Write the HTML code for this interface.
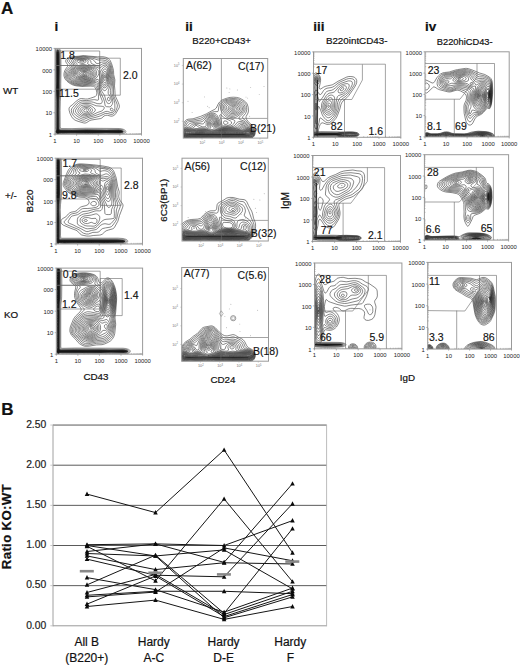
<!DOCTYPE html>
<html><head><meta charset="utf-8"><style>
html,body{margin:0;padding:0;background:#fff;}
svg{display:block;}
text{font-family:"Liberation Sans", sans-serif;}
</style></head><body>
<svg width="520" height="666" viewBox="0 0 520 666">
<defs><clipPath id="ciWT"><rect x="55" y="48.4" width="86.5" height="85.79999999999998"/></clipPath><clipPath id="ciHet"><rect x="56" y="158.2" width="86.5" height="85.80000000000001"/></clipPath><clipPath id="ciKO"><rect x="56.3" y="268.1" width="86.3" height="86.09999999999997"/></clipPath><clipPath id="ciiWT"><rect x="183.3" y="58.5" width="84.39999999999998" height="79.6"/></clipPath><clipPath id="ciiHet"><rect x="182" y="158.2" width="86.30000000000001" height="82.80000000000001"/></clipPath><clipPath id="ciiKO"><rect x="181.7" y="267.5" width="86.80000000000001" height="93.69999999999999"/></clipPath><clipPath id="ciiiWT"><rect x="313.5" y="51.9" width="87.30000000000001" height="85.4"/></clipPath><clipPath id="ciiiHet"><rect x="312.6" y="155.5" width="87.89999999999998" height="85.9"/></clipPath><clipPath id="ciiiKO"><rect x="314.5" y="263" width="87.39999999999998" height="85.80000000000001"/></clipPath><clipPath id="civWT"><rect x="425" y="51.8" width="84.19999999999999" height="85.10000000000001"/></clipPath><clipPath id="civHet"><rect x="424.4" y="154.7" width="84.20000000000005" height="85.4"/></clipPath><clipPath id="civKO"><rect x="427.7" y="262.4" width="83.80000000000001" height="86.70000000000005"/></clipPath></defs>
<rect width="520" height="666" fill="#fff"/>
<g clip-path="url(#ciWT)"><path d="M58.0,134.4 57.5,134.3 57.2,134.1 55.8,132.4 55.4,131.7 55.5,131.2 56.3,129.7 56.5,126.7 56.6,101.2 56.1,94.7 55.9,90.2 56.2,81.9 56.1,54.6 56.2,52.6 56.6,50.9 57.2,49.9 57.8,49.6 58.5,50.0 59.0,50.9 59.4,52.6 59.5,54.6 59.7,70.9 59.4,83.7 59.6,93.4 59.1,100.4 58.9,111.2 59.1,127.7 59.2,128.9 59.5,129.6 60.8,129.9 72.0,130.1 86.2,129.7 106.2,129.9 118.8,129.8 120.8,130.0 122.0,130.3 123.1,130.9 123.4,131.7 123.0,132.4 122.2,132.8 121.2,133.1 119.2,133.3 105.2,133.1 93.8,133.5 71.2,133.2 60.0,133.4 59.1,133.7 58.0,134.4Z" fill="#151515" stroke="none"/><path fill="none" stroke="#242424" stroke-width="0.55" d="M85.2,74.4 84.5,74.6 83.8,74.4 83.2,73.9 83.3,73.4 84.2,72.9 85.5,73.1 85.8,73.4 85.9,73.9 85.2,74.4 M85.5,75.2 84.0,75.2 82.8,74.7 82.0,73.9 82.1,73.2 82.8,72.6 84.0,72.2 85.2,72.2 86.2,72.5 87.0,73.2 87.1,73.9 86.6,74.7 85.5,75.2 M85.5,75.9 83.5,75.8 81.5,74.9 80.6,73.9 80.6,73.2 80.9,72.7 82.0,71.8 84.0,71.4 86.0,71.5 87.4,72.2 88.2,73.2 88.1,74.4 87.2,75.4 85.5,75.9 M87.0,76.4 85.8,76.6 84.2,76.6 82.8,76.3 81.1,75.7 80.2,75.2 79.4,74.4 79.1,73.7 79.2,72.7 79.8,72.0 80.5,71.5 82.8,70.7 85.2,70.6 87.5,71.2 88.9,72.4 89.3,73.2 89.4,74.2 88.7,75.4 88.0,76.0 87.0,76.4 M87.2,77.2 85.8,77.4 84.0,77.2 81.8,76.7 79.6,75.9 78.5,75.2 77.9,74.4 77.7,73.4 77.9,72.4 78.5,71.6 79.4,70.9 82.0,70.0 85.5,69.9 87.0,70.2 88.2,70.7 89.3,71.4 90.1,72.4 90.5,73.4 90.5,74.4 90.1,75.4 89.4,76.2 88.5,76.7 87.2,77.2 M87.5,77.9 85.5,78.1 83.5,77.9 80.0,77.0 78.0,76.2 77.1,75.4 76.6,74.4 76.5,73.2 77.0,71.9 77.8,70.9 78.8,70.2 80.2,69.6 82.0,69.2 84.0,69.1 86.0,69.2 87.8,69.6 89.2,70.3 90.4,71.2 91.1,72.2 91.6,73.4 91.6,74.7 91.0,75.9 90.2,76.7 89.0,77.5 87.5,77.9 M105.0,77.7 104.8,77.2 105.0,76.7 105.2,77.2 105.0,77.7 M87.5,78.7 85.5,78.8 83.2,78.5 79.0,77.5 76.9,76.7 75.8,75.7 75.4,74.4 75.5,72.9 76.2,71.4 77.2,70.2 78.5,69.4 80.2,68.7 82.2,68.4 84.5,68.3 86.8,68.6 88.8,69.2 90.5,70.1 91.7,71.2 92.5,72.4 92.8,73.9 92.5,75.4 91.8,76.7 90.8,77.5 89.2,78.2 87.5,78.7 M105.2,80.5 104.8,80.6 104.2,80.2 103.9,78.4 104.2,76.2 104.5,75.5 105.0,75.2 105.6,75.9 106.0,77.7 105.9,79.4 105.2,80.5 M87.2,79.4 85.0,79.5 82.2,79.1 77.8,78.1 75.7,77.2 74.6,75.9 74.3,74.4 74.7,72.4 75.7,70.7 77.0,69.3 78.5,68.5 80.5,67.9 83.0,67.6 85.2,67.6 87.8,68.0 90.0,68.8 92.0,69.9 93.2,71.2 93.9,72.7 93.9,74.4 93.4,76.2 92.5,77.3 91.2,78.2 89.5,79.0 87.2,79.4 M105.0,82.7 104.2,82.7 103.5,82.0 103.1,80.9 103.0,79.4 103.1,77.2 103.4,75.4 104.0,74.1 104.8,73.5 105.5,73.8 106.1,74.9 106.6,76.7 106.8,78.7 106.7,79.9 106.4,81.2 105.8,82.2 105.0,82.7 M86.8,80.2 83.5,80.1 77.8,79.1 75.8,78.4 74.3,77.4 73.4,75.9 73.3,73.9 74.1,71.7 75.5,69.7 77.0,68.4 78.8,67.5 81.2,66.9 84.0,66.7 86.8,67.0 89.8,67.8 92.3,68.9 94.0,70.1 94.9,71.4 95.3,73.2 95.0,75.2 94.2,76.9 93.0,78.2 91.2,79.1 89.2,79.8 86.8,80.2 M105.0,84.4 104.2,84.5 103.8,84.3 102.8,83.4 102.3,81.9 102.0,79.7 102.3,76.4 103.0,73.7 104.0,71.8 104.5,71.4 105.0,71.3 105.8,71.8 106.5,73.5 107.3,76.9 107.6,79.4 107.4,81.2 106.8,82.7 106.0,83.8 105.0,84.4 M87.0,110.2 86.7,110.2 86.8,109.9 87.0,109.9 87.0,110.2 M82.8,61.9 80.5,61.8 79.8,61.5 79.6,61.1 80.2,60.6 81.8,60.4 83.2,60.5 84.2,60.9 84.3,61.1 84.0,61.5 82.8,61.9 M86.2,80.9 83.0,80.8 76.8,79.8 74.5,78.9 73.0,77.7 72.5,76.9 72.2,75.9 72.1,74.7 72.4,73.4 73.7,70.7 75.8,68.4 77.8,67.0 79.8,66.3 82.5,65.9 84.8,65.9 88.0,66.5 92.2,67.8 94.5,68.9 95.9,70.2 96.6,71.7 96.6,73.7 96.0,75.9 94.9,77.7 93.4,78.9 91.5,79.9 89.0,80.6 86.2,80.9 M104.5,86.2 103.8,86.0 103.0,85.5 101.8,83.9 101.3,81.9 101.1,78.9 101.6,74.9 102.3,71.9 103.6,69.7 104.2,69.0 105.0,68.8 106.0,69.2 106.8,70.7 108.2,77.7 108.4,79.9 108.1,81.9 107.1,84.2 105.8,85.7 104.5,86.2 M86.8,111.9 85.2,112.0 84.2,111.7 83.8,111.2 83.7,110.7 84.1,109.7 85.0,109.0 86.0,108.7 87.2,108.7 88.3,109.2 88.8,109.9 88.7,110.7 88.0,111.4 86.8,111.9 M83.8,63.2 82.0,63.4 79.2,62.8 77.5,62.0 77.1,61.6 77.0,61.1 77.4,60.6 78.2,60.3 81.5,59.8 84.2,59.9 85.9,60.6 86.2,61.1 85.9,61.9 85.0,62.6 83.8,63.2 M85.8,81.7 83.2,81.6 79.8,81.3 77.0,80.9 75.2,80.4 73.6,79.7 72.3,78.7 71.5,77.7 71.0,76.4 71.0,74.7 71.5,72.9 72.5,70.9 74.0,69.0 75.5,67.5 77.2,66.3 79.2,65.3 81.8,64.5 83.0,64.3 84.5,64.5 94.2,67.5 96.0,68.4 97.4,69.4 98.4,70.7 98.9,71.9 98.9,73.4 98.1,75.4 97.0,77.2 95.2,78.8 93.2,80.0 91.2,80.8 88.8,81.3 85.8,81.7 M105.0,87.9 104.0,87.9 103.0,87.4 101.8,85.9 100.9,84.2 100.2,80.9 99.8,74.9 100.2,72.4 101.9,69.2 103.5,67.3 104.2,66.8 105.0,66.7 105.8,66.8 106.5,67.3 107.0,67.9 107.5,69.0 109.2,79.9 108.9,82.4 107.9,84.9 106.5,86.9 105.0,87.9 M85.8,113.4 83.8,113.3 83.0,112.9 82.2,112.2 81.8,111.4 81.7,110.7 81.9,109.9 82.3,109.2 83.8,108.0 85.8,107.5 87.8,107.6 89.5,108.4 90.5,109.7 90.5,110.4 90.2,111.2 89.5,111.9 88.5,112.5 85.8,113.4 M104.8,90.7 104.0,90.5 103.2,90.0 101.5,87.5 100.1,84.7 98.8,80.2 98.0,79.3 96.8,79.4 93.0,81.0 90.2,81.8 87.0,82.3 83.8,82.5 78.5,82.0 75.8,81.6 73.2,80.6 71.4,79.2 70.4,77.9 69.9,76.4 69.8,74.9 70.3,73.2 72.0,70.2 76.5,65.4 77.1,64.4 76.8,63.6 75.0,61.6 75.0,60.9 75.4,60.4 77.2,59.7 81.0,59.2 83.8,59.2 86.0,59.6 87.3,60.1 88.1,60.9 88.2,61.6 87.6,63.4 88.1,64.2 89.7,64.9 94.0,66.2 98.8,68.1 99.5,68.1 100.2,67.8 102.8,65.8 104.0,65.2 105.8,65.1 107.0,65.9 108.0,67.3 108.6,69.2 109.0,74.2 110.0,78.7 110.1,80.9 109.4,83.9 108.0,87.2 106.2,89.8 105.5,90.4 104.8,90.7 M109.2,100.8 108.8,100.9 108.2,100.7 107.5,99.7 107.5,98.2 107.8,97.6 108.2,97.3 109.2,97.6 109.9,98.7 109.9,99.9 109.2,100.8 M85.2,114.7 84.0,114.7 82.8,114.4 81.6,113.7 80.6,112.7 80.1,111.7 79.9,110.7 80.2,109.4 80.8,108.4 81.8,107.4 82.8,106.9 85.8,106.3 87.2,106.2 88.8,106.5 90.0,107.0 91.0,107.7 91.9,108.7 92.4,109.7 92.5,110.7 92.0,111.7 91.0,112.5 89.5,113.3 87.0,114.3 85.2,114.7 M109.5,103.5 108.5,103.6 107.8,103.3 107.0,102.7 106.5,101.9 105.8,100.2 104.5,95.4 102.1,91.7 98.2,82.5 97.8,81.6 97.2,81.2 96.5,81.0 95.8,81.1 91.2,82.4 87.2,83.0 83.5,83.3 80.2,83.1 76.8,82.7 74.2,82.0 71.8,80.7 70.0,79.2 69.2,77.9 68.7,76.4 68.7,74.9 69.1,73.2 70.3,70.9 74.2,66.4 75.1,64.9 74.9,63.9 73.3,61.4 73.3,60.6 73.8,60.0 75.0,59.4 77.0,58.9 82.2,58.5 85.0,58.6 87.5,59.2 89.8,60.1 90.9,61.1 91.0,62.9 91.6,63.6 96.8,65.8 98.2,66.1 99.2,65.9 102.5,64.0 104.2,63.5 106.2,63.9 107.1,64.4 107.9,65.2 108.8,66.7 109.4,68.7 109.8,74.4 110.8,78.7 111.0,80.2 110.9,81.9 110.5,84.2 108.4,90.4 108.1,91.9 108.3,93.7 110.5,96.9 111.3,99.4 111.3,100.9 111.0,102.0 110.4,102.9 109.5,103.5 M85.0,115.9 83.2,115.9 81.5,115.3 79.3,113.7 78.0,111.9 77.8,110.7 78.2,109.2 79.3,107.4 80.8,106.0 82.0,105.4 83.8,105.0 86.8,104.9 89.0,105.1 90.5,105.5 92.0,106.3 93.7,107.7 95.0,108.9 95.3,109.7 95.2,110.7 94.3,111.9 93.1,112.9 90.2,114.3 85.0,115.9 M109.8,106.9 106.6,106.7 105.8,106.3 105.2,105.8 104.4,101.4 103.6,98.9 101.2,93.6 98.5,85.9 97.5,83.8 96.7,82.9 96.0,82.6 95.0,82.5 89.2,83.5 83.8,84.1 77.8,83.7 75.2,83.3 72.8,82.3 70.8,81.1 69.0,79.4 68.1,78.2 67.6,76.7 67.5,74.9 67.9,73.2 69.0,70.9 72.6,66.9 73.6,65.2 73.4,63.9 71.5,61.1 71.5,60.4 72.0,59.6 73.5,58.9 75.8,58.4 82.5,57.8 85.0,57.9 90.8,59.0 92.8,59.6 94.2,60.6 95.8,62.9 97.0,63.6 98.2,63.6 101.5,62.2 104.0,61.9 105.2,62.1 106.5,62.5 107.5,63.2 108.5,64.2 109.5,65.9 110.2,68.2 110.5,70.2 110.7,74.4 111.9,79.7 111.9,82.2 110.4,90.4 110.3,92.2 110.6,93.9 112.4,98.9 112.8,101.7 112.7,103.2 112.0,104.8 110.8,106.4 109.8,106.9 M84.5,117.4 82.5,117.3 80.2,116.2 76.8,113.7 75.6,111.9 75.5,110.4 76.2,108.9 78.8,105.5 80.5,104.1 81.8,103.7 83.0,103.5 89.8,103.6 91.8,104.0 96.0,105.8 102.2,106.3 103.6,106.7 104.2,107.2 104.2,108.2 103.7,109.2 102.8,110.2 101.3,111.2 97.2,112.6 92.8,114.8 84.5,117.4 M112.2,111.0 111.2,110.9 110.4,109.9 110.4,108.7 111.0,108.0 112.2,108.3 113.0,109.2 113.0,110.2 112.8,110.7 112.2,111.0 M84.2,119.2 83.2,119.2 82.0,119.0 79.2,117.6 75.4,114.9 74.4,113.9 73.6,112.7 73.3,110.9 73.7,109.4 74.5,108.2 77.7,104.2 78.8,103.3 80.0,102.5 81.2,102.1 82.5,101.9 86.0,102.1 91.8,101.9 93.5,102.3 97.2,103.6 100.0,103.8 101.2,103.4 102.0,102.7 102.3,101.7 102.1,100.4 100.3,95.9 98.9,90.2 98.0,87.5 97.0,85.4 95.8,84.2 95.0,83.9 93.8,83.8 82.8,84.9 77.0,84.4 74.2,83.8 72.0,82.8 69.8,81.4 68.0,79.7 67.0,78.2 66.5,76.7 66.3,74.9 66.7,72.9 67.1,71.7 67.9,70.4 71.3,66.9 71.9,65.9 72.2,65.2 71.8,63.9 69.6,61.4 69.4,60.6 69.5,60.1 70.1,59.4 70.8,58.9 73.2,58.1 75.5,57.7 83.8,57.0 93.0,58.3 98.0,60.0 103.0,60.0 105.8,60.6 107.8,61.7 109.2,63.4 110.3,65.7 111.2,68.9 111.6,74.4 112.7,78.7 112.9,80.4 112.3,86.7 112.0,93.2 112.4,95.2 114.2,100.4 114.8,103.2 114.9,108.4 114.5,110.4 113.5,111.9 112.2,112.6 110.8,112.6 107.5,111.4 105.8,111.4 100.2,113.8 93.8,116.0 89.0,117.3 84.2,119.2 M84.5,121.2 82.5,121.0 79.8,120.0 76.2,118.2 74.2,116.7 72.8,114.9 71.8,112.9 71.3,110.7 71.6,108.9 72.4,107.7 76.7,102.9 78.8,101.3 80.5,100.5 82.2,100.3 86.8,100.6 93.2,99.7 94.8,99.7 97.2,100.2 98.2,100.1 98.6,99.2 98.4,94.4 97.6,89.9 97.0,88.1 96.2,86.7 95.4,85.7 94.4,85.2 92.2,85.0 82.2,85.7 76.8,85.2 74.2,84.6 72.0,83.7 69.8,82.4 67.7,80.7 66.3,78.9 65.5,77.2 65.1,75.2 65.3,73.2 65.7,71.7 66.5,70.2 67.5,68.9 69.9,66.4 70.4,65.2 70.0,64.2 67.8,61.9 67.5,61.1 67.6,60.1 68.0,59.4 68.9,58.6 71.2,57.7 74.0,57.2 83.2,56.3 93.0,57.2 98.0,58.1 103.0,58.2 105.5,58.8 107.8,59.9 109.5,61.8 110.8,64.4 112.0,68.4 112.4,70.4 112.6,74.4 113.6,78.4 113.9,80.2 113.5,85.9 113.5,94.2 114.2,97.0 117.1,104.2 117.4,105.9 117.0,107.9 115.9,110.7 115.1,112.2 114.0,113.4 112.8,114.2 111.0,114.4 107.2,113.4 105.2,113.5 99.8,116.1 95.0,117.5 89.5,118.8 85.8,120.8 84.5,121.2 M85.8,122.9 84.8,123.1 83.5,122.9 78.0,121.3 75.1,120.2 73.3,118.9 71.6,116.7 70.0,113.4 69.1,110.2 69.0,108.9 69.2,107.9 70.0,106.6 72.8,104.4 75.5,101.8 78.2,99.7 79.8,98.8 81.5,98.5 85.5,99.0 87.5,99.0 90.5,98.2 95.2,96.6 96.2,95.6 96.8,94.1 96.8,92.2 96.2,89.7 95.1,87.4 94.3,86.7 93.5,86.3 90.8,86.1 81.8,86.5 76.0,85.8 73.2,85.1 71.2,84.2 69.0,82.8 67.0,81.2 65.6,79.7 64.7,78.2 64.2,76.7 63.9,75.2 64.1,72.9 64.7,70.9 65.6,69.2 67.6,66.4 67.9,65.7 67.7,64.7 65.9,62.1 65.7,61.4 65.8,60.4 66.3,59.4 67.2,58.5 68.5,57.7 69.8,57.2 72.5,56.7 78.8,56.2 83.0,55.6 84.8,55.6 88.8,56.1 97.5,56.8 102.8,56.7 105.8,57.3 108.2,58.4 109.2,59.3 110.0,60.2 111.6,63.6 113.1,68.7 113.5,70.7 113.7,74.7 114.9,79.9 114.5,85.9 114.9,90.4 115.1,94.7 115.7,96.9 117.6,100.9 119.0,104.4 119.4,106.2 119.2,107.7 115.9,113.4 114.8,114.8 113.2,115.8 112.2,116.1 111.0,116.2 107.5,115.3 105.8,115.3 104.2,115.9 101.8,118.0 100.8,118.5 91.0,120.1 89.2,120.9 86.8,122.5 85.8,122.9"/><path fill="none" stroke="#444" stroke-width="0.5" d="M58.0,133.8 57.2,133.4 56.2,132.2 56.0,131.7 56.7,129.9 56.8,128.9 57.0,112.7 56.9,100.4 56.5,94.7 56.4,90.7 56.6,82.2 56.5,54.9 56.8,51.6 57.2,50.7 57.8,50.3 58.2,50.6 58.7,51.4 59.1,54.9 59.2,70.9 59.0,83.7 59.2,93.9 58.7,100.2 58.6,111.2 58.7,128.2 59.1,129.9 59.5,130.2 60.5,130.3 71.8,130.5 86.5,130.1 106.0,130.4 118.8,130.2 121.5,130.5 122.5,131.1 122.8,131.7 122.5,132.2 121.8,132.5 119.0,133.0 105.2,132.7 93.8,133.1 71.2,132.8 59.8,133.0 59.0,133.2 58.0,133.8 M58.0,134.7 57.2,134.4 55.5,132.4 55.2,131.7 56.2,129.4 56.4,126.7 56.5,101.4 55.8,90.2 56.1,81.9 55.9,54.6 56.1,52.4 56.4,50.9 57.0,49.8 57.8,49.3 58.5,49.7 59.1,50.9 59.5,52.4 59.6,54.9 59.8,70.9 59.5,83.9 59.7,93.4 59.2,100.2 59.1,110.9 59.2,127.7 59.5,129.3 60.0,129.6 60.8,129.7 71.8,129.9 86.2,129.5 106.2,129.8 119.0,129.7 120.8,129.8 122.5,130.3 123.4,130.9 123.7,131.7 123.2,132.4 122.2,132.9 121.0,133.3 119.0,133.5 105.0,133.2 94.0,133.6 71.0,133.3 60.0,133.6 59.2,133.8 58.0,134.7 M58.2,135.7 57.8,135.8 57.2,135.5 56.0,133.9 54.4,132.4 54.2,131.7 54.4,130.9 55.6,129.2 55.8,126.9 55.9,101.4 55.2,89.9 55.4,81.4 55.3,54.1 55.6,51.6 56.1,49.9 56.8,48.8 57.8,48.2 58.8,48.7 59.6,50.1 60.1,52.4 60.2,54.6 60.4,70.7 60.2,83.7 60.3,92.7 59.8,100.3 59.6,110.7 59.7,126.9 60.0,128.7 60.5,129.0 61.3,129.2 71.8,129.3 86.2,128.9 106.5,129.1 118.8,129.1 121.0,129.3 123.0,129.8 124.3,130.7 124.7,131.7 124.4,132.4 123.2,133.2 121.5,133.8 119.5,134.0 104.5,133.8 94.5,134.2 71.8,134.0 61.0,134.2 59.8,134.4 58.2,135.7 M58.0,137.0 57.5,136.9 57.0,136.5 55.5,134.4 53.5,132.7 53.1,131.7 53.4,130.7 55.0,128.9 55.3,126.9 55.4,101.7 54.5,89.9 54.8,80.9 54.7,54.1 55.0,51.4 55.6,49.1 56.5,47.7 57.0,47.2 57.8,47.0 58.5,47.3 59.0,47.7 59.9,49.1 60.6,51.6 60.9,54.6 61.1,70.9 60.8,83.9 60.9,92.7 60.3,101.2 60.1,110.4 60.2,126.4 60.4,127.7 60.6,128.2 61.0,128.4 62.0,128.5 72.0,128.6 86.0,128.2 119.2,128.5 121.8,128.8 124.0,129.5 125.3,130.4 125.7,130.9 125.9,131.7 125.5,132.7 124.2,133.5 122.2,134.2 120.0,134.6 104.0,134.4 93.5,134.9 71.5,134.6 61.2,134.9 60.0,135.2 58.8,136.6 58.0,137.0"/></g>
<path d="M55.00,51.00 L99.70,51.00 L99.70,65.50 L55.00,65.50" stroke="#666" stroke-width="0.6" fill="none"/>
<path d="M55.00,65.50 L99.70,65.50 L99.70,89.20 L55.00,89.20" stroke="#666" stroke-width="0.6" fill="none"/>
<path d="M99.70,58.20 L120.30,58.20 L120.30,95.20 L99.70,95.20 L99.70,58.20" stroke="#666" stroke-width="0.6" fill="none"/>
<rect x="55" y="48.4" width="86.5" height="85.79999999999998" fill="none" stroke="#9a9a9a" stroke-width="1.0"/>
<text x="52.00" y="51.10" font-size="5.9" text-anchor="end" fill="#222">10000</text>
<line x1="53.40" y1="48.40" x2="55.00" y2="48.40" stroke="#777" stroke-width="0.5"/>
<text x="52.00" y="72.55" font-size="5.9" text-anchor="end" fill="#222">000</text>
<line x1="53.40" y1="69.85" x2="55.00" y2="69.85" stroke="#777" stroke-width="0.5"/>
<text x="52.00" y="94.00" font-size="5.9" text-anchor="end" fill="#222">100</text>
<line x1="53.40" y1="91.30" x2="55.00" y2="91.30" stroke="#777" stroke-width="0.5"/>
<text x="52.00" y="115.45" font-size="5.9" text-anchor="end" fill="#222">10</text>
<line x1="53.40" y1="112.75" x2="55.00" y2="112.75" stroke="#777" stroke-width="0.5"/>
<text x="52.00" y="136.90" font-size="5.9" text-anchor="end" fill="#222">1</text>
<line x1="53.40" y1="134.20" x2="55.00" y2="134.20" stroke="#777" stroke-width="0.5"/>
<path d="M55.00,127.74h1.2M61.51,134.20v-1.2M55.00,123.97h1.2M65.32,134.20v-1.2M55.00,121.29h1.2M68.02,134.20v-1.2M55.00,119.21h1.2M70.12,134.20v-1.2M55.00,117.51h1.2M71.83,134.20v-1.2M55.00,116.07h1.2M73.28,134.20v-1.2M55.00,114.83h1.2M74.53,134.20v-1.2M55.00,113.73h1.2M75.64,134.20v-1.2M55.00,106.29h1.2M83.13,134.20v-1.2M55.00,102.52h1.2M86.94,134.20v-1.2M55.00,99.84h1.2M89.64,134.20v-1.2M55.00,97.76h1.2M91.74,134.20v-1.2M55.00,96.06h1.2M93.45,134.20v-1.2M55.00,94.62h1.2M94.90,134.20v-1.2M55.00,93.38h1.2M96.15,134.20v-1.2M55.00,92.28h1.2M97.26,134.20v-1.2M55.00,84.84h1.2M104.76,134.20v-1.2M55.00,81.07h1.2M108.57,134.20v-1.2M55.00,78.39h1.2M111.27,134.20v-1.2M55.00,76.31h1.2M113.37,134.20v-1.2M55.00,74.61h1.2M115.08,134.20v-1.2M55.00,73.17h1.2M116.53,134.20v-1.2M55.00,71.93h1.2M117.78,134.20v-1.2M55.00,70.83h1.2M118.89,134.20v-1.2M55.00,63.39h1.2M126.38,134.20v-1.2M55.00,59.62h1.2M130.19,134.20v-1.2M55.00,56.94h1.2M132.89,134.20v-1.2M55.00,54.86h1.2M134.99,134.20v-1.2M55.00,53.16h1.2M136.70,134.20v-1.2M55.00,51.72h1.2M138.15,134.20v-1.2M55.00,50.48h1.2M139.40,134.20v-1.2M55.00,49.38h1.2M140.51,134.20v-1.2" stroke="#888" stroke-width="0.45" fill="none"/>
<text x="55.00" y="142.80" font-size="5.9" text-anchor="middle" fill="#222">1</text>
<line x1="55.00" y1="134.20" x2="55.00" y2="135.80" stroke="#777" stroke-width="0.5"/>
<text x="76.62" y="142.80" font-size="5.9" text-anchor="middle" fill="#222">10</text>
<line x1="76.62" y1="134.20" x2="76.62" y2="135.80" stroke="#777" stroke-width="0.5"/>
<text x="98.25" y="142.80" font-size="5.9" text-anchor="middle" fill="#222">100</text>
<line x1="98.25" y1="134.20" x2="98.25" y2="135.80" stroke="#777" stroke-width="0.5"/>
<text x="119.88" y="142.80" font-size="5.9" text-anchor="middle" fill="#222">1000</text>
<line x1="119.88" y1="134.20" x2="119.88" y2="135.80" stroke="#777" stroke-width="0.5"/>
<text x="141.50" y="142.80" font-size="5.9" text-anchor="middle" fill="#222">10000</text>
<line x1="141.50" y1="134.20" x2="141.50" y2="135.80" stroke="#777" stroke-width="0.5"/>
<text x="60.30" y="58.78" font-size="10.5" text-anchor="start" fill="#111" stroke="#111" stroke-width="0.15">1.8</text>
<text x="59.10" y="97.48" font-size="10.5" text-anchor="start" fill="#111" stroke="#111" stroke-width="0.15">11.5</text>
<text x="123.00" y="78.98" font-size="10.5" text-anchor="start" fill="#111" stroke="#111" stroke-width="0.15">2.0</text>
<g clip-path="url(#ciHet)"><path d="M58.2,244.1 57.8,244.0 57.3,243.4 56.9,242.4 56.6,241.2 56.7,238.4 56.6,223.9 56.9,206.9 56.8,203.4 56.1,198.7 55.9,194.2 56.2,172.2 56.1,161.4 56.3,159.7 56.6,158.7 57.2,157.8 58.0,157.5 58.8,157.8 59.4,158.7 59.7,159.9 59.9,161.7 60.0,193.7 59.8,198.9 59.2,204.0 59.1,210.2 59.4,220.9 59.4,237.7 59.5,238.9 59.8,239.4 60.5,239.6 65.2,239.5 74.8,239.6 91.5,239.5 116.8,239.5 123.2,240.0 124.6,240.4 125.0,240.8 125.2,241.2 125.1,241.7 124.2,242.3 123.0,242.7 121.0,242.8 104.2,243.2 97.0,242.9 91.2,243.1 73.0,243.0 64.8,243.2 60.0,243.0 59.2,243.1 58.2,244.1Z" fill="#151515" stroke="none"/><path fill="none" stroke="#242424" stroke-width="0.55" d="M86.8,183.7 85.2,183.7 84.8,183.4 84.6,182.9 85.0,182.5 85.5,182.3 87.0,182.4 87.5,182.7 87.6,183.2 86.8,183.7 M86.5,184.5 84.8,184.5 83.5,184.1 82.8,183.4 82.8,182.7 83.8,181.8 85.2,181.4 87.0,181.5 88.5,182.2 88.9,182.9 88.6,183.7 87.8,184.2 86.5,184.5 M85.5,185.2 83.2,185.1 81.8,184.5 81.2,183.4 81.6,182.2 82.2,181.6 83.2,181.0 84.5,180.7 85.8,180.6 88.5,181.2 89.5,181.7 90.3,182.4 90.4,183.4 90.1,183.9 89.5,184.4 87.8,185.0 85.5,185.2 M84.5,186.0 83.0,185.9 81.8,185.6 80.8,185.1 80.1,184.2 79.9,183.2 80.3,182.2 81.2,181.2 82.2,180.5 84.8,179.8 87.8,180.1 90.5,181.1 91.4,181.7 91.9,182.4 92.1,183.2 92.0,183.9 91.5,184.7 90.8,185.2 89.0,185.6 84.5,186.0 M84.0,186.7 82.2,186.6 80.8,186.2 79.7,185.4 78.9,184.2 78.8,182.9 79.3,181.9 80.2,180.8 81.8,179.9 83.2,179.3 84.8,179.1 88.2,179.4 90.2,179.9 91.8,180.6 92.8,181.3 93.4,182.2 93.7,183.2 93.5,184.4 92.8,185.4 91.8,186.1 90.0,186.5 84.0,186.7 M91.0,187.5 86.5,187.3 82.8,187.5 80.8,187.1 79.2,186.3 78.1,184.9 77.7,183.7 77.8,182.4 78.6,181.2 80.0,180.0 81.5,179.1 83.2,178.5 85.0,178.3 87.0,178.4 89.5,178.8 91.8,179.5 93.3,180.2 94.4,181.2 95.0,182.2 95.1,183.4 94.7,184.9 93.8,186.2 92.5,187.1 91.0,187.5 M92.5,188.2 90.8,188.4 86.5,188.1 82.5,188.3 80.2,187.8 78.5,186.8 77.2,185.4 76.5,183.9 76.5,182.4 77.3,181.2 79.0,179.7 81.0,178.5 83.0,177.8 85.0,177.6 87.2,177.7 90.0,178.1 92.8,178.9 94.5,179.7 95.5,180.4 96.3,181.7 96.5,182.9 96.2,184.7 95.3,186.2 94.0,187.5 92.5,188.2 M107.5,190.0 106.9,189.4 106.6,187.9 106.9,186.7 107.5,186.2 108.0,186.7 108.3,188.2 108.1,189.4 107.5,190.0 M92.2,189.2 90.5,189.3 86.2,189.0 82.2,189.1 80.8,188.9 79.5,188.5 77.4,187.2 75.8,185.4 75.0,183.7 75.1,182.2 76.3,180.7 78.8,178.9 81.2,177.6 83.2,177.0 85.5,176.8 88.5,177.0 91.5,177.6 94.5,178.5 96.2,179.5 97.4,180.7 97.9,181.9 97.9,183.4 97.2,185.4 95.8,187.4 94.0,188.7 92.2,189.2 M107.5,192.0 106.8,191.5 106.2,190.6 105.8,189.2 105.6,187.4 106.0,184.9 106.5,184.1 107.2,183.7 108.0,183.9 108.5,184.6 108.9,185.7 109.1,187.2 109.0,188.9 108.7,190.4 108.2,191.4 107.5,192.0 M91.2,190.2 86.5,189.9 81.8,189.9 80.0,189.6 78.5,189.0 76.0,187.4 74.2,185.4 73.4,183.4 73.6,181.9 74.8,180.4 78.0,178.4 80.5,177.1 83.2,176.2 86.0,176.0 89.2,176.3 93.0,177.1 96.0,178.1 97.8,179.2 99.2,180.7 99.7,182.2 99.4,183.9 98.0,186.4 95.8,188.7 93.8,189.8 91.2,190.2 M107.8,195.3 107.2,195.2 106.8,194.8 106.0,193.3 104.9,189.4 104.5,186.4 104.6,184.4 105.0,183.0 105.9,181.9 107.0,181.5 108.0,181.8 109.0,182.8 109.6,184.2 109.9,186.2 109.8,188.9 109.2,192.2 108.5,194.5 107.8,195.3 M85.8,170.5 84.0,170.5 83.2,170.2 83.1,169.9 84.0,169.6 85.5,169.6 86.4,169.9 86.4,170.2 85.8,170.5 M108.5,198.5 107.8,198.7 107.0,198.4 106.2,197.7 105.7,196.9 105.1,195.2 103.2,187.8 102.6,186.2 102.0,185.5 101.5,185.4 101.0,185.6 96.5,189.4 95.0,190.3 93.5,190.8 91.0,191.1 86.5,190.8 81.2,190.8 79.2,190.4 77.5,189.7 75.7,188.7 74.2,187.5 73.0,185.9 72.1,184.2 71.8,182.9 72.1,181.7 72.7,180.7 73.8,179.8 79.0,176.8 82.2,175.6 85.2,175.2 90.0,175.6 95.5,176.9 98.0,178.0 101.5,180.5 102.5,181.0 103.5,180.9 106.2,179.8 107.2,179.8 108.0,180.0 109.0,180.7 109.9,181.9 110.5,183.7 110.7,185.7 110.5,189.4 109.8,195.7 109.2,197.7 108.5,198.5 M87.0,171.5 84.8,171.7 81.5,171.2 79.8,170.6 79.4,170.2 79.3,169.7 80.0,169.1 81.5,168.8 84.8,168.8 87.0,169.1 88.2,169.5 88.8,170.2 88.2,170.9 87.0,171.5 M108.8,201.5 107.8,201.4 106.8,200.8 105.8,199.8 105.0,198.7 104.0,196.4 102.8,190.9 102.0,189.4 101.2,188.7 100.5,188.6 99.8,188.8 95.2,191.2 92.5,191.9 82.0,191.8 79.2,191.3 75.0,189.7 73.8,188.9 72.8,187.9 71.4,185.7 70.5,183.7 70.4,182.2 70.9,180.9 71.8,179.9 73.0,178.9 78.8,175.9 82.2,174.6 85.2,174.0 88.8,174.3 94.2,175.6 97.2,176.6 102.0,178.7 103.5,178.7 106.8,178.2 108.5,178.6 109.7,179.7 110.6,181.2 111.3,183.2 111.5,185.4 111.1,194.7 110.8,198.0 110.0,200.4 109.5,201.1 108.8,201.5 M86.2,221.5 85.2,221.5 84.5,221.2 84.0,220.7 84.1,220.2 85.2,219.6 86.0,219.6 86.8,219.8 87.2,220.2 87.3,220.7 86.9,221.2 86.2,221.5 M109.5,207.2 108.8,207.4 108.0,207.2 107.1,206.2 105.8,202.9 103.1,197.9 101.5,192.2 101.1,191.4 100.5,191.0 99.8,190.8 98.8,190.9 94.8,192.4 92.2,192.8 81.2,192.6 78.5,192.1 74.8,190.8 73.0,189.9 72.0,189.0 71.0,187.4 69.3,184.2 69.1,182.9 69.2,181.7 70.1,179.9 71.6,178.4 77.5,175.2 80.0,173.4 80.0,172.9 78.0,171.6 77.3,170.7 77.1,169.7 77.8,168.7 79.2,167.9 81.0,167.7 87.0,168.3 89.5,168.7 90.7,169.2 91.5,169.9 91.6,170.7 90.5,172.4 90.8,172.9 91.7,173.4 101.5,177.0 103.0,177.1 106.2,176.5 107.5,176.6 109.0,177.3 110.2,178.4 111.2,179.9 111.9,181.9 112.3,183.9 112.3,185.9 111.8,203.2 111.5,204.7 111.0,205.8 110.2,206.7 109.5,207.2 M95.2,223.5 93.8,223.4 92.0,222.5 91.2,222.3 87.5,223.6 85.5,223.5 84.0,222.9 82.7,221.9 82.1,220.9 82.1,219.9 82.5,219.1 83.2,218.4 84.2,217.9 85.5,217.6 88.2,217.6 91.8,218.6 95.2,218.3 96.0,218.7 96.5,219.2 96.9,219.9 97.1,220.9 96.7,222.4 96.0,223.2 95.2,223.5 M110.2,214.5 108.8,214.6 106.5,214.5 105.5,214.2 104.9,213.4 104.4,205.4 104.1,203.4 103.6,201.9 101.7,198.2 100.5,194.2 100.0,193.4 99.5,192.9 98.8,192.6 98.0,192.6 94.0,193.6 91.5,193.9 80.2,193.4 77.8,192.8 73.2,191.3 71.8,190.4 70.8,189.4 68.1,184.4 67.8,183.2 68.0,181.7 68.9,179.7 70.3,177.9 71.8,176.8 75.0,174.9 76.1,173.9 76.3,172.9 75.6,171.2 75.5,169.9 76.0,168.7 77.0,167.8 78.8,167.0 80.8,166.8 88.8,167.7 91.7,168.2 93.1,168.7 94.3,169.4 95.0,170.4 95.2,171.9 95.5,172.7 96.4,173.4 97.8,174.2 99.8,175.0 101.5,175.3 103.0,175.0 105.2,174.0 106.8,173.9 107.8,174.3 108.8,174.9 110.8,177.1 112.3,179.9 113.1,183.4 113.1,197.2 113.8,203.2 113.5,204.9 111.5,209.7 111.3,213.4 111.0,214.0 110.2,214.5 M94.5,226.0 93.2,226.2 90.2,226.0 87.0,226.0 85.2,225.6 83.5,224.8 81.3,223.4 80.4,222.2 80.0,220.4 80.4,218.7 81.8,217.1 84.0,216.0 91.2,215.1 95.5,213.9 96.5,213.9 97.3,214.2 98.7,215.2 99.6,216.4 99.8,217.7 99.6,219.4 98.8,221.7 97.6,223.7 96.0,225.2 94.5,226.0 M89.0,228.7 87.2,228.8 85.8,228.5 79.5,225.7 78.2,224.9 77.5,223.9 77.3,222.9 77.4,219.4 77.8,217.9 78.5,216.9 79.8,215.9 81.8,214.7 83.2,214.1 88.5,213.2 95.0,211.0 96.8,210.8 99.5,210.9 100.8,210.6 101.7,209.7 102.3,208.4 102.7,206.2 102.6,203.9 102.0,201.9 100.3,198.7 99.2,195.9 98.7,195.2 98.0,194.6 96.8,194.4 93.0,195.0 91.0,195.1 85.2,194.5 79.5,194.2 72.5,192.1 71.0,191.2 69.7,189.7 67.3,185.4 66.7,184.2 66.6,182.7 67.1,180.9 68.2,178.7 69.4,176.9 70.5,175.9 72.8,174.2 73.5,173.4 73.7,172.7 73.8,170.2 74.7,168.4 76.5,166.9 78.8,166.2 81.2,166.1 92.2,167.3 94.2,167.8 95.9,168.4 100.0,171.3 100.8,171.3 102.8,170.8 104.2,170.7 106.0,170.9 107.5,171.4 109.5,172.8 111.2,175.3 112.9,178.7 113.9,182.4 114.1,184.7 114.2,197.2 114.5,199.1 115.5,202.4 115.7,203.9 115.5,205.4 114.3,208.2 114.1,209.4 114.4,213.7 114.2,217.9 113.8,218.4 111.0,218.9 106.0,219.3 104.0,219.8 101.5,221.5 97.2,226.2 95.8,227.4 94.0,228.1 89.0,228.7 M88.2,231.5 86.8,231.6 85.0,231.0 80.8,228.6 76.8,226.8 73.0,224.8 69.5,223.4 68.4,222.7 68.1,221.9 68.5,220.7 70.2,217.9 71.2,216.7 72.2,216.0 77.5,214.7 79.0,213.9 81.8,212.0 83.0,211.5 87.5,211.1 93.2,209.6 98.8,208.5 99.5,208.1 100.2,207.4 100.9,205.7 100.9,203.9 100.3,201.9 98.0,198.1 96.8,196.8 95.5,196.4 90.5,196.4 85.0,195.4 79.8,195.1 72.8,193.1 70.8,192.1 69.4,190.9 66.0,185.7 65.6,184.7 65.4,183.4 66.1,180.9 68.0,176.8 70.9,172.9 72.5,169.4 73.7,167.9 75.2,166.6 76.8,165.9 78.8,165.4 81.5,165.3 92.8,166.4 99.5,168.1 105.0,168.9 108.3,169.9 110.5,171.4 111.9,173.4 113.9,178.2 114.9,182.4 115.5,192.2 115.5,197.4 115.9,199.2 117.4,202.9 117.8,204.9 117.6,206.4 116.4,209.9 115.9,216.4 115.6,217.9 115.2,218.9 111.2,223.4 110.2,224.1 108.8,224.4 105.0,223.7 102.8,224.1 100.5,225.3 97.6,228.4 96.5,229.3 95.0,229.8 91.5,230.4 88.2,231.5 M88.5,234.0 86.2,234.0 83.5,233.2 82.2,232.4 79.6,230.2 77.9,229.2 66.0,224.4 64.8,223.4 64.2,222.2 64.3,221.4 64.8,220.7 67.2,218.5 69.8,215.2 71.2,214.2 72.5,213.7 75.5,213.2 77.0,212.7 78.5,211.7 81.0,209.4 82.5,208.7 84.0,208.5 87.8,208.5 92.0,208.1 96.2,207.3 98.1,206.2 98.7,205.4 98.9,204.7 98.9,203.2 98.3,201.7 97.0,200.0 95.8,199.0 94.5,198.6 90.5,198.1 85.4,196.4 78.8,195.9 71.8,193.6 70.0,192.7 68.6,191.4 64.8,185.9 64.2,183.9 64.6,181.9 67.1,175.7 70.1,170.2 71.8,168.2 74.0,166.4 76.0,165.3 78.2,164.7 81.5,164.6 92.2,165.5 103.2,167.2 108.5,168.5 110.0,169.2 111.3,170.2 112.4,171.4 113.2,172.9 115.3,178.9 115.9,181.9 116.5,187.9 117.2,191.7 116.9,195.9 117.0,197.6 117.6,199.4 119.8,203.7 120.3,205.2 120.2,206.9 118.3,211.7 116.6,219.4 115.6,221.4 112.2,226.0 111.2,226.7 110.0,227.2 105.5,227.9 102.5,228.6 101.5,229.2 99.5,231.4 98.2,232.1 96.8,232.3 92.8,232.4 88.5,234.0 M90.2,236.0 88.5,236.1 86.5,236.0 83.2,235.4 81.5,234.9 80.1,233.9 77.6,231.2 76.0,230.2 71.0,228.4 63.2,225.1 61.6,223.7 60.9,222.2 61.0,220.7 61.8,219.3 62.8,218.5 65.8,216.9 68.4,213.9 69.5,213.0 71.2,212.2 74.8,211.5 76.0,211.0 77.2,210.2 79.2,208.1 80.5,207.2 81.8,206.6 85.2,205.8 86.9,205.2 88.4,204.2 89.1,202.9 89.0,201.4 88.4,199.9 87.5,198.9 86.0,198.0 84.2,197.4 80.2,197.2 78.2,196.8 72.0,194.6 69.5,193.3 68.1,192.2 66.7,190.7 64.2,187.4 63.3,185.7 63.1,183.9 63.4,182.2 66.6,173.7 68.4,169.9 70.0,168.1 73.2,165.8 75.2,164.8 77.8,164.1 80.0,163.9 82.2,163.9 93.5,164.8 102.5,165.9 108.8,167.1 110.5,167.9 112.0,168.9 113.2,170.2 114.0,171.7 115.4,175.4 116.3,178.4 117.7,186.7 119.2,191.7 119.2,192.9 118.7,196.2 119.0,198.2 120.0,200.4 122.5,203.7 123.0,204.9 123.0,205.9 122.7,207.2 119.5,215.5 117.9,221.2 114.5,227.3 113.8,228.2 112.5,228.9 108.5,230.0 106.2,230.8 104.8,231.8 102.5,234.0 101.0,234.8 99.5,235.1 93.2,235.5 90.2,236.0 M94.5,205.7 95.8,205.1 96.4,204.2 96.4,203.2 95.9,202.2 95.0,201.6 93.8,201.4 92.5,201.7 91.4,202.4 90.9,203.2 90.7,203.7 90.9,204.4 91.3,204.9 91.9,205.4 92.8,205.7 94.5,205.7"/><path fill="none" stroke="#444" stroke-width="0.5" d="M58.2,243.4 57.8,243.3 57.5,243.0 57.0,241.2 56.9,223.9 57.3,207.2 57.1,203.4 56.6,199.2 56.3,194.2 56.5,185.7 56.5,161.4 56.9,159.2 57.5,158.3 58.0,158.1 58.5,158.3 59.1,159.2 59.4,161.7 59.6,194.2 59.4,199.4 58.9,203.7 58.7,210.2 59.1,221.4 59.0,237.9 59.2,239.7 60.0,240.0 64.8,239.9 74.5,240.0 91.5,239.9 116.2,240.0 122.8,240.3 124.0,240.7 124.5,241.2 124.3,241.7 123.8,242.0 121.0,242.4 104.2,242.7 97.5,242.5 91.2,242.7 73.2,242.6 64.8,242.8 59.5,242.5 59.0,242.7 58.2,243.4 M58.2,244.3 57.8,244.3 57.2,243.7 56.6,242.2 56.5,241.2 56.5,224.2 56.8,206.8 56.6,203.2 55.9,197.7 55.8,194.2 56.0,171.9 55.9,161.4 56.1,159.7 56.6,158.4 57.2,157.5 58.0,157.2 58.8,157.5 59.4,158.4 59.9,159.9 60.0,161.7 60.2,193.9 59.9,199.4 59.4,204.4 59.2,209.9 59.6,221.4 59.5,237.4 59.8,239.1 60.0,239.3 60.8,239.4 116.8,239.4 123.2,239.8 124.8,240.3 125.2,240.7 125.5,241.2 125.2,241.9 124.2,242.5 123.0,242.8 121.0,243.0 104.2,243.3 97.0,243.1 91.2,243.2 73.0,243.1 64.8,243.4 60.0,243.1 59.2,243.4 58.2,244.3 M58.0,245.5 57.5,245.3 56.9,244.4 56.1,242.4 55.8,241.2 56.1,238.4 55.9,224.4 56.2,206.9 56.0,203.2 55.3,198.2 55.1,193.9 55.3,160.9 55.6,159.2 56.2,157.7 57.0,156.6 58.0,156.2 59.0,156.5 59.9,157.7 60.5,159.4 60.7,161.7 60.9,193.4 60.6,198.9 59.9,204.7 59.7,209.7 60.1,221.2 60.0,236.7 60.3,238.4 60.8,238.7 61.5,238.8 118.0,238.8 122.2,239.0 124.2,239.4 126.0,240.2 126.6,241.2 126.4,241.9 125.2,242.8 123.5,243.3 121.5,243.6 104.5,243.9 97.0,243.7 91.0,243.9 73.0,243.8 65.5,244.0 60.5,243.8 59.8,244.0 58.5,245.3 58.0,245.5 M58.5,246.5 57.8,246.6 57.0,245.9 55.3,242.4 55.0,241.4 55.5,237.9 55.4,224.7 55.7,206.9 55.5,204.0 54.6,197.9 54.4,194.2 54.6,160.9 55.1,158.4 55.8,156.7 56.8,155.6 58.0,155.0 59.2,155.5 60.4,156.9 61.1,158.9 61.4,161.4 61.6,192.7 61.3,198.2 60.5,204.8 60.3,209.4 60.6,221.4 60.5,235.4 60.8,237.7 61.2,238.1 62.2,238.2 118.2,238.1 123.0,238.5 125.2,239.0 127.1,239.9 127.7,240.7 127.8,241.2 127.4,242.2 126.2,243.1 124.2,243.8 122.0,244.1 104.2,244.6 96.8,244.3 90.8,244.5 73.0,244.4 65.8,244.6 61.0,244.5 60.0,244.8 58.5,246.5"/></g>
<path d="M56.00,159.40 L100.20,159.40 L100.20,175.80 L56.00,175.80" stroke="#666" stroke-width="0.6" fill="none"/>
<path d="M56.00,175.80 L100.20,175.80 L100.20,199.00 L56.00,199.00" stroke="#666" stroke-width="0.6" fill="none"/>
<path d="M100.20,168.00 L121.20,168.00 L121.20,205.40 L100.20,205.40 L100.20,168.00" stroke="#666" stroke-width="0.6" fill="none"/>
<rect x="56" y="158.2" width="86.5" height="85.80000000000001" fill="none" stroke="#9a9a9a" stroke-width="1.0"/>
<text x="53.00" y="160.90" font-size="5.9" text-anchor="end" fill="#222">10000</text>
<line x1="54.40" y1="158.20" x2="56.00" y2="158.20" stroke="#777" stroke-width="0.5"/>
<text x="53.00" y="182.35" font-size="5.9" text-anchor="end" fill="#222">000</text>
<line x1="54.40" y1="179.65" x2="56.00" y2="179.65" stroke="#777" stroke-width="0.5"/>
<text x="53.00" y="203.80" font-size="5.9" text-anchor="end" fill="#222">100</text>
<line x1="54.40" y1="201.10" x2="56.00" y2="201.10" stroke="#777" stroke-width="0.5"/>
<text x="53.00" y="225.25" font-size="5.9" text-anchor="end" fill="#222">10</text>
<line x1="54.40" y1="222.55" x2="56.00" y2="222.55" stroke="#777" stroke-width="0.5"/>
<text x="53.00" y="246.70" font-size="5.9" text-anchor="end" fill="#222">1</text>
<line x1="54.40" y1="244.00" x2="56.00" y2="244.00" stroke="#777" stroke-width="0.5"/>
<path d="M56.00,237.54h1.2M62.51,244.00v-1.2M56.00,233.77h1.2M66.32,244.00v-1.2M56.00,231.09h1.2M69.02,244.00v-1.2M56.00,229.01h1.2M71.12,244.00v-1.2M56.00,227.31h1.2M72.83,244.00v-1.2M56.00,225.87h1.2M74.28,244.00v-1.2M56.00,224.63h1.2M75.53,244.00v-1.2M56.00,223.53h1.2M76.64,244.00v-1.2M56.00,216.09h1.2M84.13,244.00v-1.2M56.00,212.32h1.2M87.94,244.00v-1.2M56.00,209.64h1.2M90.64,244.00v-1.2M56.00,207.56h1.2M92.74,244.00v-1.2M56.00,205.86h1.2M94.45,244.00v-1.2M56.00,204.42h1.2M95.90,244.00v-1.2M56.00,203.18h1.2M97.15,244.00v-1.2M56.00,202.08h1.2M98.26,244.00v-1.2M56.00,194.64h1.2M105.76,244.00v-1.2M56.00,190.87h1.2M109.57,244.00v-1.2M56.00,188.19h1.2M112.27,244.00v-1.2M56.00,186.11h1.2M114.37,244.00v-1.2M56.00,184.41h1.2M116.08,244.00v-1.2M56.00,182.97h1.2M117.53,244.00v-1.2M56.00,181.73h1.2M118.78,244.00v-1.2M56.00,180.63h1.2M119.89,244.00v-1.2M56.00,173.19h1.2M127.38,244.00v-1.2M56.00,169.42h1.2M131.19,244.00v-1.2M56.00,166.74h1.2M133.89,244.00v-1.2M56.00,164.66h1.2M135.99,244.00v-1.2M56.00,162.96h1.2M137.70,244.00v-1.2M56.00,161.52h1.2M139.15,244.00v-1.2M56.00,160.28h1.2M140.40,244.00v-1.2M56.00,159.18h1.2M141.51,244.00v-1.2" stroke="#888" stroke-width="0.45" fill="none"/>
<text x="56.00" y="252.60" font-size="5.9" text-anchor="middle" fill="#222">1</text>
<line x1="56.00" y1="244.00" x2="56.00" y2="245.60" stroke="#777" stroke-width="0.5"/>
<text x="77.62" y="252.60" font-size="5.9" text-anchor="middle" fill="#222">10</text>
<line x1="77.62" y1="244.00" x2="77.62" y2="245.60" stroke="#777" stroke-width="0.5"/>
<text x="99.25" y="252.60" font-size="5.9" text-anchor="middle" fill="#222">100</text>
<line x1="99.25" y1="244.00" x2="99.25" y2="245.60" stroke="#777" stroke-width="0.5"/>
<text x="120.88" y="252.60" font-size="5.9" text-anchor="middle" fill="#222">1000</text>
<line x1="120.88" y1="244.00" x2="120.88" y2="245.60" stroke="#777" stroke-width="0.5"/>
<text x="142.50" y="252.60" font-size="5.9" text-anchor="middle" fill="#222">10000</text>
<line x1="142.50" y1="244.00" x2="142.50" y2="245.60" stroke="#777" stroke-width="0.5"/>
<text x="62.40" y="167.48" font-size="10.5" text-anchor="start" fill="#111" stroke="#111" stroke-width="0.15">1.7</text>
<text x="61.90" y="198.58" font-size="10.5" text-anchor="start" fill="#111" stroke="#111" stroke-width="0.15">9.8</text>
<text x="124.00" y="188.68" font-size="10.5" text-anchor="start" fill="#111" stroke="#111" stroke-width="0.15">2.8</text>
<g clip-path="url(#ciKO)"><path d="M58.8,353.9 58.3,354.1 57.8,353.8 56.1,351.9 55.9,351.4 56.1,350.9 56.9,349.6 57.1,348.1 56.9,337.6 57.1,331.9 56.8,314.1 56.9,304.6 56.1,296.6 56.3,289.1 56.2,271.9 56.4,270.1 56.8,268.6 57.5,267.6 58.3,267.3 59.0,267.6 59.7,268.6 60.1,270.1 60.3,272.1 60.2,298.1 59.7,303.9 59.6,308.1 59.7,316.9 59.6,324.4 59.6,347.6 59.6,348.6 59.9,349.4 60.3,349.6 61.3,349.7 74.3,349.5 94.3,349.6 101.0,349.5 109.0,349.7 123.0,349.6 125.0,349.8 126.8,350.2 127.8,350.8 128.0,351.4 127.8,351.9 126.8,352.4 125.5,352.8 123.5,353.0 111.3,352.8 100.8,353.1 89.8,352.9 82.5,353.1 60.8,352.9 59.7,353.1 58.8,353.9Z" fill="#151515" stroke="none"/><path fill="none" stroke="#242424" stroke-width="0.55" d="M108.5,301.5 108.2,301.1 108.0,300.1 108.1,299.1 108.3,298.6 108.5,298.5 108.9,299.1 109.0,300.1 108.8,301.1 108.5,301.5 M91.0,328.7 90.5,328.7 90.2,328.4 90.2,327.9 90.5,327.5 91.0,327.4 91.6,327.9 91.5,328.4 91.0,328.7 M108.5,302.6 108.1,302.4 107.8,301.8 107.5,299.4 107.8,297.4 108.0,297.0 108.5,296.7 109.0,297.1 109.3,297.6 109.5,299.4 109.2,301.6 108.9,302.4 108.5,302.6 M91.3,330.1 89.8,330.2 89.1,329.9 88.6,329.4 88.4,328.6 88.5,327.9 89.3,326.8 90.0,326.5 91.0,326.5 91.8,326.7 92.5,327.4 92.7,328.1 92.6,328.9 92.1,329.6 91.3,330.1 M108.8,304.0 108.3,304.0 107.6,303.1 107.2,301.4 107.0,299.4 107.0,297.9 107.4,296.4 107.8,295.5 108.5,295.1 109.0,295.3 109.6,296.1 110.1,298.6 109.7,301.9 109.3,303.2 108.8,304.0 M90.8,331.6 89.5,331.6 88.3,331.1 87.4,330.1 87.0,329.1 87.1,327.9 87.5,326.9 88.3,326.1 89.5,325.6 91.0,325.5 92.3,325.9 93.3,326.7 93.9,327.9 93.8,329.1 93.3,330.1 92.2,331.1 90.8,331.6 M108.8,305.9 108.3,306.0 108.0,305.9 107.4,304.6 106.7,301.9 106.4,299.1 106.6,296.9 107.0,295.1 107.8,293.8 108.5,293.5 109.3,293.9 110.0,295.1 110.4,296.6 110.6,298.4 110.5,300.6 110.0,303.1 109.5,304.9 108.8,305.9 M89.8,296.6 89.0,296.7 88.6,296.4 88.5,295.9 88.8,295.5 89.5,295.2 90.2,295.6 90.3,296.1 89.8,296.6 M90.8,332.9 89.0,332.9 87.5,332.1 86.4,330.9 85.8,329.4 85.8,327.9 86.5,326.4 87.5,325.3 89.0,324.7 91.0,324.6 93.0,325.1 94.3,326.1 95.1,327.6 95.0,329.4 94.2,330.9 92.5,332.2 90.8,332.9 M108.5,308.1 108.0,308.1 107.5,307.6 106.9,306.1 106.2,301.9 105.9,298.4 106.1,295.9 106.7,293.9 107.5,292.4 108.0,292.0 108.5,291.9 109.5,292.6 110.4,294.1 110.9,296.1 111.2,298.4 110.9,301.1 110.0,305.7 109.4,307.4 108.5,308.1 M90.0,297.7 89.3,297.8 88.5,297.7 87.7,296.9 87.6,295.6 88.0,295.0 88.8,294.5 89.5,294.3 90.3,294.4 91.0,294.9 91.3,295.4 91.4,295.9 91.2,296.6 90.8,297.2 90.0,297.7 M90.3,334.1 89.0,334.0 88.0,333.7 87.0,333.1 85.9,332.1 85.2,331.1 84.7,329.9 84.6,328.6 84.8,327.4 85.2,326.4 85.9,325.4 87.5,324.1 90.0,323.7 93.3,324.0 95.0,324.9 96.0,326.1 96.4,327.9 96.2,329.6 95.4,331.1 93.8,332.6 92.0,333.7 90.3,334.1 M84.0,279.7 83.3,279.7 82.8,279.4 83.3,279.0 84.0,279.0 84.4,279.4 84.0,279.7 M108.3,309.9 107.8,309.8 107.2,309.4 106.4,307.6 105.7,302.1 105.4,298.1 105.6,295.4 106.4,292.6 107.3,290.9 108.3,290.3 109.0,290.5 109.5,290.9 110.5,292.6 111.4,295.4 111.7,298.1 111.4,301.1 110.5,307.1 109.5,309.0 109.0,309.5 108.3,309.9 M89.5,298.9 88.3,298.8 87.3,298.1 86.7,297.1 86.6,296.1 87.0,295.1 87.9,294.1 89.0,293.5 90.3,293.5 91.3,293.8 91.9,294.4 92.3,295.1 92.4,296.1 92.1,297.1 91.5,297.9 90.5,298.5 89.5,298.9 M90.5,335.1 89.0,335.1 87.5,334.6 86.0,333.7 84.9,332.6 83.9,331.1 83.5,329.9 83.4,328.4 83.7,326.9 84.3,325.6 85.3,324.4 86.3,323.6 87.3,323.1 88.8,322.8 91.0,322.7 93.3,322.8 94.8,323.1 96.3,324.1 97.3,325.6 97.7,327.9 97.5,329.9 96.7,331.4 95.0,332.9 92.5,334.5 90.5,335.1 M84.5,280.2 83.5,280.3 82.3,280.2 81.5,279.9 81.3,279.4 81.5,278.9 82.3,278.5 83.3,278.3 84.3,278.4 85.2,278.9 85.5,279.4 85.2,279.9 84.5,280.2 M108.3,311.4 107.5,311.3 106.8,310.8 105.9,308.9 105.4,306.1 104.9,298.1 105.2,294.6 106.0,291.4 107.0,289.5 107.5,289.1 108.3,288.9 109.0,289.0 109.5,289.4 110.2,290.1 110.8,291.3 111.9,294.9 112.2,298.1 112.0,300.9 111.0,307.9 110.5,309.1 109.8,310.3 109.0,311.0 108.3,311.4 M89.3,299.9 87.8,299.7 86.5,298.9 85.8,297.4 85.8,295.9 86.5,294.4 87.8,293.2 89.5,292.6 91.0,292.6 92.0,293.0 92.9,293.9 93.4,295.1 93.3,296.4 92.8,297.6 91.8,298.8 90.5,299.6 89.3,299.9 M90.3,336.1 88.5,336.0 86.5,335.2 84.9,334.1 83.5,332.6 82.6,331.4 82.1,329.9 82.1,328.4 82.5,326.6 83.3,325.1 84.3,323.7 85.3,322.8 86.5,322.2 88.5,321.8 93.0,321.6 94.5,321.6 95.8,322.0 96.8,322.5 97.5,323.3 98.6,325.4 99.1,328.1 98.7,330.4 97.6,332.1 95.5,333.8 92.5,335.5 90.3,336.1 M84.0,280.9 82.3,280.9 80.9,280.6 80.0,279.9 79.9,279.1 80.2,278.6 81.0,278.1 82.8,277.7 84.8,277.8 86.3,278.6 86.6,279.1 86.4,279.9 85.5,280.4 84.0,280.9 M108.3,312.9 107.3,312.8 106.5,312.3 105.8,311.2 105.3,309.9 104.8,306.6 104.4,297.9 104.6,294.1 105.6,290.4 106.2,289.1 106.8,288.4 107.5,287.9 108.3,287.7 109.0,287.9 109.8,288.4 110.5,289.2 111.1,290.4 112.4,294.6 112.7,298.1 111.9,306.4 111.4,308.6 110.9,310.1 110.0,311.4 109.0,312.5 108.3,312.9 M89.0,300.9 88.0,300.8 87.0,300.5 85.6,299.4 84.8,297.6 84.9,295.6 85.9,293.9 87.8,292.3 89.8,291.6 91.8,291.7 93.0,292.4 94.0,293.6 94.4,295.1 94.2,296.6 93.5,298.1 92.3,299.5 90.8,300.4 89.0,300.9 M91.3,336.9 89.3,337.0 87.3,336.5 85.3,335.6 83.3,334.1 81.7,332.4 80.9,330.9 80.7,329.1 80.9,327.4 81.6,325.6 82.9,323.6 84.0,322.2 85.3,321.4 87.8,320.8 93.8,320.4 95.8,320.6 97.0,321.1 98.1,321.9 99.1,323.1 99.9,324.4 100.4,325.9 100.6,327.1 100.4,329.9 99.5,331.9 98.0,333.4 93.8,335.9 91.3,336.9 M106.3,328.4 105.5,328.5 105.1,328.1 104.4,326.6 104.7,325.1 105.3,324.5 105.8,324.3 106.3,324.4 106.8,324.7 107.3,325.9 107.1,327.4 106.3,328.4 M84.5,281.4 82.0,281.6 80.0,281.2 79.3,280.8 78.7,280.1 78.5,279.4 78.7,278.9 79.3,278.1 80.2,277.6 82.8,277.0 85.5,277.3 86.8,277.8 87.5,278.4 87.9,279.1 87.5,280.1 86.3,280.9 84.5,281.4 M108.5,314.4 107.5,314.6 106.5,314.1 105.5,312.8 104.9,311.1 104.2,306.9 103.8,297.9 104.1,293.4 105.1,289.6 105.7,288.4 106.5,287.4 107.3,286.9 108.3,286.7 109.3,286.9 110.0,287.4 110.8,288.2 111.4,289.4 112.7,293.6 113.2,297.9 112.4,306.6 112.0,309.1 110.5,312.4 109.5,313.6 108.5,314.4 M88.8,301.9 87.5,301.7 86.5,301.4 85.5,300.7 84.7,299.9 84.1,298.9 83.8,297.6 83.8,296.6 84.0,295.4 84.7,294.1 85.5,293.1 87.8,291.3 89.0,290.8 90.3,290.6 91.5,290.6 92.8,290.9 94.2,291.9 95.1,293.4 95.4,295.1 95.1,297.1 94.1,298.9 92.5,300.4 90.5,301.5 88.8,301.9 M91.0,337.9 89.5,338.0 88.0,337.7 84.5,336.3 81.7,334.1 80.5,332.9 79.7,331.6 79.4,330.6 79.3,329.4 79.5,327.9 79.9,326.4 81.4,323.6 83.5,320.9 84.8,320.1 86.3,319.7 94.8,319.2 96.3,319.5 97.8,320.2 101.8,323.1 102.8,323.1 104.8,322.2 105.8,322.1 106.8,322.3 107.5,322.9 108.4,324.4 108.5,326.1 108.0,328.1 106.8,329.8 105.5,330.4 103.0,330.4 102.3,330.9 100.6,333.1 99.0,334.3 93.8,337.0 91.0,337.9 M83.8,282.1 81.0,282.2 78.8,281.5 77.9,280.9 77.4,280.1 77.2,279.4 77.5,278.6 78.3,277.7 79.5,277.1 81.0,276.6 83.0,276.4 85.0,276.5 86.8,276.9 88.3,277.6 89.1,278.4 89.4,278.9 89.3,279.6 88.5,280.6 86.5,281.5 83.8,282.1 M107.8,316.9 107.0,317.0 106.0,316.0 104.9,313.9 104.2,311.6 103.5,305.9 103.2,296.4 103.7,292.1 104.7,288.6 105.4,287.4 106.3,286.4 107.3,285.8 108.3,285.7 109.3,285.9 110.3,286.5 111.2,287.6 111.9,288.9 112.7,291.1 113.3,294.1 113.7,298.4 112.9,307.4 112.4,309.9 111.4,312.4 110.1,314.6 109.0,316.0 107.8,316.9 M88.8,302.9 87.5,302.7 86.0,302.2 84.8,301.4 84.0,300.6 83.2,299.4 82.8,298.1 82.6,296.6 82.9,295.4 83.5,294.1 84.5,292.9 86.0,291.4 87.5,290.4 88.8,289.9 90.3,289.6 91.8,289.6 93.3,289.9 94.3,290.4 95.0,291.1 96.1,292.9 96.5,294.9 96.2,297.1 94.9,299.4 93.1,301.1 90.8,302.5 88.8,302.9 M90.8,338.9 89.3,338.9 87.8,338.6 83.8,337.0 80.8,334.8 79.3,333.4 78.5,332.1 78.1,330.9 78.0,329.6 78.6,326.4 79.7,323.9 82.0,320.6 83.5,319.3 85.3,318.5 93.3,318.0 95.0,318.1 96.5,318.4 100.8,320.4 101.8,320.7 103.0,320.6 106.0,319.5 106.8,319.5 107.3,319.8 108.3,321.0 109.2,322.6 109.7,323.9 109.8,325.1 109.6,326.6 108.9,328.6 108.0,330.3 107.0,331.7 105.5,332.9 101.0,335.2 93.3,338.2 90.8,338.9 M83.0,282.9 80.0,282.8 78.8,282.4 77.5,281.7 76.6,280.9 76.1,279.9 76.0,278.9 76.4,278.1 77.5,277.1 79.0,276.5 81.3,276.0 83.8,275.8 86.0,276.0 88.3,276.6 89.8,277.4 90.8,278.4 91.0,279.1 90.9,279.9 90.3,280.6 89.5,281.2 86.8,282.2 83.0,282.9 M90.5,339.9 89.0,339.9 87.5,339.6 83.3,338.0 81.0,336.5 78.0,333.6 77.0,332.1 76.6,330.6 76.8,328.4 77.5,325.6 78.7,323.1 81.1,319.9 82.8,318.2 84.8,317.3 87.0,316.9 94.3,316.9 96.3,317.2 100.0,318.5 101.3,318.8 102.5,318.6 103.6,317.9 104.0,317.0 104.2,315.9 103.4,311.1 102.8,304.6 102.5,296.4 102.7,293.4 103.6,289.4 105.0,286.6 106.0,285.5 107.0,284.9 108.0,284.7 109.0,284.8 110.0,285.3 111.0,286.2 112.5,288.6 113.7,293.1 114.2,297.4 114.1,300.1 113.1,309.4 112.4,311.9 110.0,317.4 109.7,318.6 109.8,320.1 110.7,322.9 110.9,324.4 110.9,325.9 110.3,327.9 109.1,330.9 108.0,332.9 106.8,334.4 105.0,335.7 102.5,336.8 97.8,337.8 92.5,339.5 90.5,339.9 M89.3,303.9 87.8,303.8 86.0,303.3 84.5,302.5 83.2,301.4 82.2,299.9 81.6,298.4 81.4,296.6 81.6,295.1 82.2,293.9 83.5,292.4 85.5,290.6 87.3,289.5 88.8,288.9 90.3,288.7 92.3,288.6 93.8,288.9 95.5,289.9 96.4,290.9 97.1,292.1 97.7,294.4 97.7,295.6 97.5,296.9 96.2,299.4 94.4,301.4 91.8,303.1 90.5,303.6 89.3,303.9 M83.3,283.6 81.3,283.7 79.8,283.6 78.3,283.1 76.8,282.2 75.5,281.1 74.9,280.1 74.8,278.9 75.2,277.9 76.3,276.8 78.3,275.9 80.8,275.4 83.8,275.2 86.5,275.4 89.3,276.1 91.3,277.1 92.3,278.1 92.6,279.1 92.5,280.1 92.0,280.9 91.0,281.6 88.0,282.8 83.3,283.6 M91.0,340.9 89.3,341.0 87.5,340.8 85.5,340.2 83.0,339.2 81.0,337.9 76.6,333.9 75.5,332.4 75.2,330.9 75.4,328.9 76.2,325.6 77.5,322.6 79.9,319.4 82.0,317.3 84.5,316.0 87.3,315.5 93.3,315.5 95.3,315.8 100.3,317.0 101.3,316.9 102.1,316.4 102.7,315.1 102.7,313.4 101.8,299.9 101.2,295.6 101.4,294.1 103.1,288.6 104.6,285.9 105.5,284.8 106.8,283.9 107.8,283.6 109.0,283.8 110.0,284.3 111.0,285.1 112.0,286.4 112.8,287.9 114.0,291.9 114.7,296.9 114.6,300.1 113.7,309.4 111.1,318.4 111.1,320.1 112.0,324.4 111.8,326.1 111.2,328.4 109.9,332.1 109.0,334.1 107.5,335.8 105.3,337.5 103.0,338.5 97.3,339.3 91.0,340.9 M90.3,304.9 88.5,305.0 86.5,304.6 84.3,303.6 82.5,302.3 81.4,300.9 80.4,298.9 79.9,296.6 80.0,294.9 80.4,293.6 81.5,292.4 84.7,289.9 86.8,288.5 88.3,288.0 90.0,287.6 92.3,287.5 94.0,287.7 95.0,288.1 96.0,288.7 97.6,290.6 99.2,293.6 99.5,294.9 99.4,295.9 98.2,298.6 96.4,301.1 93.0,303.7 91.5,304.5 90.3,304.9 M83.0,284.6 81.0,284.7 79.3,284.4 77.3,283.5 75.3,282.2 74.2,281.1 73.6,279.9 73.6,278.6 74.2,277.4 75.5,276.2 77.8,275.3 81.0,274.7 84.3,274.6 87.5,274.9 90.5,275.7 92.4,276.6 93.7,277.9 94.1,279.1 94.0,280.4 93.3,281.6 92.3,282.6 90.8,283.3 88.5,283.9 83.0,284.6 M90.3,342.1 87.8,342.2 85.8,341.9 83.0,340.8 81.0,339.4 75.5,334.6 74.5,333.4 74.0,332.4 73.7,331.1 74.0,328.6 75.7,323.6 77.5,320.4 80.3,317.2 83.5,315.0 85.8,314.1 87.8,313.8 93.8,314.2 99.0,315.3 100.0,315.2 100.8,314.8 101.5,313.3 101.8,309.9 101.5,306.7 100.7,302.1 100.3,301.0 100.0,300.7 99.5,300.6 94.0,304.5 91.3,305.9 90.0,306.2 88.5,306.3 85.8,305.5 82.3,303.6 81.0,302.4 80.1,301.1 79.1,299.1 78.5,296.9 78.3,295.1 78.6,293.4 79.5,291.6 81.0,290.3 86.5,287.2 88.0,286.6 89.8,286.3 93.3,286.2 95.3,286.7 97.0,287.9 99.5,290.6 100.0,290.8 100.5,290.8 101.3,290.2 103.4,286.1 105.0,284.0 106.0,283.1 107.0,282.6 107.8,282.4 108.8,282.5 110.0,283.1 111.3,284.3 112.3,285.6 113.2,287.4 114.4,291.6 115.2,297.1 115.1,300.1 114.2,309.6 112.2,318.4 112.3,320.1 112.9,323.6 112.9,325.4 112.5,327.6 111.1,332.4 110.2,334.6 109.2,336.1 106.8,338.2 104.8,339.5 102.8,340.1 96.5,340.7 90.3,342.1 M88.8,343.6 87.0,343.7 85.5,343.6 84.3,343.2 82.8,342.4 80.5,340.8 77.5,337.6 74.1,334.9 72.9,333.1 72.4,331.4 72.4,329.6 73.0,327.4 74.7,322.9 76.3,319.8 78.3,317.3 81.0,315.0 85.0,312.5 86.3,312.0 87.5,311.7 90.3,311.9 97.5,313.4 99.3,313.3 100.2,312.6 100.8,311.4 101.0,309.6 100.9,307.9 100.5,306.2 100.0,305.0 99.3,304.2 98.5,304.0 96.5,304.6 92.5,307.0 91.0,307.7 89.3,308.0 87.5,307.8 85.3,306.8 82.0,304.9 80.5,303.6 79.1,301.9 78.2,300.1 77.4,297.9 77.0,295.9 77.0,293.9 77.2,292.4 77.7,290.9 78.5,289.6 80.2,287.6 80.4,286.9 79.6,286.1 75.3,283.2 73.6,281.9 72.6,280.6 72.3,279.1 72.9,277.4 74.5,275.9 76.8,274.8 79.8,274.2 83.5,274.0 86.8,274.2 91.0,275.1 93.5,276.2 94.7,277.4 95.4,278.9 95.4,280.6 94.8,283.4 94.9,284.1 98.8,287.5 99.8,288.1 100.5,288.1 101.0,287.8 103.9,283.9 106.0,281.8 107.8,281.1 108.5,281.1 109.5,281.5 111.5,283.3 113.4,286.4 114.6,290.1 115.4,294.4 115.7,299.4 114.9,308.9 113.2,318.4 113.3,320.1 113.8,323.4 113.8,325.1 112.4,332.4 111.4,335.4 110.4,336.9 108.8,338.3 106.3,340.2 104.3,341.2 102.3,341.6 96.5,342.0 88.8,343.6 M87.3,345.1 85.5,345.1 83.8,344.6 82.0,343.7 80.2,342.4 76.7,338.6 72.8,335.0 71.6,333.1 71.1,331.1 71.1,329.1 71.7,326.9 73.7,322.1 75.2,319.1 77.3,316.4 83.1,311.4 83.9,310.4 84.2,309.6 84.2,308.9 83.7,308.1 80.3,305.1 78.5,303.0 77.1,300.6 76.2,298.1 75.7,295.6 75.7,293.1 76.2,290.9 77.4,287.6 77.3,286.4 76.2,285.1 72.3,282.1 71.4,280.9 71.1,279.9 71.2,278.9 71.7,277.6 72.3,276.6 73.3,275.7 75.8,274.4 79.3,273.6 83.3,273.4 86.5,273.5 91.3,274.4 94.0,275.5 95.5,276.6 96.4,278.1 96.7,279.4 97.0,282.4 97.4,283.6 98.5,284.9 99.8,285.6 100.5,285.6 101.3,285.1 104.8,281.4 106.5,279.9 107.8,279.5 109.3,279.8 110.5,280.8 111.5,281.9 113.6,285.4 114.9,289.1 115.9,294.4 116.1,297.6 116.1,300.6 115.2,310.6 114.1,317.9 114.2,319.6 114.8,323.4 114.7,325.1 113.4,333.6 112.5,336.4 111.2,338.1 109.3,339.8 106.5,341.7 104.3,342.7 102.0,343.1 96.3,343.3 90.8,344.6 87.3,345.1 M98.4,311.6 99.0,311.3 99.6,310.6 99.9,309.6 99.9,308.4 99.5,307.1 99.0,306.4 98.3,306.1 97.5,306.1 96.1,306.6 94.7,307.6 93.9,308.6 93.7,309.6 94.1,310.4 95.5,311.2 97.0,311.6 98.4,311.6 M89.5,346.1 86.3,346.3 84.3,346.1 82.0,345.2 79.5,343.7 78.1,342.4 75.7,339.4 71.8,335.6 70.6,333.6 69.9,331.4 69.9,329.4 70.3,326.9 73.5,319.1 75.5,316.2 80.0,311.9 80.9,310.6 81.2,309.6 81.1,308.9 80.7,307.9 77.8,303.9 76.3,301.4 75.4,299.4 74.7,297.4 74.5,295.6 74.5,293.6 74.9,291.1 75.7,287.9 75.6,286.6 74.7,285.4 71.0,282.4 70.3,281.4 70.0,280.4 70.0,279.4 70.4,278.1 71.1,276.9 72.2,275.6 74.5,274.1 77.8,273.1 82.0,272.8 85.8,272.8 91.0,273.7 94.0,274.6 95.8,275.6 97.0,276.9 97.8,278.4 98.9,281.9 99.5,282.7 100.3,283.0 101.0,282.9 102.0,282.4 106.5,278.1 107.8,277.8 109.0,278.1 110.0,278.8 111.3,280.0 113.2,282.9 115.0,287.4 116.1,292.1 116.6,296.4 116.6,300.1 115.8,311.1 115.0,317.9 115.6,322.9 115.7,324.6 114.7,333.9 113.7,336.9 112.1,339.4 110.3,341.1 108.3,342.3 104.8,343.9 102.0,344.7 96.3,344.9 89.5,346.1"/><path fill="none" stroke="#444" stroke-width="0.5" d="M58.5,353.4 58.3,353.4 57.8,353.1 56.5,351.4 57.3,349.7 57.4,348.4 57.3,304.6 56.6,296.9 56.8,289.4 56.7,271.9 57.1,269.1 57.6,268.4 58.3,268.0 59.0,268.4 59.4,269.1 59.7,270.4 59.9,272.1 59.8,298.6 59.3,303.6 59.3,307.9 59.4,316.9 59.2,324.4 59.2,348.1 59.3,349.4 59.5,349.8 60.0,350.1 61.0,350.1 74.0,349.9 88.8,350.1 101.0,349.9 109.5,350.2 122.8,350.1 126.3,350.5 127.1,350.9 127.3,351.4 127.0,351.9 126.3,352.2 123.5,352.5 111.5,352.4 100.8,352.7 89.8,352.5 82.5,352.6 60.5,352.5 59.5,352.6 58.5,353.4 M58.3,354.4 57.8,354.1 55.9,351.9 55.7,351.4 55.8,350.9 56.8,349.4 56.9,348.1 56.8,304.9 56.0,296.4 56.2,289.1 56.1,271.9 56.2,270.1 56.8,268.4 57.5,267.3 58.3,267.1 59.0,267.4 59.9,268.6 60.2,269.9 60.4,272.1 60.4,297.9 59.8,304.4 59.7,308.1 59.7,347.6 59.8,348.8 60.0,349.2 60.5,349.5 61.5,349.5 74.3,349.3 94.3,349.5 101.0,349.3 109.0,349.6 122.8,349.5 125.3,349.7 126.8,350.0 127.8,350.6 128.2,351.4 127.8,352.1 127.0,352.5 125.5,352.9 123.8,353.1 111.5,353.0 100.8,353.3 90.0,353.0 82.5,353.2 60.8,353.1 59.8,353.3 58.3,354.4 M58.5,355.4 58.0,355.4 57.5,355.0 56.5,353.5 55.0,352.1 54.7,351.4 54.9,350.6 56.2,349.1 56.4,347.6 56.2,305.1 55.3,296.1 55.5,289.1 55.4,271.6 55.7,269.4 56.3,267.6 57.3,266.4 58.3,266.0 59.3,266.4 60.2,267.6 60.8,269.4 61.0,271.9 61.1,282.1 61.0,297.4 60.3,304.9 60.2,308.4 60.2,346.6 60.3,348.0 60.5,348.6 61.0,348.8 62.0,348.9 74.5,348.7 123.0,348.9 125.8,349.2 127.5,349.6 128.8,350.4 129.2,350.9 129.3,351.4 129.0,352.1 127.8,352.9 126.0,353.5 123.8,353.7 111.5,353.6 100.8,353.9 90.0,353.6 82.8,353.8 61.3,353.7 60.0,354.0 58.5,355.4 M58.3,356.6 57.5,356.3 56.0,354.1 54.0,352.5 53.6,351.4 53.9,350.4 55.5,348.8 55.8,347.1 55.6,305.4 54.5,295.9 54.8,289.1 54.7,282.9 54.8,271.6 55.1,268.9 55.8,266.9 57.0,265.3 58.3,264.9 59.5,265.4 60.7,266.9 61.4,269.1 61.7,271.9 61.9,281.9 61.7,296.4 61.5,300.1 60.9,305.1 60.8,308.4 60.8,345.6 60.8,347.1 61.1,347.9 61.5,348.2 62.8,348.3 74.8,348.0 123.0,348.2 125.8,348.5 128.3,349.2 129.8,350.1 130.2,350.6 130.4,351.4 130.0,352.4 128.8,353.3 126.8,354.0 124.5,354.3 111.5,354.3 100.8,354.6 90.3,354.3 82.8,354.5 61.5,354.4 60.3,354.8 59.0,356.3 58.3,356.6"/></g>
<path d="M56.30,271.20 L100.20,271.20 L100.20,285.30 L56.30,285.30" stroke="#666" stroke-width="0.6" fill="none"/>
<path d="M56.30,285.30 L100.20,285.30 L100.20,309.00 L56.30,309.00" stroke="#666" stroke-width="0.6" fill="none"/>
<path d="M100.20,278.50 L122.20,278.50 L122.20,315.60 L100.20,315.60 L100.20,278.50" stroke="#666" stroke-width="0.6" fill="none"/>
<rect x="56.3" y="268.1" width="86.3" height="86.09999999999997" fill="none" stroke="#9a9a9a" stroke-width="1.0"/>
<text x="53.30" y="270.80" font-size="5.9" text-anchor="end" fill="#222">10000</text>
<line x1="54.70" y1="268.10" x2="56.30" y2="268.10" stroke="#777" stroke-width="0.5"/>
<text x="53.30" y="292.32" font-size="5.9" text-anchor="end" fill="#222">000</text>
<line x1="54.70" y1="289.62" x2="56.30" y2="289.62" stroke="#777" stroke-width="0.5"/>
<text x="53.30" y="313.85" font-size="5.9" text-anchor="end" fill="#222">100</text>
<line x1="54.70" y1="311.15" x2="56.30" y2="311.15" stroke="#777" stroke-width="0.5"/>
<text x="53.30" y="335.38" font-size="5.9" text-anchor="end" fill="#222">10</text>
<line x1="54.70" y1="332.68" x2="56.30" y2="332.68" stroke="#777" stroke-width="0.5"/>
<text x="53.30" y="356.90" font-size="5.9" text-anchor="end" fill="#222">1</text>
<line x1="54.70" y1="354.20" x2="56.30" y2="354.20" stroke="#777" stroke-width="0.5"/>
<path d="M56.30,347.72h1.2M62.79,354.20v-1.2M56.30,343.93h1.2M66.59,354.20v-1.2M56.30,341.24h1.2M69.29,354.20v-1.2M56.30,339.15h1.2M71.38,354.20v-1.2M56.30,337.45h1.2M73.09,354.20v-1.2M56.30,336.01h1.2M74.53,354.20v-1.2M56.30,334.76h1.2M75.78,354.20v-1.2M56.30,333.66h1.2M76.89,354.20v-1.2M56.30,326.20h1.2M84.37,354.20v-1.2M56.30,322.40h1.2M88.17,354.20v-1.2M56.30,319.72h1.2M90.86,354.20v-1.2M56.30,317.63h1.2M92.96,354.20v-1.2M56.30,315.93h1.2M94.66,354.20v-1.2M56.30,314.48h1.2M96.11,354.20v-1.2M56.30,313.24h1.2M97.36,354.20v-1.2M56.30,312.13h1.2M98.46,354.20v-1.2M56.30,304.67h1.2M105.94,354.20v-1.2M56.30,300.88h1.2M109.74,354.20v-1.2M56.30,298.19h1.2M112.44,354.20v-1.2M56.30,296.10h1.2M114.53,354.20v-1.2M56.30,294.40h1.2M116.24,354.20v-1.2M56.30,292.96h1.2M117.68,354.20v-1.2M56.30,291.71h1.2M118.93,354.20v-1.2M56.30,290.61h1.2M120.04,354.20v-1.2M56.30,283.15h1.2M127.52,354.20v-1.2M56.30,279.35h1.2M131.32,354.20v-1.2M56.30,276.67h1.2M134.01,354.20v-1.2M56.30,274.58h1.2M136.11,354.20v-1.2M56.30,272.88h1.2M137.81,354.20v-1.2M56.30,271.43h1.2M139.26,354.20v-1.2M56.30,270.19h1.2M140.51,354.20v-1.2M56.30,269.08h1.2M141.61,354.20v-1.2" stroke="#888" stroke-width="0.45" fill="none"/>
<text x="56.30" y="362.80" font-size="5.9" text-anchor="middle" fill="#222">1</text>
<line x1="56.30" y1="354.20" x2="56.30" y2="355.80" stroke="#777" stroke-width="0.5"/>
<text x="77.88" y="362.80" font-size="5.9" text-anchor="middle" fill="#222">10</text>
<line x1="77.88" y1="354.20" x2="77.88" y2="355.80" stroke="#777" stroke-width="0.5"/>
<text x="99.45" y="362.80" font-size="5.9" text-anchor="middle" fill="#222">100</text>
<line x1="99.45" y1="354.20" x2="99.45" y2="355.80" stroke="#777" stroke-width="0.5"/>
<text x="121.02" y="362.80" font-size="5.9" text-anchor="middle" fill="#222">1000</text>
<line x1="121.02" y1="354.20" x2="121.02" y2="355.80" stroke="#777" stroke-width="0.5"/>
<text x="142.60" y="362.80" font-size="5.9" text-anchor="middle" fill="#222">10000</text>
<line x1="142.60" y1="354.20" x2="142.60" y2="355.80" stroke="#777" stroke-width="0.5"/>
<text x="62.80" y="278.08" font-size="10.5" text-anchor="start" fill="#111" stroke="#111" stroke-width="0.15">0.6</text>
<text x="62.00" y="307.88" font-size="10.5" text-anchor="start" fill="#111" stroke="#111" stroke-width="0.15">1.2</text>
<text x="124.00" y="299.08" font-size="10.5" text-anchor="start" fill="#111" stroke="#111" stroke-width="0.15">1.4</text>
<g clip-path="url(#ciiWT)"><path d="M243.8,135.0 223.8,135.1 208.1,135.0 198.3,135.1 189.6,134.9 188.1,134.7 187.5,134.5 188.1,134.3 189.6,134.1 199.1,133.8 208.3,134.0 241.8,133.9 245.1,134.1 245.6,134.2 245.9,134.5 245.3,134.8 243.8,135.0Z" fill="#151515" stroke="none"/><path fill="none" stroke="#242424" stroke-width="0.55" d="M198.6,133.5 197.8,133.3 197.1,133.4 196.3,133.0 197.1,132.5 197.8,132.6 198.6,132.5 200.8,132.6 201.6,132.5 202.6,132.8 203.1,132.6 203.5,132.8 203.6,133.0 203.1,133.4 202.6,133.1 201.6,133.4 200.8,133.3 198.6,133.5 M195.8,133.3 195.3,133.1 195.4,132.8 195.8,132.7 196.3,133.0 195.8,133.3 M223.1,133.3 222.6,133.3 222.3,133.0 222.6,132.7 223.1,132.8 223.4,133.0 223.1,133.3 M224.6,133.3 224.1,133.3 223.6,133.0 224.1,132.7 224.6,132.7 225.0,133.0 224.6,133.3 M226.1,133.3 225.6,133.3 225.2,133.0 225.6,132.7 226.1,132.7 226.3,133.0 226.1,133.3 M227.3,133.3 226.9,133.0 227.3,132.7 227.6,133.0 227.3,133.3 M241.1,133.3 240.6,133.2 240.5,133.0 240.7,132.8 241.1,132.7 241.5,133.0 241.1,133.3 M242.8,133.3 242.3,133.3 241.9,133.0 242.6,132.6 243.0,133.0 242.8,133.3 M244.1,133.3 243.4,133.0 243.8,132.7 244.3,132.8 244.5,133.0 244.1,133.3 M245.6,133.3 245.0,133.0 245.2,132.8 245.6,132.7 245.9,133.0 245.6,133.3 M247.1,133.3 246.6,133.0 246.8,132.8 247.1,132.8 247.3,133.0 247.1,133.3 M204.8,133.1 204.6,133.2 204.3,133.0 204.6,132.8 204.9,133.0 204.8,133.1 M210.8,133.1 210.6,133.0 210.8,133.1 M212.3,133.1 212.0,133.0 212.3,132.9 212.3,133.1 M213.8,133.1 213.6,133.0 213.8,133.1 M219.8,133.2 219.6,133.0 219.8,132.9 220.0,133.0 219.8,133.2 M221.3,133.3 221.0,133.0 221.3,132.8 221.7,133.0 221.3,133.3 M228.8,133.1 228.6,133.0 228.8,132.8 229.0,133.0 228.8,133.1 M230.3,133.1 230.3,132.9 230.3,133.1 M234.8,133.0 234.9,133.0 234.8,133.0 M236.6,133.0 236.2,133.0 236.6,133.0 M238.1,133.2 237.7,133.0 238.1,132.9 238.2,133.0 238.1,133.2 M239.6,133.3 239.3,133.2 239.1,133.0 239.3,132.8 239.8,133.0 239.6,133.3 M248.6,133.1 248.3,133.0 248.6,132.9 248.6,133.1 M201.3,134.0 197.1,134.0 192.6,133.5 191.8,133.2 191.1,133.4 190.5,133.0 191.1,132.6 191.8,132.7 192.6,132.5 195.6,132.1 198.6,131.9 207.1,132.3 212.1,132.2 217.6,132.4 224.3,132.1 235.6,132.4 244.1,132.0 248.6,132.3 250.1,132.7 250.2,133.0 250.1,133.3 248.6,133.7 245.6,133.9 239.3,133.9 231.1,133.6 222.8,134.0 217.6,133.7 212.3,133.7 208.3,133.6 201.3,134.0 M188.3,133.1 188.1,133.2 187.7,133.0 188.1,132.7 188.4,133.0 188.3,133.1 M189.6,133.3 189.1,133.0 189.6,132.7 190.0,133.0 189.6,133.3 M186.6,133.1 186.4,133.0 186.6,132.9 186.7,133.0 186.6,133.1 M224.1,134.5 208.3,134.1 198.1,134.5 186.6,133.7 185.1,133.3 184.8,133.0 185.1,132.6 186.6,132.2 198.8,131.4 207.1,131.7 212.1,131.6 217.6,131.8 225.8,131.6 235.8,131.8 244.1,131.5 249.1,131.8 250.3,132.4 250.6,133.0 250.4,133.5 249.8,133.9 247.3,134.4 238.1,134.5 231.1,134.2 224.1,134.5 M212.8,124.2 212.4,124.0 212.6,123.7 212.9,123.8 212.8,124.2 M200.1,135.0 197.1,135.0 186.6,134.1 184.8,133.6 184.5,133.2 184.4,132.8 185.1,132.1 186.6,131.7 197.1,130.9 206.8,131.1 211.8,131.0 218.3,131.3 226.8,131.1 236.3,131.3 243.1,130.9 249.1,131.4 250.5,132.0 250.9,133.0 250.7,133.8 249.8,134.4 248.6,134.7 246.8,134.9 238.1,135.0 230.8,134.7 223.6,135.0 208.1,134.6 200.1,135.0 M233.1,108.8 232.6,108.5 232.8,108.3 233.1,108.2 233.4,108.5 233.1,108.8 M212.8,125.3 212.0,125.0 211.5,123.8 211.8,122.6 212.6,122.2 213.3,122.6 213.7,123.8 213.4,124.8 212.8,125.3 M247.8,135.3 238.1,135.5 230.6,135.2 223.6,135.4 208.1,135.1 197.8,135.4 186.3,134.5 184.6,133.9 184.0,133.0 184.1,132.5 184.6,131.9 186.3,131.2 196.3,130.4 206.8,130.6 211.8,130.3 218.1,130.8 227.8,130.6 235.8,130.8 243.3,130.3 248.8,130.8 250.1,131.2 250.8,131.8 251.1,132.2 251.3,133.0 250.8,134.2 249.6,134.9 247.8,135.3 M234.1,109.8 232.8,109.9 231.8,109.5 231.2,108.8 231.2,108.2 231.5,107.8 232.1,107.3 232.8,107.1 233.6,107.2 234.3,107.5 234.8,108.0 234.9,108.8 234.7,109.2 234.1,109.8 M213.1,126.4 212.3,126.5 211.6,126.1 210.9,125.2 210.6,124.2 210.5,123.0 210.8,122.0 211.3,121.3 212.1,120.9 212.8,120.9 213.6,121.4 214.1,122.1 214.4,123.0 214.4,124.0 214.2,125.0 213.8,125.8 213.1,126.4 M246.8,135.8 238.1,136.0 231.1,135.6 223.6,135.9 208.1,135.5 197.6,135.9 186.1,134.9 184.3,134.2 183.8,133.5 183.7,132.8 183.9,132.0 184.6,131.4 185.6,130.9 187.1,130.6 196.8,129.9 207.1,130.0 211.8,129.5 216.5,130.2 220.1,130.4 228.3,130.1 236.6,130.3 242.8,129.6 248.8,130.4 249.8,130.7 250.8,131.3 251.4,132.0 251.6,132.8 251.5,133.8 251.1,134.4 249.6,135.3 246.8,135.8 M234.1,111.0 233.1,111.1 232.1,111.0 230.5,110.0 230.0,109.2 229.7,108.5 229.8,107.8 230.3,107.0 231.6,106.2 233.1,106.1 234.6,106.4 235.9,107.2 236.4,108.2 236.3,109.5 235.3,110.5 234.1,111.0 M244.1,136.3 237.8,136.4 231.1,136.1 223.3,136.3 213.6,136.2 208.1,135.9 200.6,136.3 197.1,136.3 188.3,135.6 185.6,135.2 184.6,134.8 183.8,134.2 183.4,133.5 183.3,132.8 183.6,131.8 184.3,131.0 185.6,130.4 186.8,130.1 196.3,129.3 206.6,129.5 208.4,129.2 209.9,128.8 210.6,128.2 210.8,127.8 209.7,124.5 209.5,123.2 209.7,122.0 210.1,121.0 210.8,120.2 211.6,119.8 212.3,119.7 213.1,119.8 213.8,120.3 214.4,121.0 214.9,122.0 215.2,123.2 215.1,124.8 214.7,126.0 213.8,127.8 213.7,128.2 214.5,129.0 215.6,129.4 217.3,129.8 220.1,130.0 228.6,129.7 236.8,129.8 240.1,129.2 241.0,128.8 242.1,127.8 243.1,128.5 244.4,129.0 249.8,130.2 251.1,130.9 251.7,131.8 252.0,132.8 251.9,133.8 251.3,134.7 250.6,135.3 248.3,136.1 244.1,136.3 M233.8,112.3 232.6,112.3 231.3,112.0 230.1,111.3 229.0,110.2 228.3,109.0 228.1,108.0 228.3,107.0 229.1,106.0 231.1,105.1 233.6,105.1 235.8,105.8 236.8,106.5 237.5,107.2 238.0,108.8 237.9,109.5 237.5,110.2 235.8,111.6 233.8,112.3 M242.1,136.8 237.3,136.9 230.3,136.5 224.3,136.7 214.1,136.7 208.1,136.4 200.3,136.7 196.6,136.7 188.6,136.1 185.6,135.6 184.3,135.1 183.6,134.5 183.1,133.8 182.9,132.8 183.2,131.8 184.1,130.7 185.1,130.1 186.8,129.6 191.1,129.2 196.1,128.5 205.3,128.9 206.9,128.8 208.1,128.4 208.7,128.0 209.1,127.2 208.5,123.2 208.6,122.0 209.0,121.0 209.6,120.0 210.3,119.2 211.3,118.7 212.3,118.6 213.3,118.8 214.1,119.3 214.8,120.1 215.5,121.2 215.9,122.5 216.0,124.0 215.4,127.8 215.8,128.5 216.7,129.0 218.3,129.3 220.8,129.5 228.8,129.2 236.5,129.2 238.9,128.8 239.8,128.2 241.3,127.1 242.3,126.9 243.1,127.1 245.5,128.5 250.1,129.8 251.3,130.6 252.0,131.5 252.4,132.8 252.2,134.0 251.5,135.0 250.3,135.9 249.1,136.3 247.6,136.6 242.1,136.8 M233.8,113.5 232.1,113.6 230.6,113.2 229.1,112.1 227.4,110.2 226.5,108.8 226.3,107.5 226.6,106.2 227.6,105.2 228.8,104.5 230.3,104.1 232.1,103.9 233.8,104.1 235.3,104.5 236.8,105.1 238.0,106.0 238.9,107.0 239.4,108.0 239.6,109.0 239.3,110.0 238.8,110.8 236.8,112.4 235.3,113.1 233.8,113.5 M241.1,137.3 237.1,137.3 230.1,136.9 214.1,137.1 208.1,136.8 200.1,137.2 196.3,137.1 188.3,136.4 185.3,135.9 184.1,135.4 183.3,134.8 182.7,133.8 182.5,132.8 182.7,132.0 183.2,131.0 184.6,129.8 186.6,129.1 191.2,128.5 193.0,128.0 194.2,127.2 195.1,125.8 195.8,125.4 197.1,125.7 198.3,127.1 199.8,127.7 204.6,128.1 206.8,127.8 207.4,127.2 207.7,126.8 207.5,122.5 207.7,121.2 208.2,120.2 209.2,119.0 210.3,118.1 211.6,117.6 212.6,117.6 213.6,117.9 214.5,118.5 216.0,120.5 216.5,121.8 216.8,123.2 216.6,127.2 216.9,128.0 217.8,128.5 219.6,128.9 221.6,129.1 228.8,128.7 236.1,128.6 238.1,128.1 240.6,126.2 241.3,125.8 242.3,125.7 243.6,126.1 246.4,128.0 250.6,129.6 251.6,130.3 252.3,131.2 252.7,132.5 252.6,134.0 251.8,135.2 250.6,136.2 249.3,136.7 247.8,137.0 241.1,137.3 M232.6,115.0 230.8,114.8 229.1,113.9 226.5,111.2 225.1,109.2 224.7,107.5 224.9,106.0 225.8,104.7 227.3,103.7 229.1,103.1 231.1,102.8 233.3,102.9 235.3,103.3 237.1,104.0 238.8,105.1 240.0,106.2 240.8,107.5 241.1,108.8 241.0,109.8 240.5,110.8 239.7,111.8 237.8,113.1 235.8,114.2 234.1,114.8 232.6,115.0 M240.1,137.8 236.8,137.8 229.8,137.4 214.1,137.6 207.8,137.2 198.1,137.6 189.3,137.0 185.8,136.4 183.8,135.6 183.0,135.0 182.5,134.2 182.2,133.5 182.2,132.5 182.9,130.8 184.3,129.4 186.3,128.6 191.0,127.5 191.8,127.0 193.5,125.2 195.1,124.6 196.3,124.4 197.8,124.7 200.9,126.2 202.4,126.8 204.1,126.9 205.3,126.7 205.8,126.3 206.1,125.8 206.2,122.2 206.7,120.8 207.5,119.5 208.6,118.2 210.1,117.2 211.3,116.7 212.6,116.6 213.6,116.8 214.6,117.4 215.5,118.2 216.3,119.5 217.0,121.0 217.5,122.5 217.7,127.0 218.2,127.8 219.1,128.2 220.6,128.5 222.6,128.6 235.6,127.9 237.4,127.2 240.1,124.8 241.1,124.5 242.1,124.4 243.8,125.0 246.8,127.3 250.8,129.1 251.9,130.0 252.6,131.0 253.1,132.5 252.9,134.2 252.1,135.5 250.6,136.6 247.8,137.4 240.1,137.8 M233.6,116.3 231.1,116.3 228.8,115.4 226.8,113.6 224.2,110.5 223.4,108.5 223.4,106.2 224.2,104.5 225.8,103.1 227.8,102.3 230.1,101.8 232.6,101.8 235.1,102.1 237.1,102.8 239.1,103.9 240.9,105.2 241.9,106.5 242.4,107.8 242.5,109.2 242.2,110.5 241.4,111.8 239.8,113.2 236.8,115.1 235.1,115.9 233.6,116.3 M239.3,138.3 229.3,137.8 214.3,138.1 207.8,137.7 198.1,138.1 189.3,137.4 185.8,136.8 183.6,135.9 182.7,135.2 182.2,134.5 181.8,133.5 181.8,132.5 182.4,130.8 183.8,129.2 185.3,128.3 189.3,126.8 191.3,125.0 192.8,124.1 194.6,123.6 196.3,123.3 198.1,123.4 202.1,124.0 203.3,123.8 204.1,123.1 206.2,119.5 207.8,117.8 210.3,116.1 211.6,115.7 212.8,115.6 214.1,115.9 215.1,116.6 216.8,118.8 217.7,120.5 218.2,122.0 218.7,126.5 219.2,127.2 220.1,127.7 221.4,128.0 223.3,128.0 234.6,127.2 236.3,126.4 238.1,124.2 239.0,123.5 240.1,123.1 241.6,123.0 243.1,123.3 244.6,124.1 247.6,126.8 251.6,129.1 253.0,130.8 253.5,132.5 253.3,134.2 252.4,135.8 251.1,136.8 249.6,137.5 247.8,137.8 239.3,138.3 M233.8,117.8 230.6,117.5 228.1,116.5 226.0,114.8 222.9,111.0 222.0,108.5 222.0,106.0 222.9,104.0 223.8,103.1 224.8,102.4 227.1,101.4 229.6,100.8 232.3,100.7 235.3,101.0 237.6,101.7 240.1,103.0 242.1,104.4 243.1,105.8 243.7,107.2 243.9,109.0 243.6,110.5 242.8,112.0 241.3,113.5 236.8,116.8 235.6,117.4 233.8,117.8 M243.1,138.5 237.8,138.7 228.1,138.3 214.3,138.6 207.6,138.1 198.3,138.5 189.8,137.9 185.6,137.2 183.3,136.2 182.4,135.5 181.7,134.5 181.4,133.5 181.4,132.5 181.9,130.8 183.0,129.2 184.3,128.2 187.4,126.2 188.9,124.2 189.8,123.5 191.3,123.0 195.3,122.2 200.3,122.0 202.1,121.6 203.3,120.8 206.0,118.0 208.6,116.1 211.1,114.8 213.1,114.6 214.3,114.8 215.3,115.4 217.1,117.5 218.2,119.5 218.9,121.2 219.7,126.0 220.2,126.8 221.1,127.2 222.6,127.5 224.3,127.4 231.1,126.8 233.3,126.3 234.8,125.5 237.3,122.3 238.1,121.9 239.1,121.6 240.8,121.5 242.6,121.9 244.1,122.5 245.3,123.3 248.2,126.0 251.6,128.4 252.7,129.5 253.7,131.2 253.9,132.5 253.9,133.5 253.5,134.8 252.9,135.8 252.1,136.6 250.8,137.4 248.1,138.2 243.1,138.5 M242.6,139.0 237.8,139.2 226.6,138.7 214.3,139.1 207.3,138.6 198.1,139.0 189.8,138.3 185.8,137.6 183.1,136.5 182.1,135.8 181.4,134.8 181.1,133.8 181.0,132.5 181.3,131.0 182.1,129.5 183.1,128.4 185.6,126.0 187.2,123.0 188.1,122.2 189.6,121.6 193.1,121.3 201.1,120.0 202.6,119.2 205.8,116.8 208.8,114.8 210.8,113.8 212.6,113.4 213.8,113.3 215.1,113.7 216.1,114.3 217.2,115.5 219.5,119.8 220.2,122.0 220.7,125.2 221.1,126.0 221.6,126.4 223.1,126.8 225.6,126.7 230.3,126.0 232.3,125.2 233.3,124.4 234.2,123.0 234.8,121.5 234.7,120.5 233.6,119.8 230.1,118.8 228.1,118.1 226.6,117.2 225.1,116.0 222.4,113.0 221.3,111.2 220.6,109.0 220.5,106.5 220.9,104.8 221.9,103.2 223.1,102.1 224.8,101.1 227.1,100.3 229.6,99.8 232.1,99.6 235.1,99.7 236.8,100.0 238.3,100.6 242.3,102.8 244.1,104.5 245.0,106.8 245.2,109.5 244.6,111.8 243.3,113.5 240.6,115.8 239.4,117.0 238.9,118.2 239.1,119.0 240.1,119.6 243.8,121.0 245.6,122.1 249.0,125.5 252.6,128.4 253.7,130.0 254.2,131.5 254.3,133.0 253.9,134.8 253.1,136.2 251.8,137.3 250.1,138.2 248.3,138.6 242.6,139.0 M242.6,139.5 237.8,139.7 229.3,139.2 225.3,139.1 214.3,139.7 207.3,139.0 198.1,139.5 189.3,138.7 185.3,137.9 182.6,136.6 181.6,135.8 180.9,134.8 180.6,133.5 180.6,132.2 180.9,130.8 181.6,129.2 184.2,125.8 186.0,122.0 187.1,120.9 188.6,120.4 193.1,120.0 200.3,118.4 201.8,117.7 211.6,112.3 214.1,111.7 217.8,111.6 218.3,110.7 218.8,106.8 219.4,104.8 220.4,103.0 222.1,101.4 224.6,100.1 228.8,98.8 231.8,98.5 235.8,98.6 238.6,99.2 241.6,100.6 244.1,102.3 245.7,104.2 246.3,105.8 246.6,107.5 246.7,109.5 246.5,111.2 245.5,113.5 242.7,116.8 242.5,117.8 243.0,118.5 245.6,120.5 252.8,127.7 254.2,129.8 254.7,131.5 254.7,133.2 254.3,135.0 253.3,136.5 252.1,137.6 250.3,138.5 248.3,139.1 242.6,139.5 M226.7,125.8 228.9,125.2 230.6,124.4 231.2,123.8 231.5,123.0 231.4,121.8 230.3,120.8 224.8,118.1 221.1,115.1 220.3,114.7 220.0,114.8 219.7,115.2 219.8,116.0 221.1,120.2 221.7,124.0 222.1,125.0 222.6,125.5 223.6,125.9 226.7,125.8 M239.3,140.3 226.1,139.5 221.3,139.6 214.8,140.2 207.3,139.5 197.8,140.0 189.1,139.1 184.8,138.2 183.3,137.5 182.0,136.8 181.1,135.8 180.5,134.8 180.1,133.5 180.1,132.0 181.0,129.2 184.2,122.5 185.1,121.0 186.3,119.9 188.1,119.2 193.0,118.8 200.6,116.4 206.3,113.9 211.6,110.9 214.8,109.3 216.3,108.0 218.2,104.0 219.6,102.0 221.2,100.5 223.1,99.5 227.1,98.1 230.1,97.4 233.3,97.2 236.6,97.4 239.6,98.2 242.8,99.8 245.6,101.9 247.2,104.0 248.2,107.2 248.5,110.8 248.0,113.0 246.1,116.5 246.0,117.2 246.1,118.2 246.8,119.8 248.1,121.4 252.1,125.5 253.7,127.5 254.8,129.8 255.3,131.8 255.1,133.8 254.4,135.8 253.2,137.2 251.6,138.4 249.8,139.2 247.8,139.7 239.3,140.3 M226.7,124.2 227.6,123.8 228.0,123.2 228.1,122.8 227.8,122.2 227.0,121.5 225.8,121.0 224.8,120.9 224.1,121.1 223.7,121.8 223.5,122.5 223.6,123.2 224.0,124.0 225.1,124.5 226.7,124.2"/><path fill="none" stroke="#444" stroke-width="0.5" d="M243.8,135.0 223.8,135.1 208.1,135.0 198.3,135.1 189.6,134.9 187.5,134.5 188.1,134.3 189.6,134.1 199.1,133.8 208.3,134.0 241.8,133.9 245.1,134.1 245.9,134.5 245.3,134.8 243.8,135.0 M240.3,135.5 197.6,135.5 188.6,135.2 187.1,134.9 186.6,134.5 187.1,134.1 188.6,133.8 199.1,133.4 242.6,133.5 245.8,133.8 246.6,134.1 246.9,134.5 246.3,135.0 245.1,135.3 240.3,135.5 M244.3,135.8 238.1,136.0 196.6,135.9 188.3,135.6 186.3,135.2 185.5,134.5 185.8,134.1 186.3,133.8 188.3,133.4 198.3,133.0 242.3,133.1 245.8,133.4 247.1,133.7 247.9,134.2 247.9,134.8 247.3,135.2 245.8,135.6 244.3,135.8 M243.1,136.3 237.6,136.4 195.8,136.4 187.3,135.9 185.3,135.4 184.6,135.0 184.3,134.5 184.6,134.0 185.1,133.7 187.3,133.1 198.3,132.6 242.3,132.7 246.8,133.1 248.3,133.6 249.1,134.2 248.9,135.0 247.8,135.6 245.6,136.1 243.1,136.3"/></g>
<path d="M221.40,58.50 L221.40,138.10" stroke="#666" stroke-width="0.6" fill="none"/>
<path d="M221.40,118.40 L267.70,118.40" stroke="#666" stroke-width="0.6" fill="none"/>
<rect x="183.3" y="58.5" width="84.39999999999998" height="79.6" fill="none" stroke="#9a9a9a" stroke-width="1.0"/>
<text x="173.80" y="66.80" font-size="3.8" fill="#777">10<tspan dy="-1.6" font-size="2.6">5</tspan></text>
<line x1="181.80" y1="65.50" x2="183.30" y2="65.50" stroke="#999" stroke-width="0.4"/>
<text x="173.80" y="85.40" font-size="3.8" fill="#777">10<tspan dy="-1.6" font-size="2.6">4</tspan></text>
<line x1="181.80" y1="84.10" x2="183.30" y2="84.10" stroke="#999" stroke-width="0.4"/>
<text x="173.80" y="104.00" font-size="3.8" fill="#777">10<tspan dy="-1.6" font-size="2.6">3</tspan></text>
<line x1="181.80" y1="102.70" x2="183.30" y2="102.70" stroke="#999" stroke-width="0.4"/>
<text x="173.80" y="122.60" font-size="3.8" fill="#777">10<tspan dy="-1.6" font-size="2.6">2</tspan></text>
<line x1="181.80" y1="121.30" x2="183.30" y2="121.30" stroke="#999" stroke-width="0.4"/>
<text x="199.50" y="144.30" font-size="3.8" fill="#777">10<tspan dy="-1.6" font-size="2.6">2</tspan></text>
<line x1="202.00" y1="138.10" x2="202.00" y2="139.60" stroke="#999" stroke-width="0.4"/>
<text x="218.80" y="144.30" font-size="3.8" fill="#777">10<tspan dy="-1.6" font-size="2.6">3</tspan></text>
<line x1="221.30" y1="138.10" x2="221.30" y2="139.60" stroke="#999" stroke-width="0.4"/>
<text x="238.10" y="144.30" font-size="3.8" fill="#777">10<tspan dy="-1.6" font-size="2.6">4</tspan></text>
<line x1="240.60" y1="138.10" x2="240.60" y2="139.60" stroke="#999" stroke-width="0.4"/>
<text x="257.40" y="144.30" font-size="3.8" fill="#777">10<tspan dy="-1.6" font-size="2.6">5</tspan></text>
<line x1="259.90" y1="138.10" x2="259.90" y2="139.60" stroke="#999" stroke-width="0.4"/>
<text x="186.00" y="69.08" font-size="10.5" text-anchor="start" fill="#111" stroke="#111" stroke-width="0.15">A(62)</text>
<text x="237.90" y="69.68" font-size="10.5" text-anchor="start" fill="#111" stroke="#111" stroke-width="0.15">C(17)</text>
<text x="250.00" y="131.58" font-size="10.5" text-anchor="start" fill="#111" stroke="#111" stroke-width="0.15">B(21)</text>
<g clip-path="url(#ciiHet)"><path d="M233.5,237.2 219.5,237.0 209.8,237.1 201.8,237.0 195.2,237.1 189.0,237.1 186.0,236.9 185.3,236.7 185.1,236.4 186.0,236.1 188.8,235.9 201.8,236.0 210.5,235.8 219.8,236.0 231.2,235.8 243.5,236.1 245.0,236.2 245.6,236.4 245.2,236.7 243.8,236.9 233.5,237.2Z" fill="#151515" stroke="none"/><path fill="none" stroke="#242424" stroke-width="0.55" d="M229.0,235.1 229.0,234.9 229.1,234.9 229.0,235.1 M230.5,235.2 230.3,234.9 230.5,234.8 230.7,234.9 230.5,235.2 M232.0,235.2 231.8,234.9 232.0,234.8 232.2,234.9 232.0,235.2 M212.8,235.5 211.0,235.6 208.0,235.5 207.5,235.2 207.5,234.9 208.0,234.6 211.0,234.3 214.0,234.6 214.4,234.9 214.0,235.3 213.2,235.3 212.8,235.5 M232.5,235.7 230.5,235.8 226.0,235.4 225.3,234.9 226.0,234.5 230.5,234.2 235.0,234.5 235.8,234.8 236.5,234.7 236.9,234.9 236.5,235.3 235.8,235.1 235.0,235.5 232.5,235.7 M224.8,235.2 224.3,235.2 224.2,234.9 224.5,234.7 225.2,234.9 224.8,235.2 M185.5,235.1 185.4,234.9 185.5,234.8 185.7,234.9 185.5,235.1 M187.0,235.2 186.7,234.9 187.0,234.8 187.3,234.9 187.0,235.2 M188.5,235.2 188.3,234.9 188.5,234.8 188.7,234.9 188.5,235.2 M190.0,235.1 190.0,234.9 190.0,235.1 M194.5,235.1 194.5,234.9 194.5,235.1 M206.5,235.2 206.3,234.9 206.5,234.8 206.8,234.9 206.5,235.2 M215.5,235.1 215.4,234.9 215.5,234.9 215.5,235.1 M238.0,235.2 237.8,234.9 238.0,234.8 238.2,234.9 238.0,235.2 M233.5,236.2 230.8,236.3 227.5,236.1 221.5,235.5 220.8,235.3 220.0,235.4 219.2,235.1 218.5,235.4 217.8,235.3 217.0,235.5 212.5,236.1 209.5,236.2 203.5,235.5 202.8,235.2 202.0,235.4 201.4,234.9 202.0,234.6 202.8,234.8 203.5,234.5 204.2,234.5 211.2,233.6 213.8,233.8 217.8,234.7 218.5,234.6 219.2,234.9 220.0,234.6 220.8,234.7 224.5,234.1 230.5,233.7 235.0,233.9 241.8,234.6 242.5,234.5 243.2,234.8 244.0,234.6 244.7,234.9 244.0,235.4 243.2,235.2 242.5,235.5 241.8,235.3 233.5,236.2 M196.5,235.7 186.8,235.8 185.2,235.7 184.0,235.3 183.8,234.9 184.0,234.7 185.2,234.3 187.0,234.2 190.8,234.4 197.5,234.4 199.0,234.5 199.8,234.8 200.5,234.6 201.2,234.9 200.5,235.4 199.8,235.2 199.0,235.5 196.5,235.7 M245.8,235.2 245.2,235.3 244.9,234.9 245.5,234.7 245.9,234.9 245.8,235.2 M233.5,236.7 230.0,236.8 219.2,235.9 210.2,236.7 201.2,235.9 195.5,236.4 187.0,236.3 184.2,235.9 183.6,235.4 183.4,234.9 184.0,234.2 185.8,233.7 202.8,234.0 206.1,233.7 211.5,232.9 216.5,233.7 219.2,234.0 228.5,233.3 234.8,233.4 245.5,234.1 247.0,234.5 247.4,234.9 247.0,235.5 245.5,235.9 233.5,236.7 M211.2,229.0 210.8,228.9 210.5,228.7 210.2,227.9 210.2,227.1 210.8,226.5 211.3,226.7 211.7,227.4 211.7,228.4 211.2,229.0 M233.2,237.2 230.2,237.2 219.5,236.5 210.0,237.2 207.2,237.1 201.5,236.5 195.0,237.0 187.0,236.8 185.2,236.6 184.0,236.2 183.3,235.7 183.1,234.9 183.2,234.4 183.8,233.8 185.5,233.3 203.0,233.4 207.2,233.0 211.5,231.9 216.2,233.1 219.0,233.4 230.5,232.8 245.0,233.5 247.0,233.9 247.7,234.7 247.7,235.2 247.4,235.7 245.8,236.3 233.2,237.2 M235.5,237.5 231.0,237.7 219.8,237.0 209.5,237.6 201.5,237.0 195.0,237.5 187.2,237.3 185.2,237.1 183.8,236.6 183.0,235.8 182.8,234.9 182.9,234.2 183.5,233.5 184.2,233.1 185.5,232.8 202.0,232.9 205.5,232.7 207.8,232.2 208.9,231.7 209.7,230.9 209.8,230.2 209.4,228.2 209.4,226.9 210.0,225.7 210.8,225.4 211.8,225.8 212.5,226.9 212.7,228.2 212.7,230.2 213.0,230.9 213.9,231.7 215.9,232.4 219.5,232.9 230.2,232.4 244.5,232.9 247.0,233.4 247.8,233.9 248.2,234.7 248.1,235.4 247.8,236.0 247.0,236.5 246.0,236.8 235.5,237.5 M235.0,238.0 231.0,238.1 220.0,237.4 209.0,238.1 201.5,237.5 194.8,238.0 187.0,237.7 184.8,237.4 183.5,236.9 182.6,235.9 182.4,234.9 182.7,233.9 183.2,233.2 184.2,232.6 185.5,232.3 202.0,232.3 205.2,232.1 207.1,231.7 208.0,231.2 208.5,230.4 208.5,226.9 208.9,225.4 209.6,224.4 210.5,224.0 211.0,224.0 211.8,224.4 212.8,225.7 213.4,227.2 213.8,229.7 214.2,230.7 215.1,231.4 216.5,232.0 219.8,232.4 229.8,232.0 236.5,232.0 244.5,232.4 246.0,232.6 247.2,233.0 248.1,233.7 248.5,234.4 248.5,235.4 248.1,236.2 247.2,236.8 246.2,237.2 244.5,237.4 235.0,238.0 M234.5,238.5 231.0,238.5 220.2,237.9 208.8,238.6 201.5,238.0 194.8,238.4 187.0,238.1 184.8,237.8 183.2,237.1 182.4,236.2 182.1,234.7 182.4,233.7 183.2,232.7 184.2,232.2 185.5,231.8 201.8,231.8 204.5,231.6 206.2,231.2 207.0,230.7 207.5,229.9 207.7,226.2 208.3,224.2 209.2,222.8 209.8,222.4 210.5,222.2 211.8,222.8 213.2,224.7 214.0,226.4 215.0,230.2 215.8,230.9 217.0,231.5 220.0,231.9 227.0,231.6 235.8,231.5 244.5,231.8 246.2,232.1 247.5,232.6 248.3,233.2 248.9,234.2 249.0,235.2 248.6,236.2 247.8,237.0 246.5,237.5 244.2,237.9 234.5,238.5 M233.8,210.5 232.8,210.7 232.0,210.3 231.6,209.7 231.8,208.9 232.8,208.4 233.5,208.5 234.0,208.8 234.3,209.2 234.4,209.7 234.2,210.2 233.8,210.5 M233.2,239.0 220.5,238.3 208.5,239.1 201.5,238.5 194.5,238.9 187.2,238.5 184.5,238.1 183.0,237.4 182.0,236.2 181.7,234.7 182.1,233.4 182.8,232.6 183.8,231.9 185.2,231.4 195.5,231.0 201.5,231.2 203.9,230.9 205.5,230.5 206.1,229.9 206.5,229.2 206.8,225.4 207.8,222.8 209.0,221.0 209.8,220.5 210.5,220.4 211.8,220.9 212.8,222.1 214.5,225.4 215.8,229.7 216.4,230.4 217.5,231.0 220.5,231.5 236.5,231.0 244.8,231.1 246.5,231.5 247.8,232.1 248.7,232.9 249.3,233.9 249.4,235.2 248.9,236.4 248.0,237.3 246.5,238.0 244.0,238.4 233.2,239.0 M245.0,227.2 244.8,226.9 245.0,226.8 245.2,226.9 245.0,227.2 M194.2,228.3 193.8,228.3 193.5,227.9 193.8,227.7 194.2,227.7 194.5,227.9 194.2,228.3 M234.0,211.8 233.0,211.8 231.8,211.6 229.6,210.4 229.2,209.9 228.8,209.2 228.9,208.4 229.1,207.9 230.5,206.9 232.0,206.6 233.8,206.7 235.2,207.4 236.1,208.7 236.1,209.9 235.2,211.2 234.0,211.8 M210.2,239.5 207.0,239.5 201.0,239.0 193.5,239.4 185.8,238.8 183.8,238.3 182.2,237.3 181.5,235.9 181.4,234.4 181.7,233.4 182.3,232.4 183.2,231.6 184.2,231.1 186.2,230.7 190.5,230.4 192.0,229.9 192.1,229.4 191.6,228.2 191.6,227.4 192.2,226.7 193.0,226.4 194.5,226.4 195.8,226.9 196.4,227.7 196.6,229.4 197.5,230.0 199.0,230.3 201.0,230.4 203.0,230.2 204.2,229.8 204.8,229.4 205.2,228.7 205.9,224.7 207.5,221.0 208.8,219.4 209.5,219.1 210.5,218.9 212.0,219.4 213.2,220.7 215.1,224.7 216.5,229.2 217.1,229.9 218.0,230.5 219.5,230.9 221.5,231.0 232.2,230.8 242.4,230.2 243.4,229.9 244.2,229.4 243.4,227.9 243.3,226.9 243.8,225.9 245.0,225.6 245.8,225.8 246.2,226.2 246.7,227.2 246.5,228.0 245.3,229.4 245.4,229.7 248.8,232.1 249.5,233.2 249.8,234.2 249.7,235.7 248.7,237.2 247.0,238.3 245.0,238.8 232.5,239.4 220.0,238.8 210.2,239.5 M234.2,213.2 233.2,213.3 231.8,213.0 228.0,211.9 226.8,211.2 226.1,210.4 225.9,209.7 225.9,208.7 226.4,207.7 227.4,206.7 228.5,206.0 231.0,205.1 232.5,205.1 233.8,205.3 236.0,206.3 237.0,207.2 237.7,208.2 237.9,209.2 237.8,210.2 237.4,211.2 236.5,212.1 235.5,212.8 234.2,213.2 M210.0,240.0 207.0,240.0 201.0,239.5 193.0,239.8 185.2,239.1 183.2,238.4 181.9,237.4 181.1,235.9 181.1,234.2 181.8,232.4 183.2,231.0 184.8,230.3 188.8,229.2 189.1,228.7 189.5,227.2 190.0,226.3 190.8,225.6 191.8,225.2 194.2,225.1 196.6,225.7 197.9,226.7 199.2,228.7 200.0,229.1 201.5,229.3 202.8,228.9 203.6,227.9 204.6,224.7 207.2,219.5 208.8,218.1 210.5,217.7 211.5,217.9 212.5,218.3 214.0,219.9 215.6,223.4 217.2,228.7 217.8,229.4 218.5,230.0 221.0,230.5 231.0,230.4 234.2,230.2 239.8,229.4 240.6,229.2 241.2,228.7 241.7,226.2 242.3,224.9 243.5,224.2 244.8,224.1 246.5,224.7 247.8,225.9 248.2,227.2 248.2,229.9 249.8,232.4 250.3,233.9 250.2,235.7 249.0,237.4 247.2,238.6 245.0,239.2 232.5,239.8 220.2,239.2 210.0,240.0 M234.5,215.2 233.2,215.2 229.8,214.2 226.8,213.7 225.2,213.1 224.2,211.7 223.7,209.9 223.9,208.4 224.7,206.9 226.0,205.8 227.8,204.7 229.5,204.0 231.2,203.7 233.0,203.7 234.5,204.1 236.0,204.8 237.8,206.0 238.9,207.2 239.7,208.4 240.0,209.4 239.8,210.7 239.1,211.9 237.8,213.3 236.0,214.6 234.5,215.2 M210.2,240.5 207.0,240.6 200.8,240.0 192.8,240.3 185.2,239.5 183.0,238.8 181.5,237.5 180.8,235.9 180.8,233.9 181.3,232.4 182.2,231.2 183.5,230.1 186.4,228.4 188.4,225.4 190.2,224.2 192.2,223.8 195.2,224.0 197.8,224.6 200.8,225.9 201.8,225.7 202.8,224.9 204.0,223.2 207.0,218.1 208.2,217.2 210.0,216.6 211.2,216.7 212.5,217.0 213.5,217.7 214.5,218.7 215.4,220.2 216.2,221.9 218.0,228.2 218.8,229.2 220.0,229.7 222.2,230.0 231.2,230.0 234.1,229.7 237.0,228.9 238.1,228.4 238.9,227.7 239.6,224.7 240.3,223.4 241.5,222.5 242.8,222.0 244.5,222.2 246.8,223.1 248.5,224.5 249.5,226.2 249.8,227.4 249.9,230.2 250.9,233.4 250.8,235.2 250.3,236.4 249.4,237.7 248.2,238.6 246.8,239.3 243.8,239.8 234.0,240.2 220.8,239.6 210.2,240.5 M235.8,218.0 234.0,218.0 229.8,216.4 226.0,215.9 225.0,215.5 224.0,214.7 222.6,212.7 222.0,210.2 222.0,208.9 222.3,207.7 223.4,205.9 225.2,204.6 228.2,203.0 230.5,202.3 232.5,202.2 234.2,202.5 236.0,203.3 241.4,206.9 242.1,207.9 242.6,209.2 242.5,210.4 242.1,211.7 240.2,214.0 237.0,217.2 235.8,218.0 M210.5,241.0 207.2,241.2 200.5,240.5 192.2,240.7 188.0,240.3 184.8,239.8 182.5,238.9 181.1,237.7 180.4,235.9 180.4,233.7 181.1,231.9 182.0,230.6 184.5,227.9 186.6,225.2 188.4,223.7 190.0,223.0 192.0,222.7 196.2,222.9 200.2,223.4 201.8,223.2 202.8,222.6 203.5,221.8 205.6,218.2 206.7,216.9 208.0,216.1 210.0,215.5 211.5,215.5 212.8,215.8 214.0,216.5 215.2,217.7 216.1,219.2 217.2,221.4 219.0,227.8 219.8,228.7 221.0,229.2 223.5,229.5 230.8,229.6 233.2,229.3 235.2,228.7 236.3,227.9 236.9,226.9 237.0,223.2 237.6,221.4 238.2,220.7 239.0,220.3 241.5,219.6 242.8,219.5 244.0,219.8 247.0,221.1 249.3,222.9 250.2,224.2 250.9,225.4 251.4,227.7 251.3,230.7 251.6,233.4 251.3,235.2 250.7,236.7 249.8,237.9 248.5,238.9 247.0,239.7 245.2,240.1 243.0,240.4 232.5,240.6 221.0,240.1 210.5,241.0 M209.0,241.7 207.0,241.8 200.5,241.0 191.2,241.2 186.8,240.6 183.8,239.9 181.8,238.9 181.0,238.2 180.4,237.2 179.9,235.2 180.3,232.7 181.1,230.9 184.2,225.7 185.5,224.2 187.2,222.9 189.2,222.0 191.2,221.6 199.8,221.8 201.5,221.5 203.0,220.4 205.2,216.9 206.2,215.8 208.2,214.7 210.8,214.1 212.2,214.2 213.8,214.6 215.1,215.4 216.2,216.7 217.3,218.7 218.6,221.7 220.0,227.2 220.9,228.2 222.0,228.6 223.2,228.9 228.8,229.2 231.8,229.0 233.8,228.5 235.0,227.5 235.4,226.2 235.1,223.7 234.3,221.4 233.4,220.4 232.0,219.6 230.0,218.9 226.8,218.4 225.5,218.1 224.0,217.2 222.8,216.1 221.2,213.9 220.5,211.9 220.3,209.2 220.8,206.7 221.8,205.2 223.5,203.9 228.8,201.3 230.5,200.7 232.0,200.5 233.5,200.6 235.0,201.0 239.2,203.4 242.2,204.7 243.2,205.4 244.7,207.7 245.4,210.2 245.3,211.9 244.3,214.9 244.4,215.9 244.9,216.7 248.2,218.9 249.8,220.4 251.7,223.2 252.5,225.4 252.7,228.2 252.4,233.7 251.7,235.9 250.2,238.0 249.0,239.1 247.8,239.8 245.8,240.5 244.0,240.8 232.8,241.0 221.0,240.5 209.0,241.7 M208.2,242.5 206.5,242.4 200.2,241.6 193.0,241.8 190.5,241.6 184.8,240.6 183.0,240.0 181.8,239.4 180.7,238.4 179.9,237.2 179.6,235.9 179.5,234.4 180.2,231.7 182.0,226.7 182.8,225.2 184.0,223.8 185.5,222.6 187.2,221.6 189.2,220.9 191.8,220.5 198.8,220.4 201.0,219.9 202.4,218.9 204.3,216.2 205.4,214.9 207.0,213.9 209.0,213.0 211.5,212.5 216.0,213.2 217.2,213.0 217.8,212.3 218.2,211.2 218.9,206.2 219.3,205.2 219.8,204.5 221.2,203.3 228.8,199.5 231.2,198.9 233.8,199.0 235.5,199.5 239.5,201.3 243.0,201.6 244.2,202.2 245.2,203.4 248.5,210.2 251.1,217.4 253.4,222.7 253.9,224.4 254.1,227.4 253.7,232.4 252.6,235.4 250.9,237.9 249.5,239.3 248.0,240.2 246.2,240.9 244.2,241.3 232.8,241.4 221.2,240.9 208.2,242.5 M231.7,228.4 233.4,227.7 234.0,226.9 234.1,226.2 234.1,225.2 233.7,223.9 232.5,222.1 231.5,221.5 230.5,221.1 227.0,220.6 225.5,220.2 223.5,219.3 220.5,217.3 219.8,217.1 219.5,217.4 219.5,218.9 221.0,225.9 221.3,226.7 221.9,227.4 223.2,228.1 225.5,228.4 229.5,228.7 231.7,228.4 M208.2,243.2 206.5,243.1 203.0,242.4 200.0,242.1 192.5,242.3 190.2,242.1 184.2,240.9 182.8,240.3 181.2,239.5 180.2,238.6 179.6,237.4 179.2,236.2 179.1,234.7 179.3,232.7 180.7,226.7 181.7,224.4 183.0,223.0 184.5,221.8 186.2,220.9 188.2,220.1 191.2,219.5 197.8,219.1 200.4,218.4 201.7,217.4 203.7,214.9 205.0,213.7 207.0,212.3 209.0,211.3 210.8,210.8 214.2,210.8 215.5,210.4 216.2,209.7 216.6,208.9 217.1,204.7 217.8,203.4 219.0,202.5 223.0,200.5 225.8,198.6 227.0,197.9 229.8,197.4 233.2,197.5 239.5,199.2 244.0,199.6 245.8,200.4 246.8,201.7 248.5,205.4 251.7,211.2 252.6,213.9 253.6,218.4 255.2,222.4 255.5,223.9 255.6,226.2 255.0,232.4 253.9,234.7 251.6,237.9 250.0,239.5 248.5,240.5 246.5,241.4 244.5,241.8 233.0,241.9 226.4,241.4 221.5,241.4 208.2,243.2 M230.6,227.9 232.0,227.4 232.5,226.9 232.8,226.2 232.5,224.6 232.0,223.9 231.2,223.2 229.5,222.6 224.8,222.4 223.7,222.4 223.0,222.9 222.6,223.9 222.6,225.2 222.9,226.2 223.5,227.0 224.5,227.4 226.2,227.8 228.8,228.0 230.6,227.9"/><path fill="none" stroke="#444" stroke-width="0.5" d="M233.5,237.2 219.5,237.0 209.8,237.1 201.8,237.0 189.0,237.1 186.0,236.9 185.3,236.7 185.1,236.4 186.0,236.1 188.8,235.9 201.8,236.0 210.5,235.8 219.8,236.0 231.2,235.8 243.5,236.1 245.6,236.4 245.2,236.7 243.8,236.9 233.5,237.2 M239.2,237.5 231.8,237.6 219.5,237.4 209.0,237.5 189.8,237.5 185.8,237.3 184.6,236.9 184.1,236.4 184.5,236.1 185.2,235.8 188.2,235.5 201.8,235.6 211.0,235.5 219.5,235.6 231.0,235.4 244.2,235.7 246.0,236.0 246.6,236.4 246.1,236.9 244.8,237.2 239.2,237.5 M236.0,238.0 188.8,237.9 184.8,237.5 183.5,237.0 183.1,236.4 183.5,235.9 184.5,235.5 188.0,235.1 202.0,235.2 211.0,235.0 219.5,235.2 230.8,235.0 244.5,235.3 247.0,235.8 247.8,236.4 247.2,237.1 245.2,237.6 236.0,238.0 M233.8,238.5 219.8,238.3 188.8,238.3 184.0,237.8 182.4,237.2 181.9,236.4 182.5,235.8 183.5,235.3 187.2,234.7 211.2,234.6 219.8,234.7 230.8,234.5 245.5,235.0 248.0,235.6 248.7,235.9 249.0,236.4 248.7,236.9 248.0,237.4 245.2,238.1 233.8,238.5"/></g>
<path d="M221.50,158.20 L221.50,241.00" stroke="#666" stroke-width="0.6" fill="none"/>
<path d="M221.50,220.40 L268.30,220.40" stroke="#666" stroke-width="0.6" fill="none"/>
<rect x="182" y="158.2" width="86.30000000000001" height="82.80000000000001" fill="none" stroke="#9a9a9a" stroke-width="1.0"/>
<text x="172.50" y="169.70" font-size="3.8" fill="#777">10<tspan dy="-1.6" font-size="2.6">5</tspan></text>
<line x1="180.50" y1="168.40" x2="182.00" y2="168.40" stroke="#999" stroke-width="0.4"/>
<text x="172.50" y="188.30" font-size="3.8" fill="#777">10<tspan dy="-1.6" font-size="2.6">4</tspan></text>
<line x1="180.50" y1="187.00" x2="182.00" y2="187.00" stroke="#999" stroke-width="0.4"/>
<text x="172.50" y="206.90" font-size="3.8" fill="#777">10<tspan dy="-1.6" font-size="2.6">3</tspan></text>
<line x1="180.50" y1="205.60" x2="182.00" y2="205.60" stroke="#999" stroke-width="0.4"/>
<text x="172.50" y="225.50" font-size="3.8" fill="#777">10<tspan dy="-1.6" font-size="2.6">2</tspan></text>
<line x1="180.50" y1="224.20" x2="182.00" y2="224.20" stroke="#999" stroke-width="0.4"/>
<text x="198.20" y="247.20" font-size="3.8" fill="#777">10<tspan dy="-1.6" font-size="2.6">2</tspan></text>
<line x1="200.70" y1="241.00" x2="200.70" y2="242.50" stroke="#999" stroke-width="0.4"/>
<text x="217.50" y="247.20" font-size="3.8" fill="#777">10<tspan dy="-1.6" font-size="2.6">3</tspan></text>
<line x1="220.00" y1="241.00" x2="220.00" y2="242.50" stroke="#999" stroke-width="0.4"/>
<text x="236.80" y="247.20" font-size="3.8" fill="#777">10<tspan dy="-1.6" font-size="2.6">4</tspan></text>
<line x1="239.30" y1="241.00" x2="239.30" y2="242.50" stroke="#999" stroke-width="0.4"/>
<text x="256.10" y="247.20" font-size="3.8" fill="#777">10<tspan dy="-1.6" font-size="2.6">5</tspan></text>
<line x1="258.60" y1="241.00" x2="258.60" y2="242.50" stroke="#999" stroke-width="0.4"/>
<text x="184.40" y="169.88" font-size="10.5" text-anchor="start" fill="#111" stroke="#111" stroke-width="0.15">A(56)</text>
<text x="240.10" y="169.88" font-size="10.5" text-anchor="start" fill="#111" stroke="#111" stroke-width="0.15">C(12)</text>
<text x="250.80" y="236.58" font-size="10.5" text-anchor="start" fill="#111" stroke="#111" stroke-width="0.15">B(32)</text>
<g clip-path="url(#ciiKO)"><path d="M244.2,358.0 232.9,358.2 224.7,358.0 215.7,358.2 203.4,357.8 189.7,358.1 185.9,357.9 185.4,357.8 185.1,357.5 185.9,357.1 188.9,356.9 204.7,357.2 217.2,356.8 224.9,357.1 233.4,356.8 245.2,357.0 247.9,357.1 248.7,357.5 248.4,357.8 247.7,357.9 244.2,358.0Z" fill="#151515" stroke="none"/><path fill="none" stroke="#242424" stroke-width="0.55" d="M208.4,345.5 208.1,345.0 208.4,344.4 208.8,344.5 208.9,345.0 208.7,345.5 208.4,345.5 M208.7,346.6 208.2,346.5 207.7,346.1 207.3,345.0 207.5,343.8 207.9,343.3 208.4,343.1 209.3,343.5 209.8,344.8 209.5,346.0 208.7,346.6 M218.7,356.5 213.9,356.5 213.2,356.3 212.4,356.4 212.0,356.0 212.4,355.6 213.2,355.7 213.9,355.5 216.9,355.4 219.9,355.6 220.4,356.0 219.9,356.4 219.2,356.3 218.7,356.5 M211.2,356.1 210.9,356.2 210.8,356.0 210.9,355.8 211.3,356.0 211.2,356.1 M231.9,356.1 231.9,355.9 232.2,356.0 231.9,356.1 M233.7,356.1 233.4,356.2 233.2,356.0 233.4,355.8 233.8,356.0 233.7,356.1 M235.2,356.1 234.9,356.2 234.7,356.0 234.9,355.8 235.2,356.1 M236.4,356.1 236.3,356.0 236.4,355.9 236.6,356.0 236.4,356.1 M209.2,347.6 208.2,347.6 207.4,347.2 206.8,346.2 206.5,345.2 206.5,344.0 206.9,343.0 207.4,342.3 208.2,341.9 208.9,342.0 209.7,342.5 210.2,343.2 210.5,344.2 210.6,345.2 210.4,346.2 209.9,347.0 209.2,347.6 M219.4,357.0 216.9,357.2 212.7,357.0 209.4,356.6 208.7,356.3 207.9,356.3 207.6,356.0 207.9,355.6 210.9,355.1 215.7,354.9 219.9,355.1 222.4,355.7 222.9,355.7 223.3,356.0 222.9,356.3 222.4,356.3 221.4,356.7 219.4,357.0 M236.7,356.8 231.9,356.8 230.4,356.6 229.7,356.3 228.9,356.4 228.6,356.0 228.9,355.7 229.7,355.8 230.4,355.5 233.4,355.2 241.7,355.6 243.9,355.5 244.7,355.7 245.4,355.5 246.2,355.8 246.9,355.6 247.6,356.0 246.9,356.4 246.2,356.1 245.4,356.4 244.7,356.2 243.9,356.4 241.7,356.3 236.7,356.8 M194.7,356.6 191.4,356.7 186.9,356.5 186.2,356.3 185.4,356.4 185.0,356.0 185.4,355.6 186.2,355.8 186.9,355.5 191.4,355.3 195.9,355.5 196.7,355.9 197.4,355.7 197.9,356.0 197.4,356.3 196.7,356.1 196.2,356.4 194.7,356.6 M248.4,356.3 248.1,356.0 248.4,355.7 248.8,356.0 248.4,356.3 M199.2,356.0 198.9,356.2 198.7,356.0 198.9,355.8 199.2,356.0 M227.4,356.1 227.6,356.0 227.4,356.1 M209.2,348.8 207.9,348.8 206.9,348.1 206.1,346.8 205.8,345.2 205.8,343.8 206.2,342.2 207.2,341.1 208.2,340.7 209.2,340.9 210.2,341.7 210.9,342.8 211.4,344.2 211.4,345.8 210.9,347.2 210.2,348.2 209.2,348.8 M219.7,357.5 216.7,357.7 212.7,357.6 204.2,356.4 194.4,357.2 188.4,357.2 184.9,356.9 183.9,356.6 183.6,356.0 183.9,355.5 185.2,355.1 189.9,354.8 192.9,354.8 204.2,355.4 209.7,354.6 214.2,354.3 219.7,354.5 225.2,355.5 226.7,355.5 233.4,354.7 245.7,354.9 248.7,355.2 249.9,355.5 250.3,356.0 249.9,356.5 246.9,356.9 233.2,357.4 225.2,356.6 219.7,357.5 M208.9,350.3 207.4,350.0 206.2,348.8 205.3,347.0 204.9,345.0 205.1,343.0 205.8,341.2 206.9,340.0 208.2,339.6 209.4,339.8 210.8,341.0 211.8,342.8 212.2,344.8 212.1,346.8 211.4,348.5 210.2,349.8 208.9,350.3 M219.4,358.0 216.4,358.2 212.7,358.2 204.2,357.0 193.4,357.7 187.2,357.7 184.2,357.2 183.4,356.7 183.2,356.0 183.4,355.4 184.2,354.9 188.4,354.3 191.9,354.1 203.2,354.6 205.2,354.5 208.9,353.8 211.4,353.6 218.9,354.0 225.4,354.8 233.4,354.2 246.9,354.5 248.7,354.6 249.9,355.0 250.6,355.5 250.7,356.0 250.5,356.5 249.9,356.9 247.4,357.4 233.2,357.9 225.2,357.2 219.4,358.0 M218.9,358.5 212.4,358.7 203.9,357.6 192.9,358.2 186.9,358.2 185.2,358.0 183.9,357.6 183.1,357.0 182.8,356.0 183.1,355.2 183.7,354.7 185.9,354.0 191.2,353.5 197.4,354.0 202.7,353.9 204.9,353.7 206.7,353.0 207.2,352.5 207.2,352.0 205.6,350.0 204.8,348.2 204.2,346.0 204.2,343.8 204.7,341.5 205.7,339.8 206.9,338.8 208.4,338.4 209.9,338.9 211.2,339.9 212.2,341.5 212.9,343.2 213.1,345.2 212.9,347.5 212.4,349.0 211.0,351.8 211.2,352.2 211.7,352.5 213.9,353.0 225.4,354.3 233.7,353.7 247.4,354.0 248.9,354.2 250.2,354.6 250.7,355.0 251.1,355.8 251.0,356.5 250.4,357.1 249.4,357.5 247.9,357.8 232.9,358.4 224.9,357.7 218.9,358.5 M218.4,359.0 212.2,359.2 206.2,358.2 203.7,358.1 192.2,358.7 186.7,358.6 184.7,358.3 183.4,357.8 182.7,357.0 182.4,356.0 182.9,354.8 183.9,354.1 185.4,353.6 190.2,352.8 191.4,352.7 195.7,353.3 198.9,353.4 202.7,353.1 204.4,352.5 204.8,352.0 204.8,351.5 203.8,348.5 203.3,346.0 203.3,344.0 203.6,342.2 204.4,340.2 205.4,338.7 206.9,337.6 208.4,337.3 209.9,337.6 211.2,338.5 212.3,339.8 213.3,341.5 213.9,343.5 214.0,345.5 213.2,351.0 213.6,351.8 214.4,352.2 216.8,352.8 225.4,353.8 233.7,353.2 247.7,353.6 249.4,353.9 250.4,354.3 251.2,355.0 251.5,355.8 251.4,356.5 250.7,357.4 249.7,357.9 248.2,358.2 232.7,358.8 224.9,358.2 218.4,359.0 M217.7,359.5 211.9,359.7 206.2,358.7 203.7,358.5 191.4,359.2 186.7,359.1 184.7,358.8 183.2,358.2 182.3,357.2 182.0,356.0 182.5,354.8 183.4,353.9 184.7,353.3 188.3,352.5 189.4,351.9 189.9,351.2 190.2,349.5 190.9,348.9 191.5,349.0 192.0,349.5 192.4,351.6 193.0,352.0 194.2,352.4 196.2,352.8 198.7,352.8 201.3,352.5 202.6,352.0 203.0,351.5 203.1,350.8 202.5,347.0 202.4,344.5 202.6,342.8 203.1,341.0 204.1,339.0 205.4,337.4 206.9,336.4 208.7,336.1 210.2,336.4 211.4,337.3 212.8,338.8 214.0,340.8 214.6,342.5 214.9,344.5 214.6,350.2 214.9,351.1 215.8,351.8 217.9,352.3 225.7,353.2 233.7,352.7 247.9,353.1 249.4,353.4 250.7,353.9 251.5,354.8 251.8,355.8 251.7,356.8 250.9,357.7 249.7,358.3 248.2,358.7 232.4,359.2 224.7,358.7 217.7,359.5 M217.2,360.0 211.4,360.2 206.2,359.2 203.7,359.0 190.9,359.7 186.4,359.6 184.2,359.1 182.7,358.3 181.9,357.2 181.7,355.8 182.2,354.5 183.2,353.5 184.4,352.9 187.4,352.0 188.3,351.5 188.7,350.9 189.5,348.8 190.2,348.1 190.9,347.8 191.7,347.8 192.4,348.3 193.0,349.0 193.8,351.0 194.8,351.8 196.2,352.1 197.9,352.2 199.7,352.0 200.9,351.5 201.4,351.0 201.7,350.0 201.4,345.8 201.5,343.5 201.9,342.0 202.6,340.0 203.8,338.0 205.2,336.4 206.9,335.3 208.7,334.9 210.4,335.3 211.9,336.2 213.6,338.0 214.8,340.0 215.5,341.8 215.9,343.8 215.8,349.8 216.2,350.6 216.9,351.3 219.2,351.9 225.4,352.7 227.7,352.6 233.4,352.1 238.9,352.4 247.9,352.7 249.7,353.0 250.9,353.6 251.8,354.5 252.2,355.5 252.1,356.8 251.2,357.9 249.9,358.7 248.2,359.1 232.2,359.7 224.4,359.2 217.2,360.0 M232.2,347.1 231.9,347.2 231.7,347.0 231.9,346.8 232.3,347.0 232.2,347.1 M213.4,360.8 210.4,360.6 206.1,359.8 203.7,359.5 190.4,360.2 185.9,360.0 183.7,359.4 182.3,358.5 181.5,357.2 181.3,355.8 181.7,354.5 182.4,353.6 183.7,352.7 187.1,351.2 187.7,350.5 188.9,347.9 189.7,347.2 190.7,346.8 191.9,346.7 193.1,347.2 193.9,348.2 194.8,350.2 195.7,351.0 196.7,351.3 197.9,351.4 198.9,351.2 199.7,350.8 200.2,350.1 200.4,349.2 200.4,345.0 200.6,343.0 201.1,341.2 202.1,339.0 203.5,337.0 205.2,335.3 207.2,334.1 208.9,333.8 210.7,334.1 212.2,335.0 213.9,336.8 215.6,339.2 216.4,341.0 216.9,343.2 217.0,349.2 217.4,350.2 218.2,350.8 220.9,351.5 225.2,352.0 227.9,351.9 232.9,351.1 238.9,351.9 248.2,352.3 249.9,352.7 251.2,353.3 252.2,354.2 252.6,355.5 252.4,357.0 251.4,358.2 249.9,359.1 248.2,359.5 231.9,360.1 224.4,359.6 213.4,360.8 M232.9,348.8 231.4,348.9 230.2,348.1 229.8,347.0 230.4,346.0 231.2,345.6 232.2,345.4 233.2,345.7 233.9,346.2 234.2,347.0 234.1,347.8 233.7,348.3 232.9,348.8 M213.7,361.3 210.4,361.2 205.9,360.2 203.7,360.0 190.2,360.8 185.7,360.4 183.4,359.8 181.9,358.8 181.0,357.2 181.0,355.5 181.4,354.2 182.2,353.3 183.2,352.5 186.2,350.8 186.8,350.0 188.3,347.2 189.2,346.4 190.4,345.8 191.9,345.6 193.2,345.9 194.4,346.9 196.3,349.8 197.4,350.1 198.4,349.8 199.0,348.5 199.2,344.2 199.5,342.5 200.3,340.5 201.9,337.8 203.4,335.7 205.4,334.0 207.2,333.0 209.2,332.7 210.9,332.9 212.7,333.9 214.4,335.8 216.3,338.5 217.2,340.5 217.9,342.8 218.4,348.9 218.9,349.8 219.7,350.2 221.4,350.8 224.2,351.1 226.2,351.1 227.8,350.8 228.2,350.5 228.6,350.0 227.9,347.5 228.0,346.5 228.5,345.8 229.3,345.0 230.4,344.5 231.7,344.2 232.9,344.3 234.7,344.9 235.7,346.0 236.1,347.2 235.8,349.5 236.0,350.0 236.6,350.5 239.4,351.2 246.9,351.7 249.7,352.1 250.9,352.6 251.9,353.3 252.6,354.2 253.0,355.2 252.8,356.8 251.9,358.3 250.4,359.3 248.4,359.9 231.9,360.5 224.2,360.1 213.7,361.3 M214.2,361.8 210.4,361.8 205.6,360.8 203.4,360.5 196.5,360.8 190.2,361.3 185.9,360.9 183.2,360.1 181.6,359.0 181.0,358.2 180.6,357.2 180.6,355.5 181.0,354.2 181.7,353.2 182.7,352.2 185.4,350.2 187.3,347.0 188.9,345.5 190.7,344.8 192.7,344.5 194.2,344.7 196.2,345.6 196.8,345.5 198.8,341.0 201.1,337.2 202.9,335.0 204.7,333.3 206.2,332.4 207.9,331.8 209.7,331.5 211.4,331.8 212.9,332.6 214.3,334.0 216.3,336.8 217.8,339.2 218.8,341.8 219.6,344.2 220.3,348.0 220.8,348.8 221.4,349.2 223.4,349.6 224.9,349.2 225.2,348.8 225.8,346.8 226.3,345.8 227.2,344.8 228.4,343.9 231.2,343.2 233.7,343.2 235.7,344.0 237.1,345.2 237.7,346.8 238.0,349.0 238.7,350.0 240.9,350.7 247.7,351.3 250.2,351.8 251.4,352.4 252.2,353.0 253.0,354.0 253.3,355.0 253.4,356.0 253.1,357.0 252.2,358.5 250.7,359.7 248.4,360.4 231.7,361.0 223.9,360.6 214.2,361.8 M211.9,362.5 209.7,362.4 205.4,361.3 203.4,361.1 196.4,361.2 189.9,361.8 187.7,361.7 185.4,361.3 182.7,360.4 181.0,359.0 180.2,357.2 180.2,355.2 180.6,354.2 181.3,353.0 184.4,350.0 186.3,346.8 187.5,345.5 189.9,344.0 194.6,342.8 195.6,342.2 197.9,339.8 201.9,334.8 203.9,332.7 205.2,331.8 206.7,331.1 208.4,330.6 209.9,330.4 211.2,330.5 212.4,330.9 213.4,331.5 214.5,332.5 217.8,337.2 220.9,342.9 222.2,344.2 222.9,344.5 223.7,344.4 227.4,342.8 230.7,342.1 233.2,342.0 235.4,342.4 237.2,343.3 238.4,344.5 239.2,346.0 239.8,348.5 240.6,349.5 242.4,350.1 248.2,350.8 250.4,351.4 251.7,352.0 252.6,352.8 253.3,353.8 253.7,354.8 253.6,356.8 252.7,358.5 250.9,360.0 248.7,360.8 231.4,361.4 223.7,361.0 211.9,362.5 M213.4,363.0 211.4,363.2 209.9,363.1 205.4,361.9 203.2,361.6 196.4,361.7 189.9,362.4 187.9,362.3 185.7,361.9 182.7,360.9 180.8,359.5 180.2,358.5 179.8,357.5 179.8,355.2 180.8,353.0 183.5,349.8 185.3,346.5 186.7,344.9 188.7,343.6 193.3,341.5 195.7,339.9 198.2,337.7 202.7,332.5 204.7,330.9 207.2,329.8 210.4,329.3 212.7,329.8 214.8,331.2 216.4,333.2 220.7,339.8 222.2,341.3 223.2,341.6 224.4,341.7 230.7,340.8 232.9,340.7 234.9,340.9 236.9,341.6 238.7,342.6 239.9,343.8 240.7,345.2 241.6,348.0 242.3,348.8 243.9,349.5 248.9,350.4 251.2,351.2 253.0,352.5 253.7,353.5 254.0,354.5 254.1,355.8 254.0,356.8 253.0,358.8 251.2,360.3 248.9,361.2 246.9,361.4 241.7,361.4 231.4,361.9 223.7,361.5 221.1,361.8 213.4,363.0 M212.9,363.8 209.9,363.8 205.2,362.5 202.7,362.2 196.2,362.2 190.2,363.0 186.9,362.7 183.9,361.9 181.4,360.6 180.1,359.2 179.4,357.5 179.4,355.5 180.0,353.5 182.7,349.5 184.2,346.2 185.4,344.8 187.4,343.2 192.0,340.8 196.9,337.1 203.7,330.1 205.2,329.3 207.2,328.7 209.4,328.3 211.2,328.2 212.7,328.5 213.9,329.2 216.1,331.2 221.2,338.0 222.2,339.0 223.2,339.5 224.4,339.8 226.2,339.8 232.2,339.1 233.7,339.2 235.9,339.7 239.1,341.0 240.4,341.9 241.5,343.0 242.4,344.5 243.4,347.2 244.2,348.2 245.8,349.0 249.9,350.1 251.7,350.9 253.4,352.3 254.4,354.2 254.5,355.5 254.4,356.8 254.0,357.8 253.3,359.0 251.4,360.6 248.9,361.6 246.9,361.9 236.9,362.0 231.2,362.4 223.4,362.0 219.5,362.5 212.9,363.8 M212.9,364.5 211.2,364.7 209.7,364.6 204.9,363.1 202.2,362.8 196.3,362.8 190.2,363.6 187.4,363.4 183.9,362.4 181.4,361.2 179.9,359.8 179.0,358.0 178.9,356.0 179.4,354.0 181.7,349.5 183.0,346.2 184.2,344.5 185.9,342.9 190.7,340.2 193.9,337.5 197.2,335.2 198.9,333.6 202.7,329.4 203.7,328.7 205.2,328.1 210.2,327.1 211.4,327.1 212.7,327.3 213.9,327.9 215.4,329.1 220.9,335.4 222.4,336.8 223.4,337.4 224.9,337.9 226.9,337.9 228.9,337.7 232.4,336.9 233.7,336.9 235.2,337.4 240.4,339.9 241.7,340.8 242.9,342.0 243.8,343.5 245.1,346.5 245.9,347.5 247.0,348.2 250.7,349.7 252.4,350.7 253.9,352.1 254.8,354.0 254.9,355.2 254.8,356.5 254.3,358.0 253.8,359.0 251.9,360.8 250.4,361.6 249.2,362.0 246.9,362.3 236.7,362.5 231.2,362.9 223.2,362.5 219.7,363.0 212.9,364.5 M207.9,365.0 204.4,363.8 201.4,363.4 196.4,363.3 190.2,364.3 186.9,363.9 183.2,362.6 180.7,361.2 179.1,359.5 178.6,358.2 178.5,357.2 178.5,355.5 179.1,353.5 180.7,350.0 182.1,346.0 183.6,343.8 185.7,341.8 189.9,339.2 193.4,336.2 197.0,333.8 198.8,332.0 201.9,328.4 203.2,327.5 204.4,327.1 210.7,325.9 211.9,325.9 213.2,326.3 215.4,327.8 219.2,331.9 220.9,333.5 222.9,334.9 224.7,335.7 226.2,335.9 227.7,335.8 232.9,334.6 234.2,334.8 235.4,335.3 238.4,337.2 241.9,338.9 243.2,339.8 244.6,341.5 246.6,345.5 247.4,346.7 248.7,347.8 251.7,349.4 253.2,350.4 254.3,351.8 255.1,353.5 255.3,354.8 255.3,356.2 254.9,357.8 254.3,359.0 253.3,360.2 252.2,361.2 249.7,362.4 247.2,362.8 236.4,363.0 230.9,363.4 222.9,363.1 219.0,363.8 214.5,365.0"/><path fill="none" stroke="#444" stroke-width="0.5" d="M244.2,358.0 232.9,358.2 224.7,358.0 215.7,358.2 203.4,357.8 189.7,358.1 185.9,357.9 185.1,357.5 185.9,357.1 188.9,356.9 204.7,357.2 217.2,356.8 224.9,357.1 233.4,356.8 245.2,357.0 247.9,357.1 248.7,357.5 247.7,357.9 244.2,358.0 M237.4,358.5 224.9,358.4 214.9,358.6 204.2,358.3 188.7,358.5 185.2,358.2 184.4,357.9 184.1,357.5 184.4,357.1 185.2,356.9 188.2,356.6 204.4,356.7 217.2,356.4 225.2,356.6 233.7,356.4 245.9,356.6 248.7,356.9 249.4,357.2 249.7,357.5 248.9,358.0 247.2,358.3 237.4,358.5 M218.9,359.0 213.4,359.0 204.4,358.7 187.9,358.9 184.2,358.4 183.3,358.0 182.9,357.5 183.3,357.0 184.4,356.6 188.2,356.1 204.7,356.3 217.2,356.0 225.4,356.2 233.7,356.0 245.9,356.2 249.4,356.6 250.5,357.0 250.9,357.5 250.5,358.0 249.4,358.4 246.2,358.8 232.9,359.0 224.7,358.8 218.9,359.0 M243.9,359.3 232.4,359.4 224.6,359.2 215.7,359.5 204.4,359.2 188.9,359.4 185.7,359.2 183.7,358.8 182.2,358.2 181.7,357.5 182.0,357.0 183.2,356.4 186.9,355.8 192.4,355.6 204.9,355.8 216.7,355.5 225.2,355.8 233.9,355.6 246.4,355.8 250.4,356.3 251.5,356.8 252.0,357.2 252.0,357.8 251.7,358.1 249.7,358.8 247.4,359.2 243.9,359.3"/></g>
<path d="M220.90,267.50 L220.90,361.20" stroke="#666" stroke-width="0.6" fill="none"/>
<path d="M220.90,337.50 L268.50,337.50" stroke="#666" stroke-width="0.6" fill="none"/>
<rect x="181.7" y="267.5" width="86.80000000000001" height="93.69999999999999" fill="none" stroke="#9a9a9a" stroke-width="1.0"/>
<text x="172.20" y="289.90" font-size="3.8" fill="#777">10<tspan dy="-1.6" font-size="2.6">5</tspan></text>
<line x1="180.20" y1="288.60" x2="181.70" y2="288.60" stroke="#999" stroke-width="0.4"/>
<text x="172.20" y="308.50" font-size="3.8" fill="#777">10<tspan dy="-1.6" font-size="2.6">4</tspan></text>
<line x1="180.20" y1="307.20" x2="181.70" y2="307.20" stroke="#999" stroke-width="0.4"/>
<text x="172.20" y="327.10" font-size="3.8" fill="#777">10<tspan dy="-1.6" font-size="2.6">3</tspan></text>
<line x1="180.20" y1="325.80" x2="181.70" y2="325.80" stroke="#999" stroke-width="0.4"/>
<text x="172.20" y="345.70" font-size="3.8" fill="#777">10<tspan dy="-1.6" font-size="2.6">2</tspan></text>
<line x1="180.20" y1="344.40" x2="181.70" y2="344.40" stroke="#999" stroke-width="0.4"/>
<text x="197.90" y="367.40" font-size="3.8" fill="#777">10<tspan dy="-1.6" font-size="2.6">2</tspan></text>
<line x1="200.40" y1="361.20" x2="200.40" y2="362.70" stroke="#999" stroke-width="0.4"/>
<text x="217.20" y="367.40" font-size="3.8" fill="#777">10<tspan dy="-1.6" font-size="2.6">3</tspan></text>
<line x1="219.70" y1="361.20" x2="219.70" y2="362.70" stroke="#999" stroke-width="0.4"/>
<text x="236.50" y="367.40" font-size="3.8" fill="#777">10<tspan dy="-1.6" font-size="2.6">4</tspan></text>
<line x1="239.00" y1="361.20" x2="239.00" y2="362.70" stroke="#999" stroke-width="0.4"/>
<text x="255.80" y="367.40" font-size="3.8" fill="#777">10<tspan dy="-1.6" font-size="2.6">5</tspan></text>
<line x1="258.30" y1="361.20" x2="258.30" y2="362.70" stroke="#999" stroke-width="0.4"/>
<text x="183.80" y="277.48" font-size="10.5" text-anchor="start" fill="#111" stroke="#111" stroke-width="0.15">A(77)</text>
<text x="237.40" y="278.98" font-size="10.5" text-anchor="start" fill="#111" stroke="#111" stroke-width="0.15">C(5.6)</text>
<text x="252.90" y="354.88" font-size="10.5" text-anchor="start" fill="#111" stroke="#111" stroke-width="0.15">B(18)</text>
<g clip-path="url(#ciiiWT)"><path d="M313.5,81 C313.8,75 318.6,74.5 318.4,81 L318.0,136 L313.5,136 Z" fill="#b8b8b8"/><path d="M314.7,82 L314.9,136" stroke="#888" stroke-width="0.5" fill="none"/><path d="M315.9,79 C315.7,96 316.3,106.0 316.0,136" stroke="#777" stroke-width="0.5" fill="none"/><path d="M317.4,80 C317.7,96 317.0,111.0 317.09999999999997,136" stroke="#222" stroke-width="1.1" fill="none"/><path d="M323.2,135.4 319.5,135.4 316.5,135.2 314.5,134.8 314.0,134.4 313.9,134.2 314.5,133.7 315.8,133.3 320.5,133.0 337.8,133.1 340.8,133.5 341.5,133.8 341.7,134.2 341.7,134.4 341.0,134.8 338.2,135.3 323.2,135.4Z" fill="#151515" stroke="none"/><path fill="none" stroke="#242424" stroke-width="0.55" d="M328.5,107.4 328.0,107.1 327.8,106.2 328.0,105.3 328.5,105.0 329.0,105.2 329.4,106.2 329.1,107.2 328.5,107.4 M329.2,109.4 328.2,109.6 327.5,109.2 326.9,108.4 326.5,107.2 326.6,105.7 327.1,104.4 327.8,103.5 328.8,103.0 329.5,103.2 330.0,103.7 330.5,104.6 330.7,105.7 330.7,106.9 330.5,107.9 330.0,108.8 329.2,109.4 M328.8,111.4 327.2,111.0 326.1,109.9 325.4,108.2 325.3,106.4 325.9,104.2 327.0,102.2 328.5,100.9 329.8,100.6 330.8,101.1 331.5,102.4 332.0,104.7 332.0,106.9 331.7,108.7 330.9,110.2 330.0,111.0 328.8,111.4 M349.8,134.9 344.8,134.7 344.3,134.7 344.1,134.4 349.8,134.1 352.8,134.2 353.6,134.4 353.4,134.7 352.8,134.8 349.8,134.9 M341.8,134.7 341.4,134.7 341.3,134.4 342.0,134.4 341.8,134.7 M343.5,134.7 342.8,134.7 342.7,134.4 343.8,134.4 343.5,134.7 M354.5,134.4 354.2,134.5 354.0,134.4 354.5,134.4 M341.8,90.7 341.0,90.8 340.5,90.5 340.4,89.9 340.7,89.2 342.0,87.9 342.8,87.6 343.5,87.7 343.8,88.2 343.6,89.2 342.8,90.1 341.8,90.7 M329.0,113.2 328.0,113.1 327.0,112.7 325.5,111.4 324.3,108.9 324.1,107.4 324.1,106.2 324.4,104.7 325.1,102.9 327.0,99.9 328.0,98.8 329.0,98.0 330.0,97.7 330.8,97.7 332.0,98.3 332.8,99.9 333.2,103.7 333.2,107.4 332.7,109.7 331.8,111.5 330.5,112.7 329.0,113.2 M353.2,135.2 349.5,135.3 341.5,135.1 339.8,134.9 339.4,134.7 339.4,134.4 340.0,134.1 341.5,133.9 349.8,133.6 354.0,133.8 356.3,134.4 356.0,134.7 353.2,135.2 M317.2,79.9 316.8,80.0 316.2,79.4 316.2,78.4 316.8,78.0 317.2,78.1 317.6,78.7 317.6,79.4 317.2,79.9 M340.8,92.9 339.0,92.8 338.4,92.4 338.1,91.9 338.3,90.4 339.3,88.7 340.8,87.1 342.5,86.1 344.5,85.7 345.2,85.8 345.9,86.2 346.4,86.9 346.4,87.7 346.0,88.9 345.2,90.2 344.4,91.2 343.2,92.0 342.0,92.6 340.8,92.9 M329.8,115.0 328.5,115.1 327.2,114.8 326.0,114.1 325.0,113.0 324.0,111.4 323.3,109.4 322.9,107.7 322.8,105.9 323.2,104.2 324.1,101.9 327.0,97.4 328.0,96.3 329.0,95.6 330.2,95.2 331.5,95.1 332.6,95.4 333.5,95.9 334.1,96.7 334.6,97.9 334.7,99.9 334.5,107.4 334.0,109.9 332.9,112.4 331.5,114.0 329.8,115.0 M351.2,135.7 340.8,135.4 339.2,135.1 338.8,134.7 338.8,134.4 339.5,133.8 341.0,133.5 350.0,133.2 354.8,133.5 356.2,133.9 356.8,134.4 356.5,134.9 355.5,135.2 351.2,135.7 M317.0,81.2 316.2,81.0 315.8,80.7 315.4,79.9 315.2,79.2 315.6,77.7 316.0,77.2 316.8,76.9 317.8,77.4 318.2,78.2 318.4,78.9 318.0,80.4 317.5,80.9 317.0,81.2 M329.0,117.7 328.2,117.8 327.2,117.5 325.0,115.6 323.5,113.4 322.1,109.9 321.5,107.2 321.5,105.2 322.0,102.9 323.4,100.2 326.2,95.7 327.5,94.2 329.2,93.2 333.0,92.5 334.3,91.9 335.5,90.8 338.8,86.9 340.5,85.5 342.5,84.5 345.2,83.8 347.2,83.6 348.5,84.0 349.2,84.9 349.1,86.7 347.9,89.2 346.2,91.5 345.0,92.7 343.8,93.6 342.0,94.4 338.5,95.6 337.4,96.7 337.0,97.9 336.0,102.7 335.7,108.4 334.8,111.4 333.9,113.4 332.8,115.0 330.8,116.8 329.0,117.7 M316.0,110.2 315.8,109.3 315.7,107.4 316.0,103.0 316.2,104.2 316.4,107.2 316.2,109.3 316.0,110.2 M353.0,135.9 348.2,136.0 340.8,135.8 338.8,135.3 338.4,134.9 338.3,134.4 339.0,133.7 340.5,133.3 350.0,132.9 355.2,133.3 356.8,133.7 357.4,134.4 357.2,134.9 356.5,135.3 353.0,135.9 M317.2,82.5 316.2,82.6 315.5,82.1 314.8,81.1 314.3,79.7 314.3,78.4 314.6,77.2 315.2,76.3 316.2,75.8 317.2,75.9 318.0,76.4 318.7,77.4 319.0,78.4 319.0,79.7 318.7,80.9 318.0,82.0 317.2,82.5 M316.5,124.0 316.2,124.1 316.0,123.9 315.5,122.2 314.6,107.9 314.6,99.4 315.1,96.2 315.8,94.4 316.2,94.2 317.0,95.0 317.9,97.2 319.0,101.1 319.2,101.5 319.5,101.4 323.0,97.0 325.5,92.7 326.8,91.5 328.2,90.9 331.8,90.2 333.2,89.5 335.2,88.1 338.8,84.7 341.2,83.3 348.2,80.9 350.2,80.9 351.8,81.5 352.4,82.7 352.2,84.7 350.9,87.4 348.4,91.2 347.0,92.9 345.8,94.1 344.2,95.2 340.5,97.4 339.7,98.2 339.0,99.2 337.7,102.4 337.4,104.2 337.0,108.7 335.4,113.4 333.8,116.2 330.0,120.0 328.8,120.7 327.2,120.5 326.0,119.7 324.5,118.1 323.2,116.4 322.3,114.9 320.5,109.8 319.2,107.0 318.8,106.4 318.5,106.5 318.0,107.9 317.5,110.7 317.1,117.2 317.2,121.9 316.9,123.2 316.5,124.0 M353.8,136.2 348.2,136.4 340.5,136.1 339.0,135.8 338.2,135.4 337.8,134.9 337.7,134.4 338.0,133.9 338.5,133.5 340.2,133.0 349.2,132.5 352.8,132.6 355.5,133.0 357.0,133.4 357.9,134.2 357.8,134.9 357.0,135.5 353.8,136.2 M316.5,85.2 316.0,85.1 315.5,84.7 314.5,83.2 313.6,81.2 313.3,79.2 313.5,77.4 314.1,75.9 315.0,74.9 316.2,74.5 317.5,74.9 318.8,76.0 319.5,77.4 319.8,79.2 319.6,81.2 318.9,82.9 317.8,84.4 316.5,85.2 M316.2,129.0 315.8,128.9 315.1,127.9 314.6,126.4 314.3,124.7 313.3,103.7 313.4,100.2 314.2,94.2 314.7,91.9 315.2,90.6 315.8,90.1 316.5,90.2 319.0,93.8 319.8,94.4 320.5,94.5 321.5,93.8 323.5,90.6 325.0,89.1 327.0,88.2 331.0,87.6 332.8,87.0 334.5,86.0 338.0,83.2 340.2,81.9 346.5,79.2 348.2,78.7 349.8,78.5 351.5,78.7 352.8,79.0 353.8,79.6 354.6,80.7 354.9,81.9 354.7,83.4 353.9,85.4 352.2,88.2 347.8,94.3 345.8,96.3 342.0,99.0 340.3,101.2 339.2,103.7 338.6,107.9 338.2,109.7 336.2,114.9 334.9,117.2 330.9,121.7 329.5,122.5 328.2,122.8 327.0,122.6 325.9,122.2 321.0,118.2 320.5,117.9 320.0,118.0 319.6,118.9 319.1,122.4 318.4,124.9 317.2,127.8 316.2,129.0 M351.5,136.7 345.5,136.7 339.8,136.4 337.8,135.6 337.3,135.2 337.1,134.4 337.3,133.9 337.9,133.4 339.8,132.7 342.0,132.4 349.0,132.2 352.8,132.3 355.5,132.6 357.5,133.2 358.4,134.2 358.5,134.7 358.2,135.2 357.0,135.8 355.0,136.3 351.5,136.7 M315.5,141.2 314.9,139.4 313.1,125.9 312.8,111.9 312.1,103.4 312.2,100.9 313.0,95.9 313.4,91.4 314.0,87.4 313.8,85.7 312.6,81.7 312.3,79.4 312.6,76.9 313.4,74.9 314.2,73.8 315.0,73.2 315.8,72.9 316.5,73.0 318.2,74.0 319.9,76.2 320.5,78.2 320.6,80.4 320.3,82.7 319.2,87.7 319.5,88.7 320.2,89.1 321.0,88.8 323.5,87.2 325.2,86.4 327.5,85.8 331.2,85.1 332.8,84.6 338.2,81.2 346.8,77.0 348.8,76.5 350.8,76.5 353.0,76.8 354.5,77.3 355.9,78.7 356.7,80.4 356.7,82.4 356.1,84.4 354.6,87.2 348.8,95.5 346.8,97.7 343.2,100.8 341.8,102.7 341.0,104.4 339.9,108.9 337.4,115.7 336.1,118.2 332.2,122.6 331.2,123.4 330.0,124.1 328.5,124.4 327.0,124.4 325.8,124.0 323.2,123.0 322.2,122.8 321.2,123.2 320.2,124.5 319.2,126.8 318.5,129.7 317.4,139.7 316.9,141.2 M352.8,136.9 346.5,137.1 340.0,136.7 338.8,136.5 337.4,135.9 336.7,135.2 336.5,134.4 336.7,133.9 337.2,133.3 339.2,132.5 342.2,132.1 348.2,131.9 352.5,131.9 355.5,132.3 357.8,132.9 358.9,133.9 359.1,134.4 359.0,134.9 357.8,135.9 355.8,136.5 352.8,136.9"/><path fill="none" stroke="#444" stroke-width="0.5" d="M337.0,135.4 318.5,135.4 315.0,135.0 314.1,134.7 313.8,134.2 314.3,133.7 315.8,133.2 320.8,132.9 338.0,133.1 340.8,133.4 341.5,133.8 341.8,134.2 341.5,134.7 340.5,135.0 337.0,135.4 M322.0,135.9 318.0,135.8 315.2,135.5 313.3,134.9 312.9,134.7 312.7,134.2 313.2,133.5 314.8,133.0 317.0,132.7 320.8,132.5 338.8,132.7 341.8,133.3 342.5,133.7 342.8,134.2 342.6,134.7 341.5,135.2 338.2,135.8 322.0,135.9 M338.8,136.2 335.5,136.3 317.8,136.3 315.2,136.0 313.2,135.6 311.9,134.9 311.5,134.2 312.0,133.4 313.8,132.7 316.8,132.3 320.5,132.1 338.8,132.3 342.0,132.8 343.2,133.3 343.8,133.9 343.7,134.7 342.8,135.3 341.2,135.8 338.8,136.2 M338.5,136.7 322.2,136.9 317.2,136.7 314.0,136.3 312.0,135.8 310.8,135.1 310.3,134.7 310.2,134.2 310.4,133.7 311.0,133.1 313.2,132.3 316.8,131.8 320.8,131.6 339.0,131.8 343.0,132.5 344.4,133.2 345.1,133.9 345.0,134.7 343.8,135.6 341.5,136.3 338.5,136.7"/></g>
<path d="M313.50,64.20 L385.40,64.20 L385.40,137.30" stroke="#666" stroke-width="0.6" fill="none"/>
<path d="M362.40,64.40 L362.40,80.00 L351.80,99.50 L313.50,99.50" stroke="#666" stroke-width="0.6" fill="none"/>
<path d="M344.50,99.50 L344.50,137.30" stroke="#666" stroke-width="0.6" fill="none"/>
<rect x="313.5" y="51.9" width="87.30000000000001" height="85.4" fill="none" stroke="#9a9a9a" stroke-width="1.0"/>
<text x="310.50" y="54.60" font-size="5.9" text-anchor="end" fill="#222">10000</text>
<line x1="311.90" y1="51.90" x2="313.50" y2="51.90" stroke="#777" stroke-width="0.5"/>
<text x="310.50" y="75.95" font-size="5.9" text-anchor="end" fill="#222">1000</text>
<line x1="311.90" y1="73.25" x2="313.50" y2="73.25" stroke="#777" stroke-width="0.5"/>
<text x="310.50" y="97.30" font-size="5.9" text-anchor="end" fill="#222">100</text>
<line x1="311.90" y1="94.60" x2="313.50" y2="94.60" stroke="#777" stroke-width="0.5"/>
<text x="310.50" y="118.65" font-size="5.9" text-anchor="end" fill="#222">10</text>
<line x1="311.90" y1="115.95" x2="313.50" y2="115.95" stroke="#777" stroke-width="0.5"/>
<text x="310.50" y="140.00" font-size="5.9" text-anchor="end" fill="#222">1</text>
<line x1="311.90" y1="137.30" x2="313.50" y2="137.30" stroke="#777" stroke-width="0.5"/>
<path d="M313.50,130.87h1.2M320.07,137.30v-1.2M313.50,127.11h1.2M323.91,137.30v-1.2M313.50,124.45h1.2M326.64,137.30v-1.2M313.50,122.38h1.2M328.76,137.30v-1.2M313.50,120.69h1.2M330.48,137.30v-1.2M313.50,119.26h1.2M331.94,137.30v-1.2M313.50,118.02h1.2M333.21,137.30v-1.2M313.50,116.93h1.2M334.33,137.30v-1.2M313.50,109.52h1.2M341.89,137.30v-1.2M313.50,105.76h1.2M345.74,137.30v-1.2M313.50,103.10h1.2M348.46,137.30v-1.2M313.50,101.03h1.2M350.58,137.30v-1.2M313.50,99.34h1.2M352.31,137.30v-1.2M313.50,97.91h1.2M353.77,137.30v-1.2M313.50,96.67h1.2M355.03,137.30v-1.2M313.50,95.58h1.2M356.15,137.30v-1.2M313.50,88.17h1.2M363.72,137.30v-1.2M313.50,84.41h1.2M367.56,137.30v-1.2M313.50,81.75h1.2M370.29,137.30v-1.2M313.50,79.68h1.2M372.41,137.30v-1.2M313.50,77.99h1.2M374.13,137.30v-1.2M313.50,76.56h1.2M375.59,137.30v-1.2M313.50,75.32h1.2M376.86,137.30v-1.2M313.50,74.23h1.2M377.98,137.30v-1.2M313.50,66.82h1.2M385.54,137.30v-1.2M313.50,63.06h1.2M389.39,137.30v-1.2M313.50,60.40h1.2M392.11,137.30v-1.2M313.50,58.33h1.2M394.23,137.30v-1.2M313.50,56.64h1.2M395.96,137.30v-1.2M313.50,55.21h1.2M397.42,137.30v-1.2M313.50,53.97h1.2M398.68,137.30v-1.2M313.50,52.88h1.2M399.80,137.30v-1.2" stroke="#888" stroke-width="0.45" fill="none"/>
<text x="313.50" y="145.90" font-size="5.9" text-anchor="middle" fill="#222">1</text>
<line x1="313.50" y1="137.30" x2="313.50" y2="138.90" stroke="#777" stroke-width="0.5"/>
<text x="335.32" y="145.90" font-size="5.9" text-anchor="middle" fill="#222">10</text>
<line x1="335.32" y1="137.30" x2="335.32" y2="138.90" stroke="#777" stroke-width="0.5"/>
<text x="357.15" y="145.90" font-size="5.9" text-anchor="middle" fill="#222">100</text>
<line x1="357.15" y1="137.30" x2="357.15" y2="138.90" stroke="#777" stroke-width="0.5"/>
<text x="378.98" y="145.90" font-size="5.9" text-anchor="middle" fill="#222">1000</text>
<line x1="378.98" y1="137.30" x2="378.98" y2="138.90" stroke="#777" stroke-width="0.5"/>
<text x="400.80" y="145.90" font-size="5.9" text-anchor="middle" fill="#222">10000</text>
<line x1="400.80" y1="137.30" x2="400.80" y2="138.90" stroke="#777" stroke-width="0.5"/>
<text x="315.70" y="73.98" font-size="10.5" text-anchor="start" fill="#111" stroke="#111" stroke-width="0.15">17</text>
<text x="330.80" y="130.28" font-size="10.5" text-anchor="start" fill="#111" stroke="#111" stroke-width="0.15">82</text>
<text x="368.50" y="134.58" font-size="10.5" text-anchor="start" fill="#111" stroke="#111" stroke-width="0.15">1.6</text>
<g clip-path="url(#ciiiHet)"><path d="M312.6,184 C312.90000000000003,178 317.50000000000006,177.5 317.3,184 L316.90000000000003,240 L312.6,240 Z" fill="#b8b8b8"/><path d="M313.8,185 L314.0,240" stroke="#888" stroke-width="0.5" fill="none"/><path d="M315.0,182 C314.8,199 315.40000000000003,209.5 315.1,240" stroke="#777" stroke-width="0.5" fill="none"/><path d="M316.3,183 C316.6,199 315.90000000000003,214.5 316.0,240" stroke="#222" stroke-width="1.1" fill="none"/><path d="M321.6,239.0 317.9,238.9 315.1,238.6 313.7,238.2 313.4,238.0 313.3,237.8 313.6,237.4 314.6,237.1 317.9,236.7 332.4,236.6 339.9,236.9 341.4,237.2 341.9,237.5 342.1,237.8 341.9,238.2 341.4,238.4 338.6,238.9 321.6,239.0Z" fill="#151515" stroke="none"/><path fill="none" stroke="#242424" stroke-width="0.55" d="M342.1,185.6 341.7,185.5 342.1,185.4 342.1,185.6 M344.1,238.0 343.4,238.0 343.9,237.9 344.1,238.0 M345.9,238.0 345.4,238.2 344.9,238.0 345.4,237.8 345.9,238.0 M347.1,238.1 346.4,238.0 346.9,237.8 347.3,238.0 347.1,238.1 M348.6,238.1 348.2,238.0 348.6,238.1 M340.6,188.0 338.9,187.9 337.8,187.2 337.6,186.2 338.4,185.0 339.9,183.9 341.6,183.3 343.1,183.3 344.5,184.0 344.9,184.5 345.1,185.2 344.5,186.5 342.9,187.5 340.6,188.0 M330.4,214.1 329.9,214.2 329.6,214.0 329.0,212.8 329.3,211.2 329.6,210.9 330.1,210.7 330.8,211.2 331.1,212.2 331.0,213.2 330.4,214.1 M349.4,238.5 343.6,238.6 340.6,238.4 338.9,238.0 340.6,237.6 345.6,237.4 353.4,237.8 354.1,238.0 353.4,238.2 352.6,238.2 349.4,238.5 M355.1,238.1 354.1,238.0 354.9,237.8 355.3,238.0 355.1,238.1 M356.6,238.1 356.0,238.0 356.4,237.9 356.6,238.1 M316.1,181.5 315.9,181.4 315.6,181.0 315.8,180.5 316.1,180.5 316.4,181.0 316.1,181.5 M338.6,191.3 337.1,191.4 335.9,191.1 334.6,190.2 333.8,189.2 333.3,188.0 333.3,186.8 333.7,185.8 334.6,184.8 336.0,183.8 338.6,182.3 340.4,181.6 341.6,181.4 343.1,181.4 344.6,181.8 346.1,182.4 347.1,183.2 347.7,184.2 347.7,185.5 347.3,186.8 346.4,188.0 344.1,189.4 338.6,191.3 M330.6,216.8 329.4,216.9 328.4,216.5 327.8,215.8 327.5,214.5 327.6,212.2 328.2,210.5 329.1,209.2 330.1,208.8 331.1,209.1 332.0,210.0 332.6,211.2 332.9,212.8 332.7,214.0 332.3,215.2 331.5,216.2 330.6,216.8 M348.1,239.0 344.6,239.1 340.9,238.8 338.9,238.5 338.3,238.0 338.9,237.5 340.1,237.3 346.1,237.0 356.4,237.4 358.1,237.7 358.5,238.0 358.1,238.3 356.6,238.6 348.1,239.0 M316.1,182.5 315.4,182.2 314.9,181.0 315.3,179.8 316.1,179.4 316.9,179.9 317.1,181.0 316.8,182.0 316.1,182.5 M338.4,194.6 336.6,194.7 334.6,194.0 332.9,192.9 331.6,191.4 330.6,189.5 330.3,187.5 330.6,185.8 331.6,184.0 332.6,183.1 334.1,182.3 339.6,180.1 341.6,179.6 343.4,179.6 345.4,180.0 347.9,180.7 349.3,181.5 350.2,182.8 350.4,184.5 349.9,186.5 348.8,188.5 347.9,189.4 346.6,190.3 340.1,193.9 338.4,194.6 M330.1,219.0 328.4,218.7 326.9,217.8 326.0,216.5 325.7,214.8 326.4,211.2 327.4,208.8 328.1,207.8 328.9,207.1 330.4,206.6 331.6,207.1 333.0,208.8 334.3,211.2 334.7,213.2 334.3,215.2 333.2,217.2 331.9,218.5 330.1,219.0 M350.1,239.3 345.4,239.4 340.9,239.2 338.6,238.8 338.1,238.5 337.8,238.0 338.4,237.4 339.6,237.0 346.4,236.6 356.9,237.0 358.4,237.4 359.0,238.0 358.6,238.5 357.4,238.9 350.1,239.3 M337.9,197.1 335.6,197.2 333.4,196.5 330.9,194.8 329.4,193.0 328.4,190.2 328.1,187.5 328.5,185.2 329.9,182.9 331.1,181.7 332.9,180.6 341.9,177.6 343.6,177.6 349.6,178.1 351.0,178.5 352.2,179.2 353.4,180.8 353.7,181.8 353.6,182.8 352.6,186.2 350.9,189.2 349.9,190.3 348.4,191.4 344.9,193.3 340.4,196.1 337.9,197.1 M316.1,183.8 315.4,183.6 314.7,183.0 314.2,182.0 314.1,181.0 314.2,180.0 314.7,179.0 315.4,178.4 316.1,178.2 316.9,178.4 317.4,179.0 317.8,180.0 317.9,181.0 317.8,182.0 317.4,182.9 316.9,183.5 316.1,183.8 M331.1,220.8 330.1,220.9 328.9,220.8 327.6,220.3 326.4,219.5 325.4,218.5 324.7,217.5 324.3,216.5 324.1,215.2 324.3,213.5 325.0,210.5 326.2,207.2 327.1,206.1 328.4,205.0 329.6,204.3 330.6,204.1 331.9,204.5 333.1,205.9 335.6,210.5 336.2,213.0 335.8,215.5 334.7,218.0 333.1,219.8 332.1,220.4 331.1,220.8 M315.1,217.3 314.7,217.0 314.4,215.8 314.1,212.2 314.3,208.0 314.7,206.8 315.1,206.4 315.4,207.0 315.8,208.5 316.1,212.5 315.8,215.5 315.1,217.3 M347.6,239.8 342.9,239.7 339.6,239.4 337.9,238.8 337.4,238.5 337.2,238.0 337.9,237.2 339.6,236.7 346.4,236.3 356.9,236.7 358.9,237.2 359.3,237.5 359.6,238.0 359.0,238.8 357.6,239.2 347.6,239.8 M331.1,223.1 329.9,223.2 328.6,223.0 327.4,222.4 325.9,221.2 324.6,219.8 323.5,218.2 322.8,216.5 322.5,215.0 322.7,212.5 323.9,207.8 324.5,206.0 325.6,204.3 328.8,201.0 329.5,199.8 329.5,199.2 329.2,198.5 326.1,195.8 325.6,195.0 325.4,194.0 326.1,187.0 326.6,185.2 327.6,183.2 329.4,181.0 331.6,179.4 341.9,175.6 348.6,175.1 350.6,175.1 357.4,176.7 358.6,177.1 359.4,177.9 359.8,179.0 359.9,180.2 359.6,181.8 358.9,183.2 356.4,187.0 353.5,190.2 352.1,191.5 350.6,192.5 345.4,195.0 340.1,198.2 335.4,200.0 334.3,201.0 334.1,202.2 334.5,204.5 337.3,211.5 337.5,213.0 337.5,214.5 336.6,217.2 335.1,220.0 333.1,222.0 331.1,223.1 M316.4,185.8 315.6,185.9 314.6,185.1 313.7,183.5 313.3,181.8 313.4,180.0 313.9,178.5 314.9,177.3 315.9,176.8 316.9,177.1 317.9,178.0 318.5,179.2 318.8,180.8 318.7,182.2 318.2,183.8 317.4,185.0 316.4,185.8 M315.4,197.4 314.9,197.2 314.4,196.3 313.8,194.0 314.4,191.9 314.9,191.2 315.4,190.9 315.9,191.1 316.3,191.8 316.7,193.5 316.2,195.8 315.4,197.4 M314.9,224.7 314.5,223.8 313.4,216.0 313.1,210.0 313.2,207.8 313.6,205.5 314.6,202.3 315.1,201.4 315.4,201.5 315.6,201.8 316.3,204.0 317.2,210.2 317.4,212.5 317.2,214.5 315.9,219.8 315.4,223.6 315.1,224.5 314.9,224.7 M349.4,240.0 344.4,240.1 340.1,239.8 337.6,239.1 336.9,238.5 336.7,238.0 336.9,237.5 337.4,237.0 339.1,236.4 341.9,236.1 345.9,235.9 357.1,236.4 359.1,236.9 360.0,237.8 360.1,238.2 359.7,238.8 358.1,239.4 349.4,240.0 M315.1,229.6 314.6,229.7 313.9,229.0 313.4,228.0 313.0,226.5 312.8,219.5 312.0,209.5 312.2,207.0 313.1,202.5 313.3,200.5 313.1,198.5 312.2,195.2 312.1,194.0 312.4,192.5 313.3,189.5 313.5,188.0 313.4,186.8 312.5,183.2 312.4,181.2 313.0,178.5 313.6,177.0 314.4,175.9 315.4,175.2 315.9,175.1 316.6,175.3 318.1,176.6 319.3,178.5 319.8,180.2 320.0,182.5 319.4,188.5 319.9,189.8 320.4,190.2 320.9,190.3 321.4,190.0 322.1,189.3 324.5,184.8 327.3,181.0 329.0,179.2 331.6,177.6 336.2,176.0 340.4,174.0 342.1,173.5 344.4,173.1 350.9,172.7 359.1,173.7 360.9,174.5 361.8,175.5 362.2,176.8 362.5,178.5 362.4,180.5 362.0,182.8 361.2,185.2 360.2,187.5 359.4,188.8 358.1,190.0 352.6,194.2 350.9,195.1 346.9,196.4 344.9,197.2 338.4,201.0 337.5,201.8 336.9,202.5 336.6,203.5 336.7,205.0 338.5,211.0 338.8,212.8 338.7,214.5 338.3,216.5 337.4,218.8 336.3,220.8 334.6,223.0 332.9,224.8 331.4,225.6 329.4,225.8 327.4,225.2 326.2,224.2 325.1,223.0 322.7,219.5 320.6,215.9 320.1,215.2 319.6,215.0 319.1,215.3 318.6,216.0 317.5,218.5 317.0,220.5 316.5,226.5 315.9,228.5 315.1,229.6 M320.2,210.2 320.9,209.5 321.4,208.4 323.1,202.0 323.2,201.0 323.0,200.0 322.4,198.9 321.1,197.5 320.1,197.0 319.4,197.3 318.6,198.4 318.2,200.0 318.1,201.8 318.3,205.8 318.6,207.9 319.4,209.8 319.9,210.3 320.2,210.2 M350.6,240.3 344.6,240.5 339.6,240.1 337.9,239.6 336.9,239.1 336.2,238.5 336.1,237.8 336.4,237.2 337.1,236.8 338.9,236.1 341.6,235.8 346.4,235.6 357.4,236.1 359.6,236.7 360.3,237.2 360.6,237.8 360.6,238.2 360.3,238.8 359.6,239.3 358.6,239.7 356.6,240.0 350.6,240.3 M315.6,237.0 315.1,237.0 314.6,236.1 312.2,229.2 311.8,227.5 311.5,224.5 311.6,216.6 310.8,209.0 310.9,207.0 311.9,201.2 311.7,199.2 310.8,196.2 310.5,194.8 310.7,193.2 311.8,190.0 312.1,188.4 312.0,186.8 311.5,183.5 311.4,181.5 311.8,179.5 312.4,177.2 314.2,173.2 314.9,172.6 315.4,172.4 315.9,172.4 316.6,172.9 319.2,176.2 321.9,180.9 322.4,181.4 323.1,181.6 324.4,181.1 327.6,178.2 329.9,176.7 335.6,174.5 340.4,172.1 343.6,171.1 345.9,170.7 352.9,170.0 357.1,170.8 360.9,171.1 362.4,171.8 363.4,172.8 364.2,174.2 364.6,176.0 364.6,178.5 364.4,181.8 364.0,184.0 362.8,187.5 361.7,189.5 360.3,191.0 353.4,196.2 351.1,197.3 347.0,198.5 345.2,199.2 341.3,201.5 339.5,203.0 338.9,204.2 338.8,205.5 340.0,212.0 340.0,214.2 339.7,216.2 339.0,218.5 338.0,220.5 334.6,225.8 333.4,227.1 332.1,227.7 330.4,228.0 328.4,227.8 326.8,227.2 325.6,226.5 324.4,225.2 320.9,219.9 319.9,219.2 319.1,219.6 318.5,221.0 317.9,225.8 316.5,231.5 316.1,235.8 315.6,237.0 M348.1,240.8 342.4,240.7 338.4,240.1 336.9,239.6 336.1,239.1 335.6,238.5 335.5,237.8 335.7,237.2 336.4,236.7 338.4,235.9 341.9,235.4 346.4,235.3 357.4,235.7 359.9,236.5 360.7,237.0 361.1,237.8 361.1,238.5 360.6,239.1 359.6,239.7 358.4,240.1 348.1,240.8"/><path fill="none" stroke="#444" stroke-width="0.5" d="M336.1,239.0 317.6,239.0 314.4,238.5 313.6,238.2 313.2,237.8 313.6,237.3 314.4,237.1 317.6,236.6 332.1,236.6 339.9,236.8 341.6,237.2 342.2,237.8 341.9,238.2 340.9,238.7 336.1,239.0 M339.4,239.3 333.6,239.5 318.1,239.4 313.9,238.9 312.6,238.4 312.2,237.8 312.6,237.2 313.4,236.9 316.4,236.3 332.1,236.1 338.1,236.3 340.9,236.6 342.6,237.1 343.3,237.8 343.1,238.2 342.4,238.7 339.4,239.3 M338.6,239.8 333.4,239.9 317.9,239.8 312.9,239.1 311.5,238.5 311.0,237.8 311.6,237.0 313.4,236.3 316.6,235.9 320.4,235.7 332.9,235.7 338.9,235.9 342.6,236.4 343.9,237.0 344.4,237.5 344.4,238.2 343.1,239.1 340.9,239.6 338.6,239.8 M338.1,240.3 321.6,240.4 316.4,240.2 313.9,239.9 311.6,239.3 310.1,238.5 309.7,237.8 310.0,237.2 310.6,236.7 312.9,235.9 316.6,235.4 320.4,235.3 332.9,235.2 339.1,235.4 343.6,236.1 345.0,236.8 345.7,237.5 345.7,238.0 345.5,238.5 344.1,239.4 341.9,239.9 338.1,240.3"/></g>
<path d="M312.60,167.60 L384.60,167.60 L384.60,241.40" stroke="#666" stroke-width="0.6" fill="none"/>
<path d="M367.40,167.60 L367.40,181.30 L350.90,203.20 L312.60,203.20" stroke="#666" stroke-width="0.6" fill="none"/>
<path d="M343.10,203.20 L343.10,241.40" stroke="#666" stroke-width="0.6" fill="none"/>
<rect x="312.6" y="155.5" width="87.89999999999998" height="85.9" fill="none" stroke="#9a9a9a" stroke-width="1.0"/>
<text x="309.60" y="158.20" font-size="5.9" text-anchor="end" fill="#222">10000</text>
<line x1="311.00" y1="155.50" x2="312.60" y2="155.50" stroke="#777" stroke-width="0.5"/>
<text x="309.60" y="179.67" font-size="5.9" text-anchor="end" fill="#222">1000</text>
<line x1="311.00" y1="176.97" x2="312.60" y2="176.97" stroke="#777" stroke-width="0.5"/>
<text x="309.60" y="201.15" font-size="5.9" text-anchor="end" fill="#222">100</text>
<line x1="311.00" y1="198.45" x2="312.60" y2="198.45" stroke="#777" stroke-width="0.5"/>
<text x="309.60" y="222.62" font-size="5.9" text-anchor="end" fill="#222">10</text>
<line x1="311.00" y1="219.93" x2="312.60" y2="219.93" stroke="#777" stroke-width="0.5"/>
<text x="309.60" y="244.10" font-size="5.9" text-anchor="end" fill="#222">1</text>
<line x1="311.00" y1="241.40" x2="312.60" y2="241.40" stroke="#777" stroke-width="0.5"/>
<path d="M312.60,234.94h1.2M319.22,241.40v-1.2M312.60,231.15h1.2M323.08,241.40v-1.2M312.60,228.47h1.2M325.83,241.40v-1.2M312.60,226.39h1.2M327.96,241.40v-1.2M312.60,224.69h1.2M329.70,241.40v-1.2M312.60,223.25h1.2M331.17,241.40v-1.2M312.60,222.01h1.2M332.45,241.40v-1.2M312.60,220.91h1.2M333.57,241.40v-1.2M312.60,213.46h1.2M341.19,241.40v-1.2M312.60,209.68h1.2M345.06,241.40v-1.2M312.60,207.00h1.2M347.81,241.40v-1.2M312.60,204.91h1.2M349.93,241.40v-1.2M312.60,203.21h1.2M351.67,241.40v-1.2M312.60,201.78h1.2M353.15,241.40v-1.2M312.60,200.53h1.2M354.42,241.40v-1.2M312.60,199.43h1.2M355.54,241.40v-1.2M312.60,191.99h1.2M363.17,241.40v-1.2M312.60,188.20h1.2M367.03,241.40v-1.2M312.60,185.52h1.2M369.78,241.40v-1.2M312.60,183.44h1.2M371.91,241.40v-1.2M312.60,181.74h1.2M373.65,241.40v-1.2M312.60,180.30h1.2M375.12,241.40v-1.2M312.60,179.06h1.2M376.40,241.40v-1.2M312.60,177.96h1.2M377.52,241.40v-1.2M312.60,170.51h1.2M385.14,241.40v-1.2M312.60,166.73h1.2M389.01,241.40v-1.2M312.60,164.05h1.2M391.76,241.40v-1.2M312.60,161.96h1.2M393.88,241.40v-1.2M312.60,160.26h1.2M395.62,241.40v-1.2M312.60,158.83h1.2M397.10,241.40v-1.2M312.60,157.58h1.2M398.37,241.40v-1.2M312.60,156.48h1.2M399.49,241.40v-1.2" stroke="#888" stroke-width="0.45" fill="none"/>
<text x="312.60" y="250.00" font-size="5.9" text-anchor="middle" fill="#222">1</text>
<line x1="312.60" y1="241.40" x2="312.60" y2="243.00" stroke="#777" stroke-width="0.5"/>
<text x="334.58" y="250.00" font-size="5.9" text-anchor="middle" fill="#222">10</text>
<line x1="334.58" y1="241.40" x2="334.58" y2="243.00" stroke="#777" stroke-width="0.5"/>
<text x="356.55" y="250.00" font-size="5.9" text-anchor="middle" fill="#222">100</text>
<line x1="356.55" y1="241.40" x2="356.55" y2="243.00" stroke="#777" stroke-width="0.5"/>
<text x="378.52" y="250.00" font-size="5.9" text-anchor="middle" fill="#222">1000</text>
<line x1="378.52" y1="241.40" x2="378.52" y2="243.00" stroke="#777" stroke-width="0.5"/>
<text x="400.50" y="250.00" font-size="5.9" text-anchor="middle" fill="#222">10000</text>
<line x1="400.50" y1="241.40" x2="400.50" y2="243.00" stroke="#777" stroke-width="0.5"/>
<text x="313.80" y="176.28" font-size="10.5" text-anchor="start" fill="#111" stroke="#111" stroke-width="0.15">21</text>
<text x="320.80" y="234.38" font-size="10.5" text-anchor="start" fill="#111" stroke="#111" stroke-width="0.15">77</text>
<text x="367.90" y="238.68" font-size="10.5" text-anchor="start" fill="#111" stroke="#111" stroke-width="0.15">2.1</text>
<g clip-path="url(#ciiiKO)"><path d="M338.8,345.8 326.0,345.9 317.8,345.8 314.8,345.5 314.0,345.2 313.7,344.8 313.8,344.5 314.5,344.1 316.0,343.8 325.8,343.6 340.0,343.8 342.0,344.2 342.6,344.5 342.8,344.8 342.5,345.2 341.8,345.5 338.8,345.8Z" fill="#151515" stroke="none"/><path fill="none" stroke="#242424" stroke-width="0.55" d="M318.5,311.7 318.4,311.0 318.5,310.1 318.6,311.0 318.5,311.7 M318.5,314.1 318.1,313.0 317.9,310.5 318.0,308.2 318.2,307.4 318.5,307.1 318.9,308.2 319.1,310.8 318.9,313.0 318.5,314.1 M318.5,316.9 318.1,316.2 317.8,314.8 317.4,309.8 317.7,306.0 318.0,305.0 318.5,304.5 319.0,305.2 319.2,306.5 319.5,311.0 319.2,315.0 318.9,316.2 318.5,316.9 M318.5,319.9 318.0,319.5 317.5,317.5 317.0,309.2 317.1,306.5 317.4,304.2 318.0,302.5 318.5,302.0 319.1,302.8 319.6,304.8 320.0,311.2 319.9,314.2 319.5,317.5 319.0,319.3 318.5,319.9 M318.8,322.3 318.2,322.4 317.9,322.0 317.2,319.8 316.5,309.2 316.6,306.0 317.1,302.8 317.8,300.3 318.0,299.8 318.5,299.4 318.9,299.8 319.2,300.4 319.9,303.0 320.5,311.2 320.4,314.5 319.9,319.0 319.4,321.0 318.8,322.3 M318.5,325.4 318.0,325.3 317.5,324.3 316.7,320.8 316.0,308.5 316.3,304.2 317.0,299.5 317.8,297.1 318.0,296.7 318.5,296.5 319.0,296.8 319.5,297.9 320.3,301.5 320.7,305.0 321.0,312.0 320.7,317.0 320.2,320.8 319.2,324.2 318.5,325.4 M356.2,291.3 355.2,291.1 354.5,290.5 354.4,289.8 355.0,289.1 356.2,288.8 357.0,289.1 357.4,289.5 357.6,290.0 357.5,290.6 357.0,291.0 356.2,291.3 M318.8,329.0 318.5,329.2 318.0,329.0 317.4,328.0 316.4,323.2 315.9,319.2 315.6,308.8 315.8,304.2 316.7,297.2 317.5,294.5 318.0,293.8 318.5,293.6 319.0,293.9 319.6,295.0 320.6,299.2 321.1,303.8 321.5,312.0 321.2,317.5 320.7,321.5 319.5,327.4 318.8,329.0 M343.2,296.6 342.2,296.5 341.4,295.8 341.5,294.8 342.2,294.1 343.5,294.1 344.2,294.9 344.3,295.5 344.1,296.0 343.2,296.6 M356.5,292.8 355.2,292.9 354.0,292.7 352.9,292.2 352.0,291.6 351.6,291.0 351.5,290.2 351.8,289.5 352.4,288.8 353.8,287.8 355.2,287.5 357.0,287.8 358.2,288.6 359.0,289.8 358.9,291.0 358.0,292.1 356.5,292.8 M318.8,332.2 318.0,331.9 317.2,330.7 316.6,329.0 316.2,327.0 315.4,320.0 315.1,308.5 315.3,304.2 316.2,295.8 317.2,292.3 317.8,291.5 318.5,291.1 319.2,291.5 319.8,292.5 320.9,296.5 321.6,302.5 322.0,312.5 321.6,319.5 320.4,327.8 319.7,330.8 319.2,331.7 318.8,332.2 M344.2,298.0 342.8,298.2 341.5,297.8 340.3,297.0 339.6,296.0 339.4,294.8 339.7,293.8 340.3,292.8 341.5,292.0 343.0,291.6 344.8,291.7 346.2,292.2 346.8,293.0 346.9,294.5 346.4,296.2 345.5,297.4 344.2,298.0 M330.2,323.3 329.8,323.3 329.1,323.0 328.6,322.0 328.7,321.2 329.0,320.8 330.0,320.2 331.0,320.6 331.5,321.5 331.4,322.2 331.1,322.8 330.2,323.3 M370.2,348.3 369.5,348.3 369.0,347.8 369.0,347.2 369.5,346.8 370.2,346.7 370.9,347.2 370.8,348.0 370.2,348.3 M344.0,299.8 342.0,299.6 340.2,299.0 338.6,297.8 337.6,296.2 337.2,294.8 337.5,293.2 338.5,291.6 340.0,290.3 342.2,289.4 348.0,288.7 352.5,286.5 354.5,286.0 356.0,286.2 357.8,286.9 359.2,288.0 360.1,289.0 360.7,290.5 360.5,291.8 359.8,293.0 358.5,294.0 357.0,294.8 355.8,295.1 352.2,295.1 351.0,295.4 350.0,296.0 348.3,297.8 347.0,298.8 345.5,299.5 344.0,299.8 M319.0,335.6 318.2,335.6 317.5,334.4 316.2,330.5 315.6,328.0 314.9,320.2 314.6,308.8 315.2,297.8 315.6,294.8 316.2,292.5 317.0,290.4 317.8,289.1 318.5,288.7 319.2,289.0 320.1,290.2 320.9,292.5 321.4,295.0 322.1,301.8 322.5,313.0 322.2,320.0 320.9,329.5 320.0,333.8 319.5,335.1 319.0,335.6 M330.8,324.6 329.5,324.6 328.2,324.1 327.5,323.2 327.2,322.0 327.3,320.8 327.9,319.5 328.8,318.7 330.0,318.2 331.0,318.3 332.0,318.9 332.6,319.8 333.0,321.0 332.9,322.2 332.5,323.2 331.8,324.1 330.8,324.6 M370.0,349.3 369.2,349.2 368.5,348.8 368.2,348.2 368.0,347.5 368.2,346.8 368.7,346.2 370.0,345.8 371.3,346.2 371.8,346.8 372.0,347.5 371.7,348.2 371.3,348.8 370.0,349.3 M353.2,347.9 352.6,347.8 352.7,347.2 353.3,347.2 353.5,347.5 353.2,347.9 M346.0,301.3 344.5,301.5 342.8,301.4 339.5,300.6 337.2,299.2 335.1,296.8 334.4,295.0 334.6,293.2 335.8,291.5 338.5,289.0 340.0,287.9 341.2,287.4 347.5,286.4 352.5,284.8 354.2,284.5 356.0,284.7 357.8,285.4 360.0,287.0 361.6,288.5 362.5,290.2 362.7,291.2 362.5,292.2 361.5,294.3 359.2,296.6 358.0,297.5 356.8,298.1 352.2,299.0 346.0,301.3 M319.2,338.3 318.8,338.5 318.2,338.4 317.8,338.0 317.2,337.2 316.7,335.5 315.1,328.5 314.4,320.5 314.1,308.8 314.5,297.2 314.9,294.5 315.6,291.5 316.9,288.0 317.8,286.4 318.5,285.9 319.0,286.0 319.5,286.5 320.4,288.0 321.3,290.8 322.1,294.2 322.8,301.2 323.2,313.8 322.9,320.8 321.1,333.5 320.4,336.5 319.8,337.7 319.2,338.3 M330.8,326.0 329.0,326.0 327.5,325.2 326.2,323.8 325.7,322.0 325.9,320.0 326.8,318.2 328.2,316.8 330.0,316.2 331.5,316.4 333.0,317.4 334.0,318.8 334.5,320.5 334.3,322.2 333.6,324.0 332.2,325.4 330.8,326.0 M370.8,350.1 369.8,350.2 368.8,350.0 367.8,349.3 367.2,348.5 367.0,347.5 367.3,346.5 367.8,345.8 368.8,345.2 370.0,344.9 371.2,345.1 372.2,345.7 372.8,346.5 372.9,347.5 372.6,348.5 371.8,349.5 370.8,350.1 M353.5,348.8 352.5,348.7 351.7,348.0 351.6,347.2 352.2,346.5 353.5,346.4 354.3,347.0 354.5,348.0 354.1,348.5 353.5,348.8 M347.2,303.3 344.5,303.5 340.0,302.8 337.5,302.1 335.5,300.9 331.9,297.8 330.8,296.5 330.2,295.5 330.0,294.5 330.0,293.5 331.1,291.2 332.4,290.0 336.0,288.2 339.0,285.5 340.2,284.8 341.8,284.5 347.2,284.3 353.5,282.7 355.8,282.8 357.8,283.6 362.5,287.0 364.0,288.2 364.7,289.2 365.0,290.2 365.0,291.5 364.7,293.0 364.1,294.5 363.2,296.0 360.5,299.0 358.8,300.3 357.0,301.0 347.2,303.3 M319.0,340.6 318.2,340.7 317.8,340.4 317.1,339.8 316.6,338.8 316.1,336.8 314.6,329.0 313.9,320.8 313.6,308.5 313.9,302.2 313.8,297.0 314.1,294.5 316.8,284.9 317.5,283.4 318.0,282.9 318.5,282.8 319.0,282.9 319.8,283.7 320.8,285.8 321.9,289.0 323.1,294.2 323.6,300.8 323.6,308.5 324.1,313.8 324.5,315.9 324.8,316.3 325.2,316.3 328.0,314.7 329.5,314.2 330.5,314.1 331.8,314.5 333.5,315.5 334.8,317.0 335.7,318.8 336.0,320.5 335.6,322.8 334.7,324.8 333.2,326.4 331.5,327.3 330.0,327.5 328.2,327.2 326.5,326.3 324.5,324.6 324.0,324.5 323.8,324.6 323.2,325.6 322.8,327.5 321.1,337.2 320.2,339.4 319.8,340.0 319.0,340.6 M370.0,310.1 370.0,309.8 370.0,310.1 M370.5,351.0 369.0,351.0 367.8,350.5 366.6,349.2 366.1,348.0 366.2,346.8 366.8,345.5 368.0,344.5 369.5,344.0 371.0,344.0 372.5,344.6 373.5,345.5 373.9,346.8 373.8,348.0 373.0,349.5 371.8,350.6 370.5,351.0 M354.2,349.6 353.5,349.7 352.5,349.6 351.1,348.8 350.6,347.5 350.7,346.8 351.2,346.1 352.2,345.6 353.2,345.5 354.2,345.8 355.1,346.5 355.5,347.2 355.5,348.2 355.1,349.0 354.2,349.6 M319.0,342.6 318.0,342.6 317.1,342.0 316.3,340.8 315.7,339.0 313.8,327.8 313.3,320.0 313.3,314.0 313.1,308.2 313.3,302.2 313.1,295.8 315.9,283.2 316.8,280.7 317.5,279.3 318.0,278.9 318.5,278.7 319.0,279.0 319.8,280.1 321.9,284.8 324.0,291.5 324.8,292.8 325.2,293.1 326.0,292.8 326.8,291.9 329.0,287.9 330.0,286.7 331.2,286.1 334.0,285.8 335.0,285.4 336.0,284.6 338.5,282.1 339.5,281.5 340.5,281.2 341.8,281.2 346.2,281.8 348.0,281.6 353.0,280.7 354.8,280.7 356.5,280.9 359.0,281.8 362.5,284.2 365.8,285.8 367.0,286.5 367.9,287.8 368.3,289.2 368.1,290.8 366.9,295.0 366.2,296.8 362.9,302.8 362.2,303.5 361.5,303.8 351.0,305.1 346.2,306.1 344.2,306.1 337.0,304.4 330.4,302.2 328.5,301.4 326.5,299.7 326.0,299.6 325.8,299.8 324.8,303.9 324.4,306.5 324.6,309.2 325.2,311.9 325.8,312.4 326.2,312.5 328.8,311.7 330.2,311.7 332.0,312.4 333.8,313.5 335.6,315.2 336.9,317.2 337.5,319.2 337.5,321.2 336.8,323.5 335.6,325.8 334.3,327.2 332.8,328.2 331.2,328.8 329.8,328.9 328.0,328.7 325.0,327.5 324.5,327.5 324.0,327.9 323.2,329.8 322.1,336.5 321.5,339.0 320.2,341.5 319.0,342.6 M370.5,314.6 369.5,314.6 368.5,313.9 366.8,310.3 364.9,307.5 364.5,306.5 364.4,305.8 364.6,305.2 365.1,304.8 367.2,304.2 369.5,304.2 371.0,304.9 372.0,306.1 372.5,307.2 372.8,308.8 372.8,311.8 372.0,313.6 371.2,314.2 370.5,314.6 M370.0,352.0 368.0,351.6 366.4,350.5 365.3,348.8 365.2,347.0 365.9,345.2 367.2,343.9 369.2,343.1 371.2,343.1 373.0,343.6 374.1,344.5 374.8,345.8 375.0,347.2 374.4,349.0 373.2,350.5 371.8,351.5 370.0,352.0 M354.5,350.6 353.2,350.7 352.0,350.4 351.0,349.9 350.1,349.0 349.6,348.0 349.6,347.0 350.0,346.0 350.8,345.3 352.0,344.8 353.5,344.7 355.0,345.2 356.1,346.2 356.6,347.5 356.5,348.8 355.8,349.9 354.5,350.6 M319.0,344.6 318.5,344.7 317.8,344.6 316.5,343.3 315.4,341.2 314.8,338.5 314.2,333.6 313.0,325.8 312.7,320.0 312.8,314.0 312.5,308.5 312.7,302.5 311.9,296.5 312.2,294.2 313.8,288.8 315.6,278.8 316.5,276.2 317.5,274.6 318.0,274.3 318.8,274.1 319.5,274.4 320.0,275.0 320.7,276.2 321.8,280.1 322.5,282.0 323.8,284.0 324.8,284.6 325.8,284.5 329.5,282.4 333.8,281.3 334.8,280.7 336.6,278.8 337.8,278.1 340.5,277.5 343.2,277.3 348.2,278.6 355.0,278.3 358.5,278.7 361.0,279.2 362.5,279.9 365.3,281.8 369.5,283.8 375.8,288.2 376.7,289.5 377.2,291.0 377.4,295.8 376.8,298.0 375.1,300.2 374.6,301.2 374.8,302.8 375.9,306.0 376.0,307.5 374.9,314.8 374.0,317.0 373.0,318.5 371.2,319.6 368.5,320.4 366.5,320.3 365.0,319.6 364.3,318.8 364.0,317.8 364.1,316.5 364.7,313.8 364.4,312.0 363.8,311.0 362.8,310.0 361.5,309.2 360.2,308.8 358.8,308.5 355.2,308.7 352.0,308.3 350.5,308.4 348.1,309.0 344.5,310.8 343.0,311.0 341.5,310.5 339.3,308.5 337.9,307.8 335.8,307.3 334.0,307.5 333.2,308.2 333.1,308.8 333.4,309.5 334.1,310.5 337.4,314.0 338.3,315.5 339.0,317.2 339.4,320.0 338.7,322.8 337.6,325.2 336.4,327.0 335.2,328.2 333.8,329.2 332.2,329.9 330.5,330.3 328.8,330.3 325.5,329.7 324.5,330.2 323.8,331.8 322.5,338.2 321.7,340.8 320.4,343.2 319.8,344.1 319.0,344.6 M368.5,352.8 366.5,351.8 365.0,350.2 364.2,348.5 364.2,346.8 364.9,345.0 366.2,343.4 368.2,342.4 370.5,342.0 372.5,342.3 374.2,343.1 375.5,344.5 376.0,346.2 375.8,348.0 374.7,350.0 373.0,351.7 371.0,352.8 M354.5,351.5 353.0,351.5 351.5,351.1 350.1,350.2 349.1,349.2 348.5,348.0 348.5,346.8 349.1,345.5 350.0,344.6 352.0,343.8 354.0,343.9 355.8,344.6 357.1,346.0 357.7,347.8 357.4,349.5 356.2,350.8 354.5,351.5"/><path fill="none" stroke="#444" stroke-width="0.5" d="M340.0,345.8 326.2,346.0 317.8,345.9 314.8,345.5 314.0,345.2 313.6,344.8 314.2,344.1 316.0,343.8 325.8,343.6 340.2,343.8 342.0,344.1 342.8,344.5 342.9,344.8 342.8,345.0 342.2,345.4 340.0,345.8 M336.8,346.3 325.2,346.4 316.8,346.2 313.8,345.7 312.9,345.2 312.6,344.8 312.9,344.2 313.5,343.9 315.5,343.4 325.5,343.2 340.2,343.4 342.8,343.8 343.6,344.2 343.9,344.8 343.5,345.4 342.0,345.9 336.8,346.3 M331.8,346.8 324.5,346.9 316.2,346.6 314.5,346.4 312.8,345.9 311.8,345.2 311.5,344.8 311.7,344.2 312.3,343.8 314.5,343.1 317.5,342.8 325.2,342.7 341.2,343.0 344.0,343.7 344.8,344.2 345.0,344.8 344.8,345.2 344.2,345.7 342.0,346.4 338.8,346.7 331.8,346.8 M310.5,344.2 311.3,343.5 312.8,342.9 316.5,342.4 325.0,342.2 338.0,342.4 341.8,342.6 344.0,343.1 345.5,343.8 346.0,344.2 346.1,344.8 345.8,345.5 345.0,346.0 343.5,346.6 342.0,346.9 338.0,347.2 326.5,347.4 318.5,347.2 315.0,346.9 312.0,346.2 311.1,345.8 310.5,345.2"/></g>
<path d="M314.50,275.40 L386.40,275.40 L386.40,348.80" stroke="#666" stroke-width="0.6" fill="none"/>
<path d="M368.30,275.40 L368.30,290.00 L352.80,311.00 L314.50,311.00" stroke="#666" stroke-width="0.6" fill="none"/>
<path d="M345.50,311.00 L345.50,348.80" stroke="#666" stroke-width="0.6" fill="none"/>
<rect x="314.5" y="263" width="87.39999999999998" height="85.80000000000001" fill="none" stroke="#9a9a9a" stroke-width="1.0"/>
<text x="311.50" y="265.70" font-size="5.9" text-anchor="end" fill="#222">10000</text>
<line x1="312.90" y1="263.00" x2="314.50" y2="263.00" stroke="#777" stroke-width="0.5"/>
<text x="311.50" y="287.15" font-size="5.9" text-anchor="end" fill="#222">1000</text>
<line x1="312.90" y1="284.45" x2="314.50" y2="284.45" stroke="#777" stroke-width="0.5"/>
<text x="311.50" y="308.60" font-size="5.9" text-anchor="end" fill="#222">100</text>
<line x1="312.90" y1="305.90" x2="314.50" y2="305.90" stroke="#777" stroke-width="0.5"/>
<text x="311.50" y="330.05" font-size="5.9" text-anchor="end" fill="#222">10</text>
<line x1="312.90" y1="327.35" x2="314.50" y2="327.35" stroke="#777" stroke-width="0.5"/>
<text x="311.50" y="351.50" font-size="5.9" text-anchor="end" fill="#222">1</text>
<line x1="312.90" y1="348.80" x2="314.50" y2="348.80" stroke="#777" stroke-width="0.5"/>
<path d="M314.50,342.34h1.2M321.08,348.80v-1.2M314.50,338.57h1.2M324.93,348.80v-1.2M314.50,335.89h1.2M327.66,348.80v-1.2M314.50,333.81h1.2M329.77,348.80v-1.2M314.50,332.11h1.2M331.50,348.80v-1.2M314.50,330.67h1.2M332.97,348.80v-1.2M314.50,329.43h1.2M334.23,348.80v-1.2M314.50,328.33h1.2M335.35,348.80v-1.2M314.50,320.89h1.2M342.93,348.80v-1.2M314.50,317.12h1.2M346.78,348.80v-1.2M314.50,314.44h1.2M349.51,348.80v-1.2M314.50,312.36h1.2M351.62,348.80v-1.2M314.50,310.66h1.2M353.35,348.80v-1.2M314.50,309.22h1.2M354.82,348.80v-1.2M314.50,307.98h1.2M356.08,348.80v-1.2M314.50,306.88h1.2M357.20,348.80v-1.2M314.50,299.44h1.2M364.78,348.80v-1.2M314.50,295.67h1.2M368.63,348.80v-1.2M314.50,292.99h1.2M371.36,348.80v-1.2M314.50,290.91h1.2M373.47,348.80v-1.2M314.50,289.21h1.2M375.20,348.80v-1.2M314.50,287.77h1.2M376.67,348.80v-1.2M314.50,286.53h1.2M377.93,348.80v-1.2M314.50,285.43h1.2M379.05,348.80v-1.2M314.50,277.99h1.2M386.63,348.80v-1.2M314.50,274.22h1.2M390.48,348.80v-1.2M314.50,271.54h1.2M393.21,348.80v-1.2M314.50,269.46h1.2M395.32,348.80v-1.2M314.50,267.76h1.2M397.05,348.80v-1.2M314.50,266.32h1.2M398.52,348.80v-1.2M314.50,265.08h1.2M399.78,348.80v-1.2M314.50,263.98h1.2M400.90,348.80v-1.2" stroke="#888" stroke-width="0.45" fill="none"/>
<text x="314.50" y="357.40" font-size="5.9" text-anchor="middle" fill="#222">1</text>
<line x1="314.50" y1="348.80" x2="314.50" y2="350.40" stroke="#777" stroke-width="0.5"/>
<text x="336.35" y="357.40" font-size="5.9" text-anchor="middle" fill="#222">10</text>
<line x1="336.35" y1="348.80" x2="336.35" y2="350.40" stroke="#777" stroke-width="0.5"/>
<text x="358.20" y="357.40" font-size="5.9" text-anchor="middle" fill="#222">100</text>
<line x1="358.20" y1="348.80" x2="358.20" y2="350.40" stroke="#777" stroke-width="0.5"/>
<text x="380.05" y="357.40" font-size="5.9" text-anchor="middle" fill="#222">1000</text>
<line x1="380.05" y1="348.80" x2="380.05" y2="350.40" stroke="#777" stroke-width="0.5"/>
<text x="401.90" y="357.40" font-size="5.9" text-anchor="middle" fill="#222">10000</text>
<line x1="401.90" y1="348.80" x2="401.90" y2="350.40" stroke="#777" stroke-width="0.5"/>
<text x="319.30" y="283.48" font-size="10.5" text-anchor="start" fill="#111" stroke="#111" stroke-width="0.15">28</text>
<text x="319.90" y="340.68" font-size="10.5" text-anchor="start" fill="#111" stroke="#111" stroke-width="0.15">66</text>
<text x="369.50" y="340.58" font-size="10.5" text-anchor="start" fill="#111" stroke="#111" stroke-width="0.15">5.9</text>
<g clip-path="url(#civWT)"><path d="M427.2,137.3 426.5,137.2 425.9,136.6 426.0,135.8 426.5,135.4 427.0,135.3 427.5,135.5 428.0,136.1 427.9,136.8 427.2,137.3Z M483.5,137.1 482.0,137.2 480.8,137.0 480.0,136.8 479.7,136.6 479.7,136.3 480.7,135.8 482.5,135.6 484.4,135.8 485.0,136.1 485.2,136.3 485.1,136.6 484.6,136.8 483.5,137.1Z" fill="#151515" stroke="none"/><path d="M489.5,99.2 489.1,97.5 489.0,94.3 489.1,90.8 489.2,90.0 489.5,89.5 489.8,90.8 490.0,94.0 489.9,97.5 489.5,99.2Z" fill="#222" stroke="none"/><path fill="none" stroke="#242424" stroke-width="0.55" d="M481.0,96.4 480.7,96.3 480.5,95.5 480.8,95.0 481.2,94.7 481.5,95.0 481.5,95.5 481.0,96.4 M481.0,97.4 480.5,97.4 480.2,97.0 479.9,95.8 480.5,94.3 481.0,93.9 481.5,93.8 482.0,94.4 482.1,95.5 481.8,96.7 481.0,97.4 M480.8,98.3 480.0,98.1 479.6,97.5 479.3,95.8 479.6,94.8 480.1,93.8 480.8,93.1 481.5,92.9 482.0,93.0 482.5,93.8 482.7,95.8 482.0,97.5 481.5,98.0 480.8,98.3 M481.2,99.1 480.2,99.2 479.3,98.5 478.8,97.5 478.7,96.0 479.1,94.5 479.8,93.2 480.8,92.2 481.8,91.9 482.5,92.2 483.0,93.0 483.3,94.0 483.3,95.3 483.1,96.5 482.6,97.8 482.0,98.6 481.2,99.1 M489.5,95.3 489.5,94.6 489.5,95.3 M482.2,136.1 481.4,136.1 482.0,135.9 482.4,136.1 482.2,136.1 M481.0,100.1 479.8,100.0 478.8,99.3 478.2,97.8 478.1,96.0 478.6,94.0 479.5,92.5 480.8,91.2 482.0,90.9 482.8,91.1 483.5,92.1 483.9,93.5 483.9,95.5 483.6,97.0 482.9,98.5 482.0,99.6 481.0,100.1 M489.5,96.2 489.3,94.8 489.5,93.6 489.7,95.0 489.5,96.2 M481.8,136.6 480.8,136.4 480.2,136.1 480.8,135.7 481.8,135.5 482.8,135.7 483.2,136.1 482.8,136.4 481.8,136.6 M480.8,101.1 480.0,101.1 479.2,100.9 478.2,99.8 477.6,98.0 477.6,95.8 478.2,93.5 479.5,91.4 481.0,90.0 481.8,89.7 482.5,89.7 483.5,90.3 484.2,91.5 484.5,93.5 484.4,96.0 484.0,97.8 483.2,99.3 482.0,100.5 480.8,101.1 M489.5,97.1 489.2,96.3 489.1,94.8 489.2,93.0 489.5,92.5 489.8,93.3 489.9,94.8 489.8,96.3 489.5,97.1 M482.5,136.8 480.2,136.8 479.2,136.5 478.8,136.1 479.8,135.5 481.5,135.2 483.2,135.5 484.0,135.8 484.1,136.1 483.5,136.6 482.5,136.8 M480.8,102.1 479.8,102.2 479.0,102.0 477.7,100.8 477.2,99.8 476.9,98.5 476.9,96.0 477.7,93.3 479.2,90.5 481.0,88.9 482.0,88.5 482.8,88.5 484.0,89.1 484.8,90.5 485.1,93.0 485.0,96.0 484.4,98.3 483.5,100.0 482.2,101.3 480.8,102.1 M489.5,98.0 489.0,97.0 488.9,94.5 489.0,92.3 489.2,91.5 489.5,91.3 490.0,92.5 490.1,94.8 489.9,97.0 489.5,98.0 M483.0,137.1 481.5,137.3 479.8,137.2 478.2,136.7 477.4,136.1 477.8,135.7 478.8,135.3 481.0,134.9 483.5,135.2 485.0,135.8 485.1,136.1 484.6,136.6 483.0,137.1 M427.0,136.3 426.7,136.1 427.0,135.7 427.3,136.1 427.0,136.3 M446.2,136.7 445.8,136.7 445.6,136.3 446.2,136.1 446.5,136.3 446.2,136.7 M459.5,79.6 458.3,79.5 458.0,79.3 458.0,79.0 458.2,78.7 459.0,78.4 459.8,78.3 460.4,78.5 460.5,79.0 459.5,79.6 M479.8,103.3 478.8,103.1 478.0,102.7 477.2,101.9 476.6,100.8 476.1,98.3 476.3,95.5 477.4,92.3 479.2,89.3 481.0,87.7 482.0,87.3 483.0,87.2 483.8,87.5 484.6,88.0 485.1,88.8 485.6,90.0 485.8,92.8 485.4,96.8 484.6,99.3 483.2,101.4 481.5,102.8 479.8,103.3 M489.5,99.0 489.2,98.8 488.9,97.5 488.6,94.3 488.9,91.3 489.2,90.3 489.5,90.1 490.1,91.5 490.3,94.5 490.1,97.5 489.8,98.7 489.5,99.0 M482.2,137.6 480.5,137.6 478.8,137.4 477.0,136.8 475.9,136.1 476.2,135.7 478.2,135.0 481.0,134.6 484.0,134.9 485.3,135.3 486.1,135.8 486.2,136.1 486.0,136.3 485.2,136.8 482.2,137.6 M427.2,136.6 426.8,136.5 426.5,136.3 426.5,135.8 426.8,135.5 427.2,135.5 427.7,135.8 427.6,136.3 427.2,136.6 M446.5,137.1 445.4,137.1 444.9,136.6 444.8,136.1 446.0,135.6 447.3,136.1 447.0,136.8 446.5,137.1 M459.5,80.6 458.0,80.5 457.0,80.2 456.5,79.5 456.6,78.8 457.1,78.3 458.0,77.8 460.0,77.4 462.1,77.5 462.8,77.8 463.3,78.3 463.2,79.0 462.5,79.7 461.2,80.2 459.5,80.6 M480.5,104.3 479.2,104.5 478.2,104.3 477.2,103.6 476.5,102.7 475.9,101.5 475.5,100.0 475.3,98.5 475.4,96.8 475.8,94.8 476.6,92.5 478.8,88.6 479.8,87.4 480.8,86.6 481.8,86.1 483.0,86.1 484.0,86.3 485.0,87.0 485.7,87.8 486.2,88.8 486.5,91.3 486.2,95.5 485.4,98.8 484.2,101.3 482.5,103.2 480.5,104.3 M489.5,100.0 489.1,99.5 488.8,98.5 488.4,94.5 488.6,90.5 488.8,89.5 489.2,88.9 489.8,89.2 490.0,90.0 490.5,93.5 490.2,98.0 489.9,99.3 489.5,100.0 M482.8,137.8 480.5,138.0 478.2,137.7 476.2,137.1 474.2,136.1 474.8,135.7 477.8,134.7 481.2,134.3 483.2,134.5 485.2,134.8 487.1,135.6 487.6,136.1 487.0,136.5 485.5,137.2 482.8,137.8 M427.2,136.9 426.5,136.7 426.2,136.3 426.3,135.6 426.8,135.2 427.5,135.3 428.2,136.1 427.8,136.6 427.2,136.9 M446.5,137.6 445.8,137.6 445.0,137.3 444.4,136.8 444.0,136.1 444.8,135.5 446.0,135.3 447.5,135.5 448.4,136.1 447.6,137.1 446.5,137.6 M459.0,81.6 456.8,81.3 455.3,80.5 454.8,79.5 455.4,78.3 456.2,77.6 457.5,77.0 461.0,76.4 462.8,76.4 464.2,76.7 465.2,77.1 466.0,77.8 466.2,78.3 466.1,79.0 465.6,79.8 464.8,80.3 462.2,81.2 459.0,81.6 M447.0,82.2 446.7,82.0 446.8,81.8 447.2,81.8 447.2,82.0 447.0,82.2 M479.5,105.8 478.2,105.7 477.2,105.2 476.2,104.2 475.4,102.8 474.8,101.3 474.5,99.8 474.7,96.5 476.1,92.0 477.3,89.3 478.5,87.3 479.5,86.2 480.8,85.3 482.0,84.9 483.2,84.9 484.8,85.5 486.0,86.5 486.8,87.8 487.8,90.0 488.9,87.8 489.2,87.6 489.8,88.0 490.3,89.8 490.6,92.5 490.6,96.0 490.3,99.0 489.8,100.8 489.5,101.0 489.2,100.9 488.6,99.0 487.8,92.4 487.5,92.2 486.1,98.3 484.6,101.8 483.5,103.3 482.2,104.5 480.8,105.4 479.5,105.8 M481.5,138.3 479.5,138.3 477.5,138.0 471.5,136.1 471.8,135.9 477.5,134.4 481.0,134.0 483.5,134.2 485.5,134.5 488.5,135.6 489.0,136.1 488.5,136.4 485.8,137.5 481.5,138.3 M427.5,137.1 426.8,137.1 426.0,136.6 425.9,135.8 426.5,135.0 427.5,135.0 428.6,135.8 428.6,136.3 427.5,137.1 M446.2,138.1 444.8,137.7 442.7,136.1 443.0,135.8 444.5,135.2 446.0,134.9 447.8,135.2 450.0,136.1 447.5,137.7 446.2,138.1 M450.8,136.1 450.4,136.1 450.8,136.1 M462.2,82.3 458.2,82.5 455.2,82.1 454.2,81.7 453.4,81.0 453.0,80.3 453.1,79.3 453.9,78.0 455.1,77.0 456.8,76.3 459.0,75.7 462.0,75.4 464.2,75.4 466.0,75.9 467.6,76.8 468.3,77.8 468.6,78.8 468.5,80.0 468.1,80.8 466.2,81.6 462.2,82.3 M447.2,83.3 446.0,83.2 445.1,82.3 445.0,81.8 445.2,81.0 445.6,80.5 446.2,80.2 447.0,80.1 447.8,80.3 448.5,80.8 448.8,81.3 448.8,82.0 448.6,82.5 448.0,83.0 447.2,83.3 M472.2,85.1 471.2,84.9 470.5,84.3 470.2,83.5 470.5,82.8 471.0,82.5 471.8,82.5 472.5,82.8 473.0,83.3 473.2,84.3 472.8,84.8 472.2,85.1 M479.8,107.1 478.5,107.2 477.5,106.9 476.4,106.0 475.2,104.6 474.4,103.0 473.8,101.3 473.6,99.5 473.7,97.5 474.9,93.3 476.7,88.5 477.7,86.5 478.8,85.3 480.2,84.3 481.8,83.8 483.2,83.8 484.5,84.2 485.5,84.7 487.8,86.8 489.2,86.2 489.9,87.0 490.5,89.3 490.8,92.3 490.8,95.5 490.5,99.0 490.0,101.4 489.8,101.8 489.2,101.9 488.6,100.8 487.8,97.3 487.5,96.9 487.2,97.2 485.4,101.5 484.0,103.8 482.0,105.9 479.8,107.1 M482.5,138.6 480.0,138.7 477.8,138.5 472.5,136.8 468.5,136.1 468.8,135.9 472.8,135.2 477.8,134.0 480.8,133.7 483.8,133.9 486.0,134.2 488.8,135.1 490.0,135.7 490.3,136.1 489.2,136.7 487.2,137.5 482.5,138.6 M427.5,137.4 426.5,137.3 425.7,136.6 425.6,135.6 426.5,134.7 427.5,134.7 430.0,136.1 427.5,137.4 M447.2,138.3 446.2,138.5 445.2,138.4 444.2,138.0 442.2,136.6 440.8,136.1 440.0,136.2 439.7,136.1 440.0,135.9 440.8,136.0 444.8,134.7 446.0,134.6 447.2,134.7 451.2,135.6 453.9,135.8 454.3,136.1 450.2,136.7 447.2,138.3 M431.0,136.1 430.8,136.1 431.2,136.1 431.0,136.1 M432.8,136.1 432.3,136.1 432.8,136.1 M434.2,136.1 433.7,136.1 434.0,135.9 434.5,136.1 434.2,136.1 M436.0,136.1 435.5,136.2 435.1,136.1 435.5,135.8 436.0,136.1 M437.5,136.1 437.0,136.2 436.5,136.1 437.0,135.8 437.5,136.1 M438.8,136.2 438.2,136.1 438.8,135.9 439.0,136.1 438.8,136.2 M455.5,136.1 454.8,136.1 455.2,135.9 455.5,136.1 M456.8,136.2 456.4,136.1 456.8,135.9 457.0,136.1 456.8,136.2 M458.2,136.1 458.0,136.1 458.5,136.1 458.2,136.1 M459.8,136.1 459.6,136.1 459.9,136.1 459.8,136.1 M479.5,108.6 478.5,108.8 477.5,108.6 476.6,108.0 475.8,107.3 473.9,104.3 472.9,101.3 472.7,99.5 472.9,97.5 473.4,95.3 475.3,89.3 475.6,87.0 475.3,86.0 472.8,86.4 471.2,86.2 469.9,85.5 467.5,83.8 465.5,83.3 457.2,83.6 451.8,83.2 448.2,84.4 446.2,84.4 444.8,83.7 443.9,82.5 443.8,81.0 444.5,79.6 445.5,78.8 446.5,78.5 449.8,78.9 450.5,78.8 454.2,76.3 457.0,75.2 461.5,74.5 465.0,74.5 467.2,75.1 469.2,76.3 470.0,77.3 471.6,80.0 474.3,82.5 475.8,84.9 476.5,84.9 480.2,83.0 482.5,82.6 483.8,82.7 485.0,83.1 487.8,84.9 489.0,84.8 489.5,85.0 490.0,85.8 490.6,87.8 491.0,92.5 490.8,98.3 490.6,100.5 490.1,102.3 489.5,102.9 489.0,102.7 487.8,99.6 487.5,99.4 487.2,99.4 485.2,103.3 483.8,105.3 481.5,107.5 479.5,108.6 M483.0,138.8 480.5,139.0 478.0,138.9 476.0,138.5 471.6,137.1 465.0,136.1 452.0,136.8 450.2,137.3 447.8,138.7 446.0,138.9 444.5,138.6 442.2,137.2 440.8,136.7 430.5,136.5 429.3,136.8 427.8,137.6 427.0,137.7 426.2,137.5 425.8,137.2 425.3,136.1 425.6,135.1 426.8,134.4 427.8,134.5 429.8,135.4 431.8,135.6 440.8,135.4 444.5,134.4 446.0,134.2 447.5,134.3 451.8,135.3 464.2,135.8 465.0,136.0 465.8,135.7 472.0,135.0 477.5,133.6 480.5,133.4 484.2,133.6 486.5,133.9 489.2,134.8 490.7,135.8 490.8,136.2 490.4,136.6 488.8,137.4 486.2,138.1 483.0,138.8 M479.2,110.1 478.2,110.2 477.2,110.1 476.2,109.7 475.2,108.9 473.7,106.8 472.4,103.5 471.9,101.0 471.8,98.8 472.3,95.8 473.9,90.5 473.8,89.0 473.3,88.3 470.0,86.9 466.8,85.2 464.5,84.7 456.8,84.7 450.0,85.8 447.5,85.7 445.5,85.3 443.8,84.3 443.1,83.5 442.7,82.5 442.8,80.5 443.8,78.5 444.5,77.9 445.5,77.4 446.8,77.2 450.2,77.0 454.2,75.2 456.8,74.4 461.5,73.6 465.2,73.5 467.8,74.1 470.1,75.3 471.4,76.5 473.8,79.9 475.2,81.2 476.5,81.9 478.0,82.1 481.2,81.4 483.2,81.4 485.0,81.8 487.5,83.1 489.0,83.3 489.5,83.5 490.0,84.3 490.6,86.0 491.2,91.5 491.1,98.0 490.7,101.0 490.2,102.9 489.8,103.7 489.2,103.9 488.7,103.3 487.8,101.4 487.2,101.3 485.0,104.8 483.5,106.8 481.0,109.1 479.2,110.1 M481.8,139.3 479.8,139.4 477.5,139.2 475.5,138.7 471.0,137.3 468.0,136.8 465.0,136.6 452.5,137.1 450.8,137.6 448.0,139.1 446.0,139.4 444.2,139.0 441.3,137.3 439.5,137.0 430.8,136.9 429.5,137.1 427.8,137.9 426.8,138.0 425.5,137.3 425.1,136.6 425.0,135.8 425.3,135.1 425.7,134.6 427.0,134.1 427.8,134.2 429.6,135.1 431.0,135.2 440.2,135.1 442.0,134.8 444.8,134.0 446.2,133.8 452.8,135.1 465.0,135.4 470.8,134.8 477.0,133.4 480.5,133.1 484.2,133.3 487.2,133.7 490.0,134.7 490.9,135.3 491.3,135.8 491.3,136.3 490.9,136.8 489.2,137.7 485.8,138.6 481.8,139.3 M470.2,113.9 469.8,113.8 469.5,113.3 469.3,111.5 469.8,109.6 470.7,107.8 471.0,106.8 470.9,98.8 471.3,96.0 472.4,91.5 472.4,90.5 472.1,89.8 471.0,88.8 467.8,87.1 465.8,86.3 464.0,85.9 460.0,85.7 457.0,85.8 455.0,86.2 452.0,87.3 450.5,87.5 448.2,87.2 444.5,86.0 443.2,85.3 442.4,84.5 441.8,83.5 441.6,82.3 441.6,80.8 442.1,79.3 442.8,78.0 443.8,77.0 444.8,76.5 445.8,76.2 450.2,75.8 454.2,74.2 457.2,73.3 462.5,72.6 465.8,72.5 468.5,73.2 471.0,74.5 472.5,75.8 475.0,78.7 476.8,79.9 478.5,80.3 482.2,79.9 484.0,80.1 487.5,81.6 489.2,81.9 489.9,82.5 490.5,83.8 490.9,85.8 491.4,89.5 491.5,92.8 491.1,100.3 490.6,102.8 490.0,104.4 489.5,104.8 489.0,104.7 487.8,103.0 487.2,102.9 484.6,106.5 482.5,109.0 480.8,110.6 479.2,111.3 478.2,111.5 477.0,111.4 473.2,110.1 472.2,110.1 471.8,110.6 470.9,113.0 470.2,113.9 M446.5,139.8 444.5,139.5 441.2,137.8 439.2,137.3 431.0,137.2 429.8,137.4 427.8,138.2 426.5,138.2 425.8,137.9 425.1,137.3 424.8,136.6 424.8,135.6 425.5,134.4 426.8,133.9 427.8,134.0 429.5,134.7 430.8,134.9 438.5,134.9 440.8,134.7 444.5,133.6 446.5,133.4 448.0,133.7 451.3,134.6 453.1,134.8 465.0,135.1 470.0,134.6 477.2,132.9 480.5,132.8 485.0,133.0 488.0,133.5 491.0,134.8 491.6,135.3 491.9,136.1 491.7,136.6 491.2,137.1 489.2,138.1 486.0,138.9 481.5,139.7 479.2,139.7 477.0,139.5 470.4,137.6 467.3,137.1 464.5,136.9 455.8,137.2 452.8,137.5 451.0,138.0 448.5,139.4 446.5,139.8 M470.2,115.8 469.8,115.8 469.2,115.4 468.5,114.0 468.0,112.0 467.9,109.5 468.2,106.8 469.3,103.8 469.7,102.0 470.1,97.0 470.9,92.3 470.8,91.3 470.5,90.5 469.2,89.3 467.4,88.3 465.1,87.5 462.5,87.1 459.2,86.8 457.0,86.9 455.3,87.3 452.0,88.7 450.2,88.9 448.0,88.5 443.0,86.5 441.9,85.8 441.0,84.8 440.5,83.5 440.3,82.0 440.6,80.3 441.2,78.5 442.1,77.0 443.2,76.1 445.2,75.2 450.0,74.7 454.5,73.1 457.5,72.4 463.0,71.6 466.0,71.6 468.8,72.2 471.5,73.4 473.1,74.5 476.0,77.3 477.5,78.2 479.2,78.5 482.5,78.4 484.0,78.6 487.5,80.1 489.2,80.6 490.1,81.3 490.7,82.5 491.1,84.5 491.6,88.8 491.7,92.3 491.3,100.3 490.9,103.0 490.2,105.0 489.8,105.6 489.2,105.8 488.8,105.6 487.8,104.5 487.2,104.4 483.0,109.7 481.0,111.5 479.8,112.2 478.5,112.5 474.8,112.6 473.8,112.7 472.8,113.4 471.0,115.4 470.2,115.8 M481.0,140.1 476.8,139.8 474.8,139.4 469.9,137.8 466.8,137.3 464.2,137.2 456.0,137.5 453.2,137.8 451.5,138.3 448.5,139.9 446.0,140.2 443.8,139.7 440.8,138.0 438.8,137.6 431.0,137.5 429.8,137.7 427.8,138.5 426.5,138.5 425.8,138.2 425.0,137.6 424.5,136.8 424.4,135.8 424.6,135.1 425.1,134.3 426.0,133.8 426.8,133.6 427.8,133.7 429.8,134.5 430.8,134.7 438.2,134.6 440.8,134.4 444.5,133.2 446.5,133.1 448.0,133.3 451.7,134.3 453.6,134.6 464.8,134.8 469.2,134.3 476.8,132.6 479.8,132.4 485.0,132.6 488.0,133.1 491.0,134.3 491.8,134.8 492.3,135.6 492.4,136.3 492.0,137.0 490.2,138.2 487.5,139.0 481.0,140.1 M470.0,118.3 469.2,118.0 468.8,117.5 467.6,115.5 466.9,113.0 466.5,109.5 466.7,106.0 468.2,102.2 468.8,99.8 469.2,93.5 469.1,92.3 468.7,91.3 467.7,90.3 466.2,89.5 460.2,88.0 458.2,87.9 456.8,88.0 452.0,89.8 449.8,90.0 447.2,89.5 441.0,86.9 440.0,86.0 439.2,84.8 439.0,83.3 439.1,81.3 439.6,79.3 440.4,77.5 441.5,76.1 442.8,75.1 444.8,74.4 449.8,73.8 454.5,72.2 457.8,71.4 463.5,70.6 466.2,70.6 469.0,71.2 472.0,72.4 478.0,76.4 479.5,76.8 482.8,76.9 484.5,77.3 489.2,79.4 490.5,80.5 491.1,82.0 491.5,83.8 491.9,88.8 492.0,92.5 491.4,101.5 490.9,104.0 490.2,105.9 489.8,106.6 489.2,106.8 488.8,106.6 487.8,105.8 487.0,105.9 483.2,110.5 481.5,112.2 479.2,113.4 474.5,114.4 473.3,115.3 471.2,117.7 470.5,118.2 470.0,118.3 M447.8,140.6 446.2,140.7 444.5,140.4 443.0,139.8 440.2,138.4 438.2,138.0 431.2,137.8 430.0,138.0 428.0,138.7 426.5,138.8 425.5,138.4 424.6,137.6 424.2,136.6 424.1,135.6 424.4,134.8 425.0,134.1 425.8,133.6 426.8,133.3 427.8,133.4 430.8,134.4 438.0,134.3 440.5,134.1 444.2,132.9 446.5,132.7 448.2,132.9 451.5,133.9 454.0,134.3 464.5,134.5 468.5,134.1 476.0,132.3 479.8,132.1 485.8,132.3 488.8,132.9 491.8,134.2 492.7,135.1 493.0,135.8 492.9,136.6 492.5,137.3 491.5,138.0 490.2,138.6 488.0,139.3 481.5,140.4 479.0,140.4 476.5,140.2 474.2,139.7 469.4,138.1 466.8,137.6 464.2,137.5 456.2,137.8 453.6,138.1 452.0,138.6 449.2,140.1 447.8,140.6 M470.0,121.8 469.2,121.7 468.8,121.4 467.6,119.8 466.0,115.3 465.4,112.0 465.2,108.0 465.3,106.0 465.7,104.5 467.3,101.0 467.8,98.4 467.7,95.0 467.5,93.8 467.0,92.8 466.1,91.8 464.8,91.0 461.6,89.8 459.2,89.1 457.8,89.0 456.5,89.1 452.0,90.7 449.2,91.0 447.2,90.6 441.2,88.7 439.0,87.6 438.0,86.5 437.3,85.0 437.1,83.5 437.3,81.5 438.0,79.3 439.1,77.3 440.5,75.5 442.0,74.4 444.5,73.5 449.8,72.9 457.2,70.6 464.0,69.6 466.5,69.5 468.8,70.0 472.0,71.2 478.8,74.7 483.2,75.5 484.8,76.0 489.5,78.3 490.8,79.8 491.5,81.3 491.9,83.3 492.3,92.5 491.6,101.8 491.1,104.5 490.3,106.8 489.8,107.5 489.2,107.7 487.8,107.0 487.0,107.1 483.5,111.4 481.8,113.0 479.8,114.1 476.2,115.3 475.0,116.0 473.8,117.3 471.5,120.9 470.8,121.6 470.0,121.8 M426.8,89.8 425.5,89.9 424.2,89.3 423.2,88.3 422.7,87.0 422.9,86.0 423.6,84.8 425.0,83.4 426.0,82.9 427.0,83.1 428.3,84.0 429.1,85.0 429.3,86.0 429.2,87.0 428.6,88.3 427.8,89.2 426.8,89.8 M444.3,140.8 442.8,140.2 440.0,138.8 438.0,138.3 431.5,138.0 430.0,138.3 428.0,139.0 426.2,139.0 425.0,138.4 424.3,137.6 423.9,136.6 423.9,135.3 424.4,134.3 425.0,133.7 425.8,133.2 426.8,133.0 428.0,133.2 429.8,133.9 431.0,134.1 437.7,134.1 440.0,133.8 444.5,132.4 446.5,132.3 448.2,132.5 451.8,133.6 454.2,134.0 464.2,134.2 467.7,133.8 475.8,131.9 479.2,131.7 485.8,132.0 489.2,132.6 491.2,133.4 492.4,134.1 493.2,134.8 493.7,135.8 493.5,136.8 492.9,137.6 492.0,138.3 490.8,138.9 488.8,139.5 481.8,140.7 478.8,140.8 476.0,140.5 473.8,140.0 468.9,138.3 466.5,137.9 464.0,137.8 456.8,138.0 454.2,138.3 452.5,138.8 450.2,140.2 448.7,140.8 M421.0,84.5 423.8,80.9 424.5,80.3 425.2,80.1 427.0,80.4 432.0,82.9 432.8,83.0 433.5,82.8 434.5,81.8 436.8,77.8 438.5,75.8 440.5,74.0 442.8,72.9 444.5,72.5 449.2,72.0 455.2,70.1 457.5,69.6 465.2,68.4 466.8,68.4 468.5,68.7 472.8,70.2 479.5,73.0 484.8,74.5 489.5,77.1 490.9,78.5 491.8,80.3 492.3,82.3 492.7,89.8 492.6,94.3 491.6,103.3 490.7,106.8 489.8,108.5 489.0,108.7 487.5,108.1 486.8,108.5 483.8,112.0 482.2,113.6 480.5,114.7 477.2,116.3 475.9,117.3 474.8,119.0 472.8,123.0 471.8,124.3 470.5,125.0 469.2,125.0 468.2,124.6 467.5,124.0 466.3,122.3 465.7,120.3 464.2,113.5 463.9,108.5 464.0,105.8 464.4,104.0 466.1,100.3 466.5,97.8 466.4,96.3 466.0,95.0 465.4,94.0 464.3,93.0 460.2,90.8 457.8,90.2 456.0,90.3 451.0,91.8 449.2,92.0 447.2,91.7 439.5,89.7 437.5,88.8 435.0,87.2 434.0,86.9 433.5,86.9 432.8,87.4 428.2,92.0 427.2,92.7 426.5,93.0 425.5,92.9 424.5,92.4 421.0,89.5 M443.0,140.8 439.5,139.1 437.0,138.5 431.8,138.3 430.2,138.5 427.8,139.4 426.0,139.2 424.8,138.5 423.9,137.6 423.5,136.6 423.6,135.3 424.0,134.3 424.8,133.5 425.8,132.9 426.8,132.7 428.0,132.9 431.0,133.8 437.2,133.8 440.0,133.4 444.2,132.1 446.8,131.9 448.8,132.1 452.1,133.3 454.5,133.8 464.0,133.9 466.9,133.6 471.2,132.2 473.8,131.7 478.2,131.2 485.8,131.6 488.8,132.1 492.2,133.4 493.5,134.3 494.1,135.1 494.3,136.1 494.0,137.1 493.2,138.1 492.0,138.8 489.5,139.7 483.1,140.8 M475.5,140.8 473.2,140.2 468.3,138.6 464.0,138.1 457.2,138.3 454.7,138.6 453.1,139.1 450.0,140.8"/><path fill="none" stroke="#444" stroke-width="0.5" d="M427.8,137.8 426.5,137.9 425.8,137.6 425.4,137.1 425.2,136.3 425.3,135.8 426.0,135.0 427.2,134.8 428.0,135.1 428.4,135.6 428.7,136.1 428.6,136.8 428.2,137.5 427.8,137.8 M482.8,137.8 480.5,137.9 478.8,137.6 477.4,137.1 477.2,136.8 477.1,136.3 477.6,135.8 478.8,135.4 482.2,135.0 486.0,135.4 487.0,135.8 487.4,136.3 487.0,136.8 486.2,137.2 482.8,137.8 M446.2,137.1 445.2,136.9 444.9,136.6 445.2,136.3 446.0,136.2 446.8,136.3 447.2,136.6 447.0,136.9 446.2,137.1 M427.5,139.3 426.2,139.3 425.2,138.9 424.3,138.1 423.8,137.1 423.7,136.1 424.0,135.1 424.8,134.2 425.8,133.6 427.2,133.5 428.5,133.9 429.5,134.8 430.0,135.8 430.1,137.1 429.7,138.1 428.8,138.9 427.5,139.3 M482.5,139.3 479.0,139.4 475.8,138.8 473.5,137.7 472.9,137.1 472.8,136.3 473.6,135.3 475.2,134.5 477.5,133.9 480.2,133.7 485.8,133.8 488.2,134.1 490.8,135.0 491.6,135.6 491.9,136.1 491.9,136.6 491.7,137.1 491.1,137.6 490.0,138.1 488.2,138.5 482.5,139.3 M448.0,137.8 446.2,138.0 444.5,137.8 443.2,137.3 442.8,136.6 443.2,136.0 444.5,135.5 446.0,135.3 447.8,135.5 449.0,136.0 449.5,136.6 449.2,137.3 448.0,137.8"/></g>
<path d="M425.00,63.50 L494.50,63.50 L494.50,136.90" stroke="#666" stroke-width="0.6" fill="none"/>
<path d="M477.00,63.50 L477.00,77.20 L460.00,99.20 L425.00,99.20" stroke="#666" stroke-width="0.6" fill="none"/>
<path d="M454.30,99.20 L454.30,136.90" stroke="#666" stroke-width="0.6" fill="none"/>
<rect x="425" y="51.8" width="84.19999999999999" height="85.10000000000001" fill="none" stroke="#9a9a9a" stroke-width="1.0"/>
<text x="422.00" y="54.50" font-size="5.9" text-anchor="end" fill="#222">10000</text>
<line x1="423.40" y1="51.80" x2="425.00" y2="51.80" stroke="#777" stroke-width="0.5"/>
<text x="422.00" y="75.78" font-size="5.9" text-anchor="end" fill="#222">1000</text>
<line x1="423.40" y1="73.08" x2="425.00" y2="73.08" stroke="#777" stroke-width="0.5"/>
<text x="422.00" y="97.05" font-size="5.9" text-anchor="end" fill="#222">100</text>
<line x1="423.40" y1="94.35" x2="425.00" y2="94.35" stroke="#777" stroke-width="0.5"/>
<text x="422.00" y="118.33" font-size="5.9" text-anchor="end" fill="#222">10</text>
<line x1="423.40" y1="115.62" x2="425.00" y2="115.62" stroke="#777" stroke-width="0.5"/>
<text x="422.00" y="139.60" font-size="5.9" text-anchor="end" fill="#222">1</text>
<line x1="423.40" y1="136.90" x2="425.00" y2="136.90" stroke="#777" stroke-width="0.5"/>
<path d="M425.00,130.50h1.2M431.34,136.90v-1.2M425.00,126.75h1.2M435.04,136.90v-1.2M425.00,124.09h1.2M437.67,136.90v-1.2M425.00,122.03h1.2M439.71,136.90v-1.2M425.00,120.34h1.2M441.38,136.90v-1.2M425.00,118.92h1.2M442.79,136.90v-1.2M425.00,117.69h1.2M444.01,136.90v-1.2M425.00,116.60h1.2M445.09,136.90v-1.2M425.00,109.22h1.2M452.39,136.90v-1.2M425.00,105.47h1.2M456.09,136.90v-1.2M425.00,102.82h1.2M458.72,136.90v-1.2M425.00,100.75h1.2M460.76,136.90v-1.2M425.00,99.07h1.2M462.43,136.90v-1.2M425.00,97.65h1.2M463.84,136.90v-1.2M425.00,96.41h1.2M465.06,136.90v-1.2M425.00,95.32h1.2M466.14,136.90v-1.2M425.00,87.95h1.2M473.44,136.90v-1.2M425.00,84.20h1.2M477.14,136.90v-1.2M425.00,81.54h1.2M479.77,136.90v-1.2M425.00,79.48h1.2M481.81,136.90v-1.2M425.00,77.79h1.2M483.48,136.90v-1.2M425.00,76.37h1.2M484.89,136.90v-1.2M425.00,75.14h1.2M486.11,136.90v-1.2M425.00,74.05h1.2M487.19,136.90v-1.2M425.00,66.67h1.2M494.49,136.90v-1.2M425.00,62.92h1.2M498.19,136.90v-1.2M425.00,60.27h1.2M500.82,136.90v-1.2M425.00,58.20h1.2M502.86,136.90v-1.2M425.00,56.52h1.2M504.53,136.90v-1.2M425.00,55.10h1.2M505.94,136.90v-1.2M425.00,53.86h1.2M507.16,136.90v-1.2M425.00,52.77h1.2M508.24,136.90v-1.2" stroke="#888" stroke-width="0.45" fill="none"/>
<text x="425.00" y="145.50" font-size="5.9" text-anchor="middle" fill="#222">1</text>
<line x1="425.00" y1="136.90" x2="425.00" y2="138.50" stroke="#777" stroke-width="0.5"/>
<text x="446.05" y="145.50" font-size="5.9" text-anchor="middle" fill="#222">10</text>
<line x1="446.05" y1="136.90" x2="446.05" y2="138.50" stroke="#777" stroke-width="0.5"/>
<text x="467.10" y="145.50" font-size="5.9" text-anchor="middle" fill="#222">100</text>
<line x1="467.10" y1="136.90" x2="467.10" y2="138.50" stroke="#777" stroke-width="0.5"/>
<text x="488.15" y="145.50" font-size="5.9" text-anchor="middle" fill="#222">1000</text>
<line x1="488.15" y1="136.90" x2="488.15" y2="138.50" stroke="#777" stroke-width="0.5"/>
<text x="509.20" y="145.50" font-size="5.9" text-anchor="middle" fill="#222">10000</text>
<line x1="509.20" y1="136.90" x2="509.20" y2="138.50" stroke="#777" stroke-width="0.5"/>
<text x="427.70" y="73.98" font-size="10.5" text-anchor="start" fill="#111" stroke="#111" stroke-width="0.15">23</text>
<text x="426.90" y="130.08" font-size="10.5" text-anchor="start" fill="#111" stroke="#111" stroke-width="0.15">8.1</text>
<text x="455.10" y="130.08" font-size="10.5" text-anchor="start" fill="#111" stroke="#111" stroke-width="0.15">69</text>
<g clip-path="url(#civHet)"><path d="M479.1,239.0 476.4,239.1 473.6,239.0 472.1,238.7 471.7,238.4 471.7,238.2 472.0,237.9 473.0,237.7 476.4,237.5 479.5,237.7 480.6,237.9 480.9,238.2 480.9,238.4 480.5,238.7 479.1,239.0Z M427.1,239.8 426.6,239.7 426.3,239.2 426.4,238.5 426.9,238.2 427.4,238.3 427.8,238.9 427.6,239.4 427.1,239.8Z" fill="#151515" stroke="none"/><path d="M488.4,201.2 488.0,199.7 487.9,196.9 488.0,193.7 488.4,191.9 488.6,191.9 488.9,192.9 489.2,196.7 488.9,200.2 488.6,201.1 488.4,201.2Z" fill="#222" stroke="none"/><path fill="none" stroke="#242424" stroke-width="0.55" d="M478.1,198.1 477.9,198.2 477.6,197.7 477.6,197.2 478.1,196.9 478.5,197.4 478.1,198.1 M478.4,199.0 477.9,199.1 477.4,198.9 476.9,197.9 477.2,196.7 477.6,196.2 478.1,196.1 478.9,196.5 479.2,197.4 479.0,198.4 478.4,199.0 M478.4,200.0 477.6,200.0 476.9,199.6 476.5,198.9 476.3,197.9 476.4,196.9 476.7,196.2 477.4,195.5 478.1,195.3 478.9,195.5 479.4,195.9 479.8,196.7 479.9,197.4 479.6,198.9 479.1,199.5 478.4,200.0 M478.1,201.0 477.1,200.8 476.4,200.2 475.8,199.2 475.6,197.9 475.8,196.7 476.4,195.5 477.1,194.8 478.1,194.5 479.1,194.7 479.9,195.3 480.4,196.4 480.6,197.7 480.4,198.9 479.9,199.9 479.1,200.6 478.1,201.0 M478.6,201.8 477.4,201.8 476.1,201.1 475.3,199.9 475.0,198.4 475.1,196.7 475.7,195.2 476.9,194.0 478.1,193.6 479.4,193.9 480.3,194.7 481.0,195.9 481.3,197.4 481.1,198.9 480.6,200.2 479.6,201.2 478.6,201.8 M488.4,197.5 488.4,196.5 488.7,196.9 488.4,197.5 M476.4,237.6 475.9,237.7 475.4,237.4 475.9,237.3 476.6,237.4 476.4,237.6 M478.4,202.7 476.9,202.6 475.5,201.7 474.6,200.2 474.3,198.4 474.6,196.2 475.4,194.4 476.6,193.2 478.1,192.8 479.6,193.2 480.8,194.2 481.6,195.7 481.9,197.4 481.7,199.2 481.1,200.7 479.9,202.0 478.4,202.7 M488.6,198.3 488.4,198.4 488.1,197.4 488.4,195.5 488.6,195.6 488.9,196.4 488.6,198.3 M476.6,238.0 474.9,237.9 474.4,237.7 474.3,237.4 474.9,237.1 476.1,237.0 477.4,237.2 477.8,237.4 477.6,237.7 476.6,238.0 M478.9,203.5 477.1,203.6 475.6,202.9 474.2,201.2 473.7,199.2 473.8,196.7 474.6,194.2 475.4,193.2 476.1,192.6 477.9,192.0 479.6,192.3 480.9,193.2 482.0,194.9 482.5,197.2 482.4,199.2 481.7,200.9 480.4,202.5 478.9,203.5 M488.6,199.2 488.4,199.3 488.1,198.9 487.9,197.4 488.0,195.7 488.4,194.6 488.6,194.6 488.8,194.9 489.1,196.4 489.0,198.2 488.6,199.2 M477.4,238.2 474.4,238.2 473.6,237.9 473.1,237.4 474.1,236.9 476.1,236.7 478.1,236.9 479.1,237.4 478.6,237.9 477.4,238.2 M470.1,180.5 469.3,180.2 469.4,179.7 470.1,179.5 470.6,179.7 470.7,180.2 470.1,180.5 M478.4,204.5 477.4,204.5 476.4,204.3 474.6,203.1 473.4,201.2 472.9,198.9 473.3,195.7 474.3,193.2 474.9,192.4 475.9,191.7 477.9,191.1 478.9,191.2 479.9,191.5 481.4,192.7 482.6,194.7 483.1,197.4 482.9,199.7 482.0,201.7 480.4,203.5 479.4,204.1 478.4,204.5 M488.6,200.1 488.4,200.1 488.0,199.4 487.7,197.4 487.9,194.9 488.4,193.6 488.6,193.7 489.0,194.2 489.3,196.4 489.2,198.7 488.6,200.1 M478.1,238.5 475.9,238.6 473.6,238.4 472.2,237.9 471.9,237.4 472.4,237.0 473.2,236.7 476.1,236.4 479.0,236.7 479.8,236.9 480.3,237.4 479.9,238.0 478.1,238.5 M470.6,181.2 469.4,181.3 468.6,180.9 468.1,180.2 468.3,179.4 468.9,179.0 469.6,178.7 470.6,178.8 471.4,179.1 471.9,179.7 471.9,180.2 471.4,180.9 470.6,181.2 M456.4,183.2 455.6,183.3 455.4,182.9 455.9,182.6 456.4,182.6 456.7,182.7 456.8,182.9 456.4,183.2 M478.6,205.2 477.6,205.4 476.4,205.2 474.4,203.9 473.5,202.9 472.8,201.7 472.2,199.2 472.5,195.4 473.0,193.7 473.4,192.7 474.1,191.8 475.1,191.1 476.4,190.5 477.9,190.3 479.1,190.4 480.1,190.7 481.1,191.4 482.0,192.2 482.7,193.4 483.2,194.7 483.7,197.4 483.4,199.9 482.4,202.2 480.6,204.2 478.6,205.2 M488.4,201.0 487.9,200.4 487.7,199.7 487.4,196.9 487.7,193.9 488.1,192.9 488.4,192.6 488.9,193.0 489.2,193.7 489.5,196.9 489.2,199.9 488.9,200.6 488.4,201.0 M479.1,238.7 476.4,238.9 473.4,238.8 471.4,238.2 471.0,237.9 470.8,237.4 471.2,236.9 472.1,236.5 475.6,236.1 479.4,236.4 480.6,236.7 481.4,237.2 481.4,237.7 481.1,238.0 479.1,238.7 M427.4,238.8 426.9,238.9 426.6,238.4 426.9,238.1 427.1,238.1 427.5,238.4 427.4,238.8 M470.4,182.2 469.4,182.3 468.4,182.2 467.6,181.8 467.1,181.2 466.8,180.4 467.0,179.7 467.9,178.6 469.1,178.0 470.4,177.9 471.7,178.2 472.8,178.9 473.1,179.9 472.7,180.9 471.6,181.8 470.4,182.2 M457.1,184.0 455.9,184.1 454.6,184.0 453.9,183.5 453.8,182.9 454.4,182.2 455.6,181.6 456.9,181.5 458.2,181.7 458.8,182.2 458.8,182.9 458.1,183.6 457.1,184.0 M477.9,206.2 476.6,206.1 475.4,205.7 474.3,204.9 473.3,203.9 472.4,202.7 471.8,201.4 471.5,199.9 471.4,198.4 471.9,193.4 472.5,191.7 473.4,190.9 474.9,190.1 476.6,189.5 478.1,189.3 479.4,189.5 480.6,190.0 481.6,190.7 482.6,191.9 483.8,194.4 484.3,197.9 483.8,200.7 482.5,203.2 481.4,204.4 480.1,205.4 478.9,206.0 477.9,206.2 M468.6,190.6 468.1,190.7 467.8,190.4 467.6,189.9 467.9,189.6 468.4,189.5 468.8,189.7 469.0,190.2 468.6,190.6 M488.6,201.7 488.1,201.7 487.6,200.8 487.2,197.7 487.5,193.4 487.9,192.2 488.4,191.7 488.9,191.9 489.3,192.9 489.7,196.2 489.5,199.7 489.1,201.0 488.6,201.7 M479.9,239.0 476.4,239.2 472.6,239.0 470.6,238.4 470.0,237.9 469.8,237.4 470.4,236.7 471.4,236.3 475.6,235.8 480.1,236.1 481.6,236.6 482.5,237.2 482.5,237.7 482.1,238.2 481.1,238.7 479.9,239.0 M427.1,239.2 426.6,239.1 426.4,238.7 426.4,238.2 426.9,237.8 427.4,237.9 428.1,238.7 427.9,239.0 427.1,239.2 M469.9,183.5 468.1,183.7 466.4,182.9 465.3,181.7 465.1,180.9 465.3,180.2 466.2,178.7 467.9,177.5 469.9,177.1 471.9,177.3 473.1,177.9 473.9,178.7 474.3,179.4 474.3,180.4 473.9,181.3 472.9,182.1 469.9,183.5 M456.6,185.0 454.4,184.9 452.9,184.5 452.1,183.7 452.2,182.7 452.8,181.9 453.9,181.2 456.6,180.4 459.1,180.5 460.1,180.8 461.0,181.4 461.4,182.4 461.0,183.2 460.5,183.7 458.9,184.5 456.6,185.0 M478.4,207.0 476.6,207.0 474.6,206.2 473.0,204.9 471.8,203.2 471.1,201.7 470.8,200.2 470.7,195.4 470.4,193.9 469.6,193.0 467.4,191.8 466.7,190.7 466.6,189.9 466.8,189.2 467.3,188.4 467.9,188.0 468.6,187.8 469.4,187.9 471.4,189.1 472.4,189.4 473.6,189.2 477.1,188.3 479.1,188.3 480.4,188.8 481.6,189.6 482.8,190.7 483.6,191.9 484.3,193.7 484.8,196.2 484.9,198.7 484.5,200.7 483.6,202.7 481.9,204.8 480.1,206.2 478.4,207.0 M488.6,202.5 488.1,202.4 487.5,201.4 487.0,199.7 486.8,197.4 487.0,194.7 487.3,192.7 487.8,191.2 488.4,190.7 488.9,191.0 489.5,192.2 490.0,196.2 489.6,200.4 489.1,201.9 488.6,202.5 M478.4,239.5 474.1,239.5 471.4,239.1 469.4,238.3 468.9,237.7 468.9,237.2 469.7,236.4 471.4,235.9 476.6,235.5 479.1,235.6 481.1,235.9 482.6,236.4 483.5,237.2 483.4,237.9 482.4,238.7 480.6,239.2 478.4,239.5 M427.6,239.5 426.9,239.5 426.3,239.2 426.1,238.4 426.4,237.8 426.9,237.6 427.4,237.6 428.5,238.4 428.6,238.9 427.6,239.5 M448.1,239.0 448.0,238.7 448.5,238.7 448.1,239.0 M449.9,239.0 449.6,238.9 449.4,238.7 450.1,238.7 449.9,239.0 M451.4,239.0 451.1,238.9 451.0,238.7 451.7,238.7 451.4,239.0 M452.9,239.0 452.6,238.7 453.2,238.7 452.9,239.0 M478.6,207.7 476.6,207.8 474.4,207.1 472.6,205.8 471.3,203.9 470.2,201.2 469.7,196.7 469.4,195.4 468.7,194.4 466.6,192.7 465.8,191.2 465.6,189.4 466.1,186.7 466.1,186.2 465.6,185.6 464.6,184.9 463.4,184.7 457.6,185.9 454.6,185.9 452.4,185.6 450.9,184.9 450.3,184.2 450.3,183.2 451.1,181.9 452.8,180.7 455.1,179.8 458.1,179.3 462.9,179.3 463.9,178.9 466.4,177.2 467.9,176.6 469.6,176.2 471.6,176.4 473.4,177.0 474.6,177.9 475.4,178.9 475.8,180.2 475.6,181.2 475.1,181.9 471.9,184.2 471.1,184.9 470.9,185.4 470.9,185.9 471.7,186.9 472.6,187.5 473.6,187.7 477.1,187.0 478.4,186.9 479.6,187.2 480.9,187.9 482.9,189.6 484.3,191.4 485.1,193.4 485.9,196.7 486.1,196.5 486.7,192.9 487.4,190.9 488.1,189.9 488.9,190.0 489.4,190.9 489.8,192.2 490.2,196.2 490.0,199.9 489.1,202.8 488.4,203.4 487.6,202.9 486.8,200.9 486.1,198.2 485.9,198.2 484.8,201.7 483.3,204.2 480.9,206.6 478.6,207.7 M479.6,239.7 474.1,239.8 471.1,239.5 469.6,239.0 468.6,238.4 468.1,237.9 468.0,237.2 468.9,236.3 470.6,235.7 473.1,235.3 476.9,235.2 479.9,235.3 482.1,235.8 483.8,236.4 484.5,237.2 484.4,237.9 483.4,238.8 481.9,239.4 479.6,239.7 M427.9,239.7 426.9,239.8 426.0,239.2 425.8,238.2 426.4,237.5 427.4,237.3 428.9,238.2 430.2,238.7 430.2,238.9 427.9,239.7 M454.6,239.2 448.1,239.3 443.4,239.0 443.0,238.7 446.6,238.3 451.4,238.2 454.4,238.3 456.2,238.7 455.9,239.0 454.6,239.2 M431.1,239.0 430.7,238.9 430.7,238.7 431.4,238.7 431.1,239.0 M432.6,239.0 432.5,238.7 432.6,238.7 432.8,238.7 432.6,239.0 M435.9,238.8 435.6,238.7 436.0,238.7 435.9,238.8 M437.4,239.0 437.1,238.9 437.0,238.7 437.7,238.7 437.4,239.0 M439.1,239.0 438.6,238.9 438.5,238.7 438.9,238.6 439.3,238.7 439.1,239.0 M440.6,239.0 440.2,238.9 440.0,238.7 440.4,238.6 440.9,238.7 440.6,239.0 M442.1,239.0 441.8,238.9 441.6,238.7 442.5,238.7 442.1,239.0 M477.4,208.7 475.6,208.5 473.6,207.8 472.1,206.6 471.0,205.2 470.2,203.7 469.6,201.9 468.6,196.7 468.0,195.7 466.1,193.7 465.2,192.4 464.7,190.9 464.2,188.2 463.6,187.3 462.9,186.9 462.1,186.7 454.6,186.9 452.1,186.7 450.4,186.3 448.9,185.4 448.2,184.4 448.2,183.4 449.0,182.2 451.4,180.4 454.9,178.9 457.4,178.3 462.6,177.7 466.6,176.0 468.4,175.5 469.9,175.3 471.4,175.4 473.9,176.3 476.1,177.9 476.9,179.2 477.4,180.7 477.4,181.9 477.0,183.7 477.1,184.2 479.4,185.4 481.4,186.9 483.7,189.2 485.6,191.8 486.1,191.9 487.2,189.9 487.9,189.2 488.4,189.0 488.9,189.2 489.6,190.2 490.0,191.7 490.4,196.2 490.1,200.7 489.8,202.2 489.1,203.6 488.6,204.1 487.9,204.0 486.4,201.7 485.9,201.6 483.5,204.9 481.6,206.8 479.6,208.1 477.4,208.7 M480.6,240.0 474.1,240.1 470.9,239.8 469.1,239.3 468.0,238.7 467.2,237.9 467.1,237.2 467.9,236.2 469.9,235.4 472.4,235.0 476.4,234.9 479.6,235.0 482.1,235.4 484.1,236.0 485.3,236.9 485.5,237.4 485.4,237.9 484.6,238.7 482.9,239.5 480.6,240.0 M428.1,240.0 426.9,240.1 425.8,239.4 425.6,238.9 425.6,238.2 426.1,237.3 426.6,237.1 427.4,237.0 429.4,238.0 431.9,238.3 452.9,237.8 455.6,238.1 456.4,238.4 456.6,238.7 456.4,239.1 455.9,239.4 453.4,239.7 448.4,239.7 442.6,239.3 433.4,239.3 430.1,239.5 428.1,240.0 M477.9,209.5 476.1,209.5 474.1,209.1 472.4,208.2 470.9,206.7 470.0,205.2 469.3,203.4 467.6,197.4 467.1,196.4 464.6,193.4 463.1,189.9 462.4,188.8 461.6,188.4 460.6,188.2 451.9,187.7 449.9,187.4 448.4,187.0 447.1,186.2 446.2,184.9 446.0,183.7 446.7,182.4 447.8,181.4 449.6,180.3 453.6,178.4 456.6,177.5 462.4,176.6 468.4,174.6 470.4,174.4 472.6,174.8 474.6,175.7 476.5,176.9 477.7,178.2 478.6,179.4 480.0,182.9 480.9,184.4 485.1,189.4 485.6,189.8 486.1,189.9 488.1,188.2 488.6,188.3 489.2,188.7 489.8,189.7 490.2,191.2 490.6,194.9 490.6,198.2 490.3,200.9 489.8,203.2 488.9,204.7 488.4,205.0 487.9,204.9 486.4,203.2 485.9,203.1 483.1,206.3 481.6,207.7 479.9,208.8 477.9,209.5 M481.4,240.2 474.1,240.4 470.6,240.1 468.6,239.5 467.1,238.8 466.2,237.9 466.1,237.2 466.3,236.7 467.1,236.0 469.4,235.1 471.9,234.8 476.4,234.6 479.6,234.7 482.6,235.1 484.9,235.9 486.2,236.9 486.4,237.4 486.3,237.9 485.4,238.9 483.4,239.8 481.4,240.2 M428.4,240.2 426.9,240.4 425.7,239.7 425.4,239.2 425.2,238.4 425.5,237.7 425.9,237.2 426.6,236.8 427.4,236.8 429.9,237.8 433.1,238.0 447.6,237.5 453.6,237.5 456.1,237.9 456.7,238.2 457.0,238.7 456.8,239.2 456.1,239.6 453.9,239.9 449.4,240.0 442.9,239.7 434.6,239.7 430.4,239.8 428.4,240.2 M478.1,210.2 476.1,210.4 473.9,210.0 471.9,209.1 470.2,207.7 469.0,205.4 467.4,199.7 466.7,197.9 464.1,194.4 462.4,191.3 461.5,190.2 460.6,189.7 459.4,189.3 450.1,188.6 447.1,187.8 445.5,186.7 444.4,185.2 444.2,183.7 444.9,182.4 445.9,181.4 447.9,180.1 450.4,178.8 453.4,177.5 456.1,176.7 461.9,175.7 468.4,173.6 470.6,173.5 473.1,174.1 475.4,175.1 477.6,176.7 479.3,178.2 480.3,179.4 482.5,184.7 483.6,186.4 484.9,187.9 485.6,188.4 486.1,188.5 487.6,187.6 488.4,187.4 488.9,187.6 489.5,188.2 490.1,189.4 490.5,191.2 490.9,195.9 490.8,198.9 490.5,201.4 489.9,203.7 489.1,205.3 488.6,205.7 488.1,205.8 487.6,205.6 486.4,204.4 485.9,204.4 481.6,208.6 479.9,209.6 478.1,210.2 M475.6,240.7 471.6,240.6 468.4,239.9 466.8,239.2 465.7,238.4 465.1,237.7 465.1,236.9 465.6,236.3 466.5,235.7 469.1,234.8 472.1,234.4 477.6,234.3 481.4,234.5 484.1,235.1 486.4,236.1 487.3,237.2 487.3,237.9 486.7,238.7 485.5,239.4 483.9,240.1 480.9,240.6 475.6,240.7 M428.6,240.5 426.9,240.6 426.1,240.4 425.5,239.9 425.1,239.2 425.0,238.4 425.1,237.7 425.6,237.0 426.4,236.6 427.4,236.5 430.1,237.4 432.9,237.6 447.1,237.2 453.9,237.2 456.4,237.7 457.1,238.1 457.4,238.7 457.1,239.3 456.4,239.8 453.6,240.2 449.4,240.3 442.9,240.0 434.9,240.0 430.6,240.2 428.6,240.5 M477.4,211.2 475.1,211.2 472.9,210.8 470.6,209.8 469.3,208.7 468.2,206.7 466.9,201.3 466.0,198.9 461.9,192.7 460.9,191.4 459.9,190.8 458.4,190.4 448.9,189.5 447.4,189.1 445.9,188.6 444.0,187.2 442.7,185.4 442.5,184.4 442.6,183.7 443.4,182.2 444.8,180.9 446.9,179.6 449.9,178.1 453.4,176.6 455.9,175.8 461.9,174.7 468.6,172.7 471.4,172.8 474.4,173.6 476.9,174.9 479.9,177.2 481.1,178.4 481.9,179.5 483.4,184.2 484.0,185.4 484.9,186.6 485.6,187.2 486.1,187.3 487.9,186.7 488.6,186.7 489.4,187.3 489.9,188.0 490.6,189.9 491.0,192.4 491.1,195.7 491.1,198.9 490.2,203.7 489.6,205.3 488.9,206.3 488.4,206.6 487.9,206.6 486.4,205.6 485.9,205.6 485.1,206.1 482.6,208.6 481.1,209.8 479.4,210.7 477.4,211.2 M467.9,218.3 467.9,217.8 468.1,217.9 467.9,218.3 M480.9,241.0 472.9,241.0 469.4,240.6 467.1,239.8 465.1,238.9 464.1,237.9 463.9,237.4 463.9,236.9 464.5,236.2 465.4,235.6 468.4,234.5 471.4,234.1 477.1,233.9 480.9,234.1 484.4,234.8 486.7,235.7 488.2,236.9 488.3,237.7 488.2,238.2 486.9,239.3 484.1,240.4 480.9,241.0 M428.9,240.7 427.6,240.9 426.6,240.9 425.9,240.6 425.2,239.9 424.8,239.2 424.7,238.2 425.0,237.4 425.6,236.7 426.4,236.3 427.4,236.2 430.1,237.1 432.9,237.3 446.9,236.9 453.6,236.9 455.4,237.1 456.9,237.5 457.6,238.1 457.9,238.7 457.5,239.4 456.9,239.9 455.6,240.3 453.9,240.5 449.4,240.6 443.1,240.3 434.9,240.3 430.9,240.5 428.9,240.7 M476.6,212.2 474.9,212.2 473.1,212.0 469.6,211.3 468.4,210.7 467.7,209.7 467.2,208.4 466.3,202.9 465.4,200.1 464.2,197.9 460.6,192.9 459.4,192.0 458.0,191.4 447.9,190.3 446.1,189.9 444.4,189.1 442.2,187.4 441.0,185.7 440.9,183.9 441.9,182.2 443.5,180.7 446.1,179.0 449.4,177.3 453.1,175.7 455.9,174.9 462.1,173.7 468.6,171.9 471.6,171.9 475.1,172.9 477.6,174.3 481.4,177.1 482.5,178.2 483.2,179.4 484.1,183.5 485.1,185.4 486.1,186.2 488.1,185.8 488.9,186.0 489.6,186.7 490.3,187.9 491.0,190.4 491.3,193.4 491.4,197.2 491.1,200.9 490.3,204.7 489.6,206.2 488.9,207.2 488.4,207.4 487.9,207.4 486.6,206.8 485.9,206.7 485.1,207.1 482.4,209.7 480.9,210.8 478.6,211.8 476.6,212.2 M468.4,220.5 467.9,220.7 467.2,220.2 466.8,219.4 466.6,218.2 466.9,215.9 467.4,215.2 467.9,214.9 468.4,215.2 468.8,215.7 469.3,217.4 469.2,219.2 468.4,220.5 M481.6,241.2 472.9,241.3 469.1,240.9 466.4,240.0 464.1,238.9 462.9,237.9 462.6,237.4 462.7,236.9 463.2,236.2 464.3,235.4 466.1,234.6 467.9,234.1 470.6,233.8 477.1,233.6 481.1,233.8 484.9,234.5 487.6,235.6 489.1,236.9 489.3,237.7 489.2,238.2 487.9,239.4 484.9,240.6 481.6,241.2 M427.9,241.2 426.9,241.2 425.9,240.9 425.0,240.2 424.6,239.4 424.4,238.4 424.7,237.4 425.2,236.7 426.1,236.1 427.6,236.0 430.1,236.8 432.4,237.0 446.6,236.6 454.1,236.6 457.1,237.2 457.9,237.7 458.4,238.4 458.2,239.2 457.4,240.0 455.9,240.5 454.1,240.8 449.6,240.9 443.1,240.6 434.6,240.6 430.6,240.8 427.9,241.2 M468.4,222.8 467.6,222.8 466.6,222.0 465.9,220.7 465.4,218.9 465.2,216.4 465.8,211.7 465.4,207.9 465.3,204.2 464.9,202.2 463.6,199.3 460.6,194.7 459.1,193.3 457.4,192.5 452.9,191.8 447.1,191.2 443.9,190.2 441.9,189.1 440.2,187.7 439.4,186.4 439.1,184.9 439.3,183.9 439.7,182.9 440.5,181.9 441.6,180.9 446.1,178.1 450.6,175.8 455.1,174.1 461.7,172.9 467.9,171.2 470.4,171.0 473.9,171.6 476.9,172.8 481.4,175.9 483.6,177.9 484.4,179.4 485.1,182.9 485.6,184.3 486.4,184.9 488.1,184.9 488.9,185.1 489.7,185.9 490.5,187.4 491.1,189.2 491.5,191.4 491.7,197.4 491.4,200.4 490.8,203.9 490.1,206.2 489.1,207.8 488.1,208.3 486.4,207.7 485.6,207.9 481.9,211.1 478.9,212.6 476.1,213.3 472.1,213.6 471.2,213.9 470.7,214.9 470.7,217.9 470.3,219.9 469.4,221.8 468.4,222.8 M482.4,241.5 472.9,241.7 469.6,241.3 466.1,240.4 463.2,239.2 461.6,238.2 461.2,237.7 461.2,237.2 461.8,236.2 462.9,235.4 464.6,234.6 466.9,233.8 469.9,233.4 476.4,233.3 481.4,233.5 485.4,234.3 488.4,235.5 489.5,236.2 490.1,236.9 490.4,237.7 490.3,238.2 489.7,238.9 488.9,239.4 485.6,240.7 482.4,241.5 M428.1,241.5 426.9,241.5 425.6,241.1 424.9,240.4 424.3,239.4 424.1,238.4 424.5,237.2 425.1,236.4 426.1,235.8 427.6,235.7 430.1,236.5 432.4,236.7 446.4,236.3 454.4,236.3 457.6,237.0 458.6,237.5 459.1,238.2 458.8,239.2 457.9,240.1 456.6,240.6 454.6,241.0 449.6,241.2 443.4,240.9 434.6,240.9 430.6,241.1 428.1,241.5 M467.6,226.2 466.9,225.6 465.4,222.8 464.6,220.9 464.2,219.2 463.9,216.4 464.1,211.9 463.9,207.9 463.9,204.4 463.6,202.5 462.6,199.9 460.1,196.0 458.6,194.4 456.6,193.6 452.2,192.7 445.9,192.0 443.9,191.5 442.1,190.8 439.9,189.4 438.2,187.9 437.5,186.7 437.3,185.2 437.6,183.9 438.0,182.9 438.7,181.9 439.8,180.9 446.6,176.8 451.6,174.4 455.4,173.1 462.4,171.9 468.1,170.4 470.9,170.2 474.4,170.8 477.4,172.0 482.6,175.7 484.7,177.7 485.5,179.2 486.4,182.9 486.9,183.4 488.4,183.8 489.4,184.6 490.3,185.9 491.0,187.4 491.8,191.4 492.0,197.9 491.6,201.4 491.0,204.4 490.0,207.2 489.1,208.7 488.1,209.2 486.4,208.8 485.6,208.9 482.4,211.7 480.6,212.9 478.6,213.8 474.9,215.1 473.8,215.7 473.0,216.7 471.8,219.9 469.6,224.2 468.6,225.7 468.1,226.1 467.6,226.2 M425.9,189.0 425.1,188.6 424.8,187.4 425.2,185.7 425.9,184.9 426.4,185.1 426.7,185.4 427.0,186.9 426.6,188.4 425.9,189.0 M474.9,242.0 471.9,242.0 469.1,241.6 466.1,240.8 460.6,239.0 459.9,239.2 457.1,240.8 454.1,241.3 449.6,241.5 443.4,241.2 435.1,241.2 430.9,241.4 427.1,241.8 425.9,241.5 424.8,240.7 424.1,239.7 423.8,238.4 424.0,237.4 424.7,236.4 425.4,235.8 426.6,235.4 427.6,235.4 430.1,236.2 431.9,236.5 452.9,236.0 455.4,236.1 459.1,236.7 459.9,236.5 462.1,235.0 464.6,233.9 467.1,233.1 469.1,232.8 478.9,233.0 484.1,233.6 486.9,234.4 489.1,235.3 490.8,236.4 491.4,237.4 491.2,238.4 490.1,239.4 488.4,240.3 485.6,241.1 481.6,241.9 474.9,242.0"/><path fill="none" stroke="#444" stroke-width="0.5" d="M480.6,239.7 471.6,239.6 469.4,238.9 469.1,238.7 468.8,238.2 469.6,237.5 471.1,237.1 478.1,236.8 482.4,237.2 483.8,237.7 484.2,238.2 484.0,238.7 483.2,239.2 480.6,239.7 M427.1,240.5 426.1,240.2 425.6,239.2 425.9,238.1 426.9,237.6 427.9,237.9 428.4,238.9 428.1,239.9 427.1,240.5 M482.4,241.2 472.4,241.2 469.6,240.9 466.9,240.2 464.1,239.3 463.0,238.7 462.6,237.9 463.0,237.4 464.4,236.8 468.9,235.7 471.4,235.5 480.1,235.4 483.4,235.6 486.6,236.2 489.3,237.2 490.5,238.2 490.3,238.9 489.0,239.7 485.1,240.8 482.4,241.2 M428.1,241.7 426.9,241.9 425.9,241.7 425.1,241.2 424.4,240.2 424.2,239.2 424.4,237.9 425.0,236.9 425.9,236.3 427.1,236.1 428.1,236.4 428.9,236.9 429.6,237.9 429.9,239.2 429.7,240.2 429.0,241.2 428.1,241.7"/></g>
<path d="M424.40,167.40 L493.40,167.40 L493.40,240.10" stroke="#666" stroke-width="0.6" fill="none"/>
<path d="M476.30,167.40 L476.30,183.80 L459.30,202.00 L424.40,202.00" stroke="#666" stroke-width="0.6" fill="none"/>
<path d="M454.30,202.00 L454.30,240.10" stroke="#666" stroke-width="0.6" fill="none"/>
<rect x="424.4" y="154.7" width="84.20000000000005" height="85.4" fill="none" stroke="#9a9a9a" stroke-width="1.0"/>
<text x="421.40" y="157.40" font-size="5.9" text-anchor="end" fill="#222">10000</text>
<line x1="422.80" y1="154.70" x2="424.40" y2="154.70" stroke="#777" stroke-width="0.5"/>
<text x="421.40" y="178.75" font-size="5.9" text-anchor="end" fill="#222">1000</text>
<line x1="422.80" y1="176.05" x2="424.40" y2="176.05" stroke="#777" stroke-width="0.5"/>
<text x="421.40" y="200.10" font-size="5.9" text-anchor="end" fill="#222">100</text>
<line x1="422.80" y1="197.40" x2="424.40" y2="197.40" stroke="#777" stroke-width="0.5"/>
<text x="421.40" y="221.45" font-size="5.9" text-anchor="end" fill="#222">10</text>
<line x1="422.80" y1="218.75" x2="424.40" y2="218.75" stroke="#777" stroke-width="0.5"/>
<text x="421.40" y="242.80" font-size="5.9" text-anchor="end" fill="#222">1</text>
<line x1="422.80" y1="240.10" x2="424.40" y2="240.10" stroke="#777" stroke-width="0.5"/>
<path d="M424.40,233.67h1.2M430.74,240.10v-1.2M424.40,229.91h1.2M434.44,240.10v-1.2M424.40,227.25h1.2M437.07,240.10v-1.2M424.40,225.18h1.2M439.11,240.10v-1.2M424.40,223.49h1.2M440.78,240.10v-1.2M424.40,222.06h1.2M442.19,240.10v-1.2M424.40,220.82h1.2M443.41,240.10v-1.2M424.40,219.73h1.2M444.49,240.10v-1.2M424.40,212.32h1.2M451.79,240.10v-1.2M424.40,208.56h1.2M455.49,240.10v-1.2M424.40,205.90h1.2M458.12,240.10v-1.2M424.40,203.83h1.2M460.16,240.10v-1.2M424.40,202.14h1.2M461.83,240.10v-1.2M424.40,200.71h1.2M463.24,240.10v-1.2M424.40,199.47h1.2M464.46,240.10v-1.2M424.40,198.38h1.2M465.54,240.10v-1.2M424.40,190.97h1.2M472.84,240.10v-1.2M424.40,187.21h1.2M476.54,240.10v-1.2M424.40,184.55h1.2M479.17,240.10v-1.2M424.40,182.48h1.2M481.21,240.10v-1.2M424.40,180.79h1.2M482.88,240.10v-1.2M424.40,179.36h1.2M484.29,240.10v-1.2M424.40,178.12h1.2M485.51,240.10v-1.2M424.40,177.03h1.2M486.59,240.10v-1.2M424.40,169.62h1.2M493.89,240.10v-1.2M424.40,165.86h1.2M497.59,240.10v-1.2M424.40,163.20h1.2M500.22,240.10v-1.2M424.40,161.13h1.2M502.26,240.10v-1.2M424.40,159.44h1.2M503.93,240.10v-1.2M424.40,158.01h1.2M505.34,240.10v-1.2M424.40,156.77h1.2M506.56,240.10v-1.2M424.40,155.68h1.2M507.64,240.10v-1.2" stroke="#888" stroke-width="0.45" fill="none"/>
<text x="424.40" y="248.70" font-size="5.9" text-anchor="middle" fill="#222">1</text>
<line x1="424.40" y1="240.10" x2="424.40" y2="241.70" stroke="#777" stroke-width="0.5"/>
<text x="445.45" y="248.70" font-size="5.9" text-anchor="middle" fill="#222">10</text>
<line x1="445.45" y1="240.10" x2="445.45" y2="241.70" stroke="#777" stroke-width="0.5"/>
<text x="466.50" y="248.70" font-size="5.9" text-anchor="middle" fill="#222">100</text>
<line x1="466.50" y1="240.10" x2="466.50" y2="241.70" stroke="#777" stroke-width="0.5"/>
<text x="487.55" y="248.70" font-size="5.9" text-anchor="middle" fill="#222">1000</text>
<line x1="487.55" y1="240.10" x2="487.55" y2="241.70" stroke="#777" stroke-width="0.5"/>
<text x="508.60" y="248.70" font-size="5.9" text-anchor="middle" fill="#222">10000</text>
<line x1="508.60" y1="240.10" x2="508.60" y2="241.70" stroke="#777" stroke-width="0.5"/>
<text x="426.90" y="175.98" font-size="10.5" text-anchor="start" fill="#111" stroke="#111" stroke-width="0.15">28</text>
<text x="425.80" y="232.68" font-size="10.5" text-anchor="start" fill="#111" stroke="#111" stroke-width="0.15">6.6</text>
<text x="480.70" y="232.28" font-size="10.5" text-anchor="start" fill="#111" stroke="#111" stroke-width="0.15">65</text>
<g clip-path="url(#civKO)"><path d="M482.7,349.2 481.9,349.3 481.2,349.1 480.6,348.9 480.4,348.4 480.7,348.1 481.4,347.8 482.7,347.9 483.2,348.1 483.5,348.6 483.2,349.0 482.7,349.2Z" fill="#151515" stroke="none"/><path d="M489.9,303.3 489.6,302.1 489.5,300.1 489.6,298.1 489.9,297.2 490.2,297.5 490.3,298.1 490.5,300.1 490.3,302.4 490.2,303.0 489.9,303.3Z" fill="#222" stroke="none"/><path fill="none" stroke="#242424" stroke-width="0.55" d="M484.4,301.8 484.4,301.3 484.4,301.8 M484.7,303.2 484.4,303.2 484.1,302.9 483.8,301.9 483.9,300.8 484.4,300.2 485.0,300.4 485.3,301.4 485.2,302.5 484.7,303.2 M484.9,304.4 484.4,304.5 483.9,304.1 483.4,303.4 483.2,302.4 483.2,301.1 483.5,300.1 483.9,299.4 484.4,299.0 484.9,299.1 485.4,299.6 485.9,301.4 485.8,303.1 485.4,303.9 484.9,304.4 M484.7,305.7 483.9,305.5 483.2,304.6 482.7,303.4 482.6,301.9 482.8,300.4 483.3,298.9 483.9,298.1 484.7,297.9 485.4,298.2 486.1,299.1 486.5,300.4 486.6,301.9 486.5,303.1 486.1,304.4 485.4,305.3 484.7,305.7 M485.2,306.8 484.2,306.8 483.1,305.9 482.3,304.4 482.0,302.4 482.1,300.4 482.8,298.4 483.7,297.0 484.7,296.6 485.7,297.1 486.4,298.1 487.1,299.9 487.3,301.6 487.2,303.4 486.8,304.9 486.0,306.1 485.2,306.8 M489.9,298.8 489.7,298.1 489.9,297.3 490.2,298.1 489.9,298.8 M479.9,349.5 480.0,349.4 479.9,349.5 M485.4,307.9 484.9,308.1 484.2,308.1 482.9,307.1 481.9,305.1 481.4,302.6 481.6,299.9 482.4,297.4 483.4,295.8 483.9,295.4 484.7,295.2 485.7,295.6 486.8,296.9 487.6,298.9 488.0,301.1 487.9,303.4 487.5,305.1 486.5,306.9 485.4,307.9 M489.9,299.9 489.6,299.6 489.3,298.4 489.6,296.9 489.9,296.4 490.3,296.9 490.4,298.1 490.3,299.4 489.9,299.9 M480.4,350.2 479.2,350.1 478.9,349.9 478.7,349.4 479.4,348.9 480.7,349.0 481.2,349.3 481.2,349.6 480.4,350.2 M485.2,309.5 484.4,309.5 483.7,309.2 482.3,307.6 481.3,305.4 480.8,302.4 481.0,299.4 482.0,296.1 483.2,294.4 483.9,293.9 484.7,293.8 485.7,294.0 486.4,294.6 488.4,297.7 488.7,297.6 489.4,295.8 489.9,295.5 490.4,296.3 490.7,297.9 490.4,300.4 489.9,301.1 489.1,301.9 488.4,304.9 487.8,306.4 486.4,308.5 485.2,309.5 M480.9,350.7 479.7,350.8 478.4,350.5 477.7,349.9 477.7,349.1 478.4,348.6 479.4,348.3 480.4,348.3 481.4,348.6 482.2,349.1 482.3,349.6 481.9,350.2 480.9,350.7 M485.2,311.2 484.4,311.2 483.7,310.8 482.7,309.8 481.8,308.4 480.6,305.4 480.2,302.1 480.5,298.4 481.6,294.9 482.9,293.1 483.7,292.6 484.7,292.3 485.7,292.5 486.4,292.9 488.4,295.2 489.4,294.6 489.9,294.6 490.6,295.6 490.9,297.9 490.6,301.1 488.6,306.6 486.7,309.9 485.9,310.7 485.2,311.2 M481.7,351.2 479.7,351.4 477.9,351.1 477.2,350.6 476.7,350.1 476.7,349.1 477.3,348.4 478.7,347.9 480.4,347.8 481.9,348.1 483.0,348.9 483.4,349.6 482.9,350.5 481.7,351.2 M428.9,349.5 428.9,349.4 428.9,349.5 M485.4,313.0 484.7,313.0 483.7,312.5 482.7,311.4 481.4,309.4 480.1,305.9 479.5,301.9 479.9,297.9 480.4,295.6 481.0,293.9 481.8,292.6 482.7,291.8 483.7,291.2 484.9,291.0 486.4,291.4 488.4,293.1 489.7,293.4 490.2,293.8 490.9,295.4 491.2,297.9 490.9,301.6 489.6,306.1 486.9,311.5 486.2,312.5 485.4,313.0 M480.9,351.9 478.4,351.9 476.7,351.2 476.1,350.6 475.7,349.9 475.7,349.1 475.9,348.6 477.2,347.7 479.2,347.2 481.4,347.4 483.3,348.1 484.2,349.1 484.4,349.9 484.2,350.4 483.0,351.4 480.9,351.9 M429.2,350.0 428.9,350.0 428.6,349.6 428.7,349.1 428.9,348.9 429.2,349.0 429.4,349.4 429.2,350.0 M443.2,349.7 442.7,349.7 442.7,349.3 443.2,349.2 443.3,349.4 443.2,349.7 M485.2,314.7 484.2,314.5 483.2,313.8 482.2,312.5 480.8,309.9 479.5,306.4 479.1,303.9 478.9,301.4 479.0,299.1 479.4,296.4 479.9,294.4 480.6,292.6 481.4,291.4 482.4,290.5 483.7,289.9 484.9,289.7 485.9,289.8 486.9,290.2 489.7,292.1 490.2,292.6 491.1,294.9 491.5,298.4 491.0,303.1 490.0,307.1 487.2,313.1 486.2,314.2 485.2,314.7 M481.7,352.4 478.7,352.5 476.4,351.9 475.5,351.1 474.9,350.4 474.7,349.4 474.9,348.6 475.5,347.9 476.3,347.4 478.7,346.7 481.4,346.8 483.7,347.6 485.1,348.9 485.4,349.6 485.3,350.4 484.8,351.1 483.9,351.8 481.7,352.4 M429.2,350.4 428.7,350.4 428.3,349.6 428.4,348.9 428.9,348.5 429.4,348.7 429.8,349.4 429.6,350.1 429.2,350.4 M443.4,350.2 442.7,350.3 442.1,349.9 442.0,349.1 442.3,348.6 443.2,348.5 443.8,348.9 443.9,349.6 443.4,350.2 M485.4,315.9 484.2,316.0 483.2,315.4 482.2,314.3 481.0,312.1 479.8,309.4 479.0,307.1 478.5,304.4 478.3,301.4 478.3,298.9 478.8,295.6 479.3,293.4 479.9,291.9 480.7,290.6 481.9,289.5 483.4,288.6 484.7,288.4 485.9,288.5 487.2,289.0 489.2,290.3 490.2,291.4 490.8,292.6 491.3,294.4 491.8,298.1 491.4,303.9 490.5,307.6 487.8,313.9 486.7,315.3 485.4,315.9 M477.6,352.9 475.9,352.3 474.7,351.4 474.0,350.1 473.9,348.9 474.5,347.9 475.8,346.9 477.7,346.3 479.7,346.1 481.7,346.3 483.7,347.0 485.2,347.9 486.2,349.1 486.3,350.4 485.7,351.4 484.4,352.3 482.5,352.9 M443.7,350.7 442.4,350.8 441.5,350.1 441.3,349.1 441.9,348.1 443.2,347.8 444.2,348.5 444.5,349.1 444.5,349.6 444.2,350.2 443.7,350.7 M429.4,350.8 428.7,350.8 428.2,350.4 428.0,349.9 428.1,348.6 428.4,348.3 428.9,348.1 429.7,348.4 430.1,349.1 430.0,350.1 429.4,350.8 M463.2,285.4 462.4,285.4 462.1,284.9 462.4,284.6 463.2,284.6 463.5,284.9 463.2,285.4 M484.9,317.2 483.7,317.1 482.4,316.3 481.4,314.9 480.3,312.6 479.0,309.4 478.4,307.1 477.8,303.6 477.6,300.4 478.2,294.4 478.6,292.4 479.1,291.1 480.2,289.6 481.9,288.1 483.4,287.2 484.7,287.0 486.2,287.3 487.7,288.0 489.2,289.0 490.2,290.0 490.9,291.4 491.5,293.6 492.1,298.6 491.6,305.6 491.1,307.9 490.3,310.1 489.0,313.4 487.9,315.2 486.4,316.6 484.9,317.2 M475.7,352.9 474.2,351.9 473.2,350.6 473.0,349.4 473.3,348.1 474.2,347.1 475.7,346.2 477.4,345.8 479.7,345.5 481.7,345.7 483.7,346.3 485.7,347.4 487.0,348.6 487.4,349.6 487.2,350.9 486.2,352.1 484.7,352.9 M442.9,351.4 441.9,351.3 441.3,350.9 440.8,350.1 440.6,349.4 440.7,348.6 441.2,347.9 441.9,347.4 442.7,347.2 443.4,347.2 444.3,347.6 444.9,348.4 445.1,349.1 445.0,349.9 444.6,350.6 443.7,351.3 442.9,351.4 M429.4,351.2 428.7,351.3 428.2,350.9 427.8,350.4 427.6,349.6 427.9,348.2 428.4,347.8 428.9,347.6 429.4,347.7 429.9,348.1 430.4,349.1 430.2,350.4 429.4,351.2 M462.7,286.4 461.4,286.2 460.6,285.6 460.4,285.1 460.4,284.6 460.9,283.9 461.9,283.5 462.9,283.5 463.9,283.8 464.6,284.4 464.8,285.1 464.6,285.6 463.7,286.2 462.7,286.4 M485.2,318.2 483.7,318.2 482.4,317.7 481.4,316.6 480.4,314.9 478.6,310.4 477.8,307.9 477.3,304.6 476.9,300.4 477.4,293.1 477.7,291.6 478.1,290.6 479.2,289.1 481.7,286.8 482.9,285.9 484.2,285.6 485.7,285.8 487.7,286.8 489.4,287.9 490.4,289.1 491.2,290.6 491.8,293.1 492.4,298.1 492.1,305.9 491.7,308.1 491.0,310.4 489.6,313.9 488.4,315.9 486.9,317.3 485.2,318.2 M473.2,290.2 472.7,290.1 472.7,289.8 472.9,289.6 473.2,289.7 473.2,290.2 M474.5,352.9 473.0,351.6 472.2,350.4 472.1,348.9 472.6,347.6 473.7,346.6 475.2,345.8 477.2,345.2 479.7,345.0 481.9,345.2 483.9,345.8 486.2,346.9 487.7,348.1 488.4,349.4 488.3,350.6 487.6,351.9 486.3,352.9 M443.2,352.0 442.2,351.9 441.2,351.5 440.4,350.6 440.0,349.6 440.1,348.6 440.6,347.6 441.4,346.9 442.4,346.6 443.4,346.6 444.4,347.0 445.3,347.9 445.6,348.9 445.6,349.9 445.1,350.9 444.2,351.6 443.2,352.0 M429.4,351.7 428.7,351.7 428.2,351.4 427.6,350.6 427.3,349.9 427.3,348.9 427.6,348.1 428.2,347.4 428.7,347.2 429.4,347.2 429.9,347.5 430.5,348.1 430.7,348.9 430.8,349.6 430.5,350.6 429.9,351.4 429.4,351.7 M462.7,287.4 460.4,287.0 459.7,286.6 459.0,285.9 458.7,285.1 458.8,284.4 459.2,283.6 459.9,283.0 461.4,282.5 463.4,282.6 465.2,283.2 466.6,284.4 466.9,285.4 466.7,285.9 466.3,286.4 464.7,287.1 462.7,287.4 M484.9,319.2 483.7,319.3 482.7,319.1 481.7,318.4 480.9,317.7 479.6,315.4 478.1,311.1 477.3,308.4 476.8,305.4 476.3,299.9 476.4,293.9 475.8,291.4 475.4,291.0 473.4,291.5 471.9,291.2 470.8,290.1 470.5,288.9 470.6,288.4 471.0,287.9 471.7,287.7 472.4,287.8 473.9,288.4 475.4,289.8 475.9,290.0 478.2,288.4 482.2,284.8 483.2,284.2 483.9,284.1 485.4,284.4 487.2,285.2 489.4,286.7 490.7,288.2 491.4,289.6 492.0,292.4 492.6,295.6 492.8,298.6 492.5,306.9 492.0,309.4 491.1,312.1 489.8,314.9 488.4,317.0 486.9,318.3 484.9,319.2 M473.3,352.9 471.9,351.6 471.1,350.1 471.1,348.6 471.7,347.4 473.0,346.1 474.9,345.2 477.4,344.6 479.9,344.4 481.9,344.6 484.2,345.3 486.9,346.6 488.7,347.9 489.4,349.1 489.5,350.4 488.9,351.6 487.6,352.9 M443.4,352.5 442.2,352.5 440.9,352.1 439.9,351.1 439.4,349.9 439.4,348.6 440.0,347.4 440.9,346.5 442.2,346.0 443.4,346.0 444.7,346.5 445.7,347.4 446.2,348.6 446.2,349.9 445.7,351.0 444.7,351.9 443.4,352.5 M429.7,352.0 428.7,352.1 427.9,351.7 427.3,350.9 427.0,350.1 427.0,348.9 427.3,347.9 427.9,347.1 428.7,346.8 429.4,346.8 430.2,347.2 430.8,347.9 431.0,348.6 431.1,349.6 430.9,350.6 430.4,351.4 429.7,352.0 M484.9,320.2 483.2,320.3 481.4,319.5 479.8,317.6 478.6,315.1 477.0,310.1 476.3,307.1 475.6,300.4 475.4,295.4 474.9,293.6 473.9,293.0 471.7,292.4 470.2,291.8 466.4,289.0 465.2,288.7 461.2,288.3 459.7,287.8 458.7,287.3 457.6,286.1 457.3,284.9 457.8,283.4 458.9,282.2 460.2,281.6 461.7,281.4 463.4,281.5 465.4,282.0 470.1,283.6 474.1,286.6 475.2,287.3 476.2,287.5 477.2,287.4 478.4,286.7 482.2,283.1 483.2,282.7 484.4,282.7 485.9,283.2 487.7,284.3 489.7,285.7 490.7,286.9 491.4,288.1 492.0,290.1 493.1,296.6 493.1,303.9 492.8,308.4 491.6,312.6 489.6,316.6 487.7,318.7 486.4,319.6 484.9,320.2 M472.1,352.9 470.5,351.4 469.9,350.1 469.9,348.6 470.7,347.1 472.2,345.8 474.4,344.7 477.2,344.1 479.9,343.9 482.2,344.1 484.7,344.8 487.7,346.2 489.7,347.6 490.5,348.9 490.6,350.1 489.9,351.6 488.8,352.9 M441.2,352.9 440.0,352.1 439.2,351.1 438.8,349.9 438.8,348.4 439.4,347.1 440.2,346.3 441.4,345.6 442.9,345.3 444.4,345.7 445.6,346.4 446.5,347.6 446.9,348.9 446.8,350.1 446.2,351.3 445.2,352.3 444.0,352.9 M429.7,352.5 428.7,352.5 427.7,352.0 427.1,351.1 426.7,349.9 426.7,348.6 427.0,347.6 427.7,346.8 428.7,346.3 429.7,346.4 430.4,346.9 431.1,347.6 431.4,348.6 431.4,349.9 431.1,351.1 430.4,352.0 429.7,352.5 M484.2,321.4 482.4,321.3 480.7,320.1 479.1,318.1 477.9,315.6 475.9,308.1 474.5,296.9 473.9,295.0 472.9,294.1 468.4,292.6 464.8,290.4 459.7,288.9 457.4,287.6 456.3,286.1 456.1,285.4 456.2,284.4 457.0,282.6 458.4,281.3 460.2,280.5 461.9,280.3 469.4,281.6 471.7,282.5 474.9,285.1 476.4,285.7 477.2,285.6 478.2,285.0 480.5,282.6 481.7,281.7 482.9,281.3 484.2,281.3 485.7,281.7 487.7,283.0 489.9,284.7 491.1,286.1 491.8,287.6 492.3,289.4 493.5,296.9 493.6,305.4 493.2,309.4 492.7,311.6 491.8,313.9 490.9,315.9 489.6,317.9 488.4,319.2 487.2,320.1 485.4,321.1 484.2,321.4 M470.8,352.9 469.1,351.4 468.5,349.9 468.5,348.9 468.8,348.1 469.9,346.6 471.7,345.3 473.9,344.3 476.9,343.6 480.2,343.3 482.4,343.5 484.9,344.2 488.7,346.0 490.7,347.3 491.5,348.6 491.6,350.1 491.0,351.6 489.9,352.9 M440.0,352.9 439.0,351.9 438.3,350.4 438.1,348.9 438.4,347.6 439.1,346.4 440.2,345.5 441.4,345.0 442.9,344.8 444.4,345.0 445.7,345.7 446.8,346.9 447.3,348.1 447.5,349.6 447.2,350.9 446.4,352.0 445.3,352.9 M428.5,352.9 427.6,352.4 426.8,351.4 426.4,350.1 426.3,348.9 426.6,347.6 427.2,346.8 427.9,346.2 428.9,345.9 429.9,346.1 430.8,346.6 431.5,347.6 431.8,348.9 431.7,350.1 431.3,351.4 430.6,352.4 429.7,352.9 M484.7,322.4 483.7,322.6 482.7,322.5 480.9,321.6 479.1,319.6 477.5,316.9 476.5,314.1 475.3,308.9 473.9,299.1 473.4,297.3 472.8,296.1 471.7,295.3 467.4,293.8 463.2,291.3 458.2,289.3 456.7,288.3 455.7,287.1 455.0,285.4 455.2,283.6 456.4,281.7 458.2,280.2 459.9,279.5 461.7,279.3 469.7,280.3 471.9,280.9 475.4,283.0 476.7,283.3 477.7,283.0 480.1,281.1 481.4,280.4 482.9,280.0 484.2,280.0 485.9,280.6 487.9,281.8 489.9,283.4 491.2,284.9 492.1,286.6 492.6,288.4 494.0,296.6 494.2,299.6 494.1,305.6 493.8,309.6 492.5,313.9 491.4,316.4 490.1,318.4 489.1,319.6 487.9,320.7 486.2,321.8 484.7,322.4 M469.2,352.9 467.7,351.4 467.1,349.9 467.4,348.1 468.7,346.4 470.9,344.9 473.7,343.7 476.9,343.0 480.4,342.7 482.9,343.0 485.4,343.7 489.7,345.6 491.6,346.9 492.6,348.4 492.8,349.9 492.3,351.4 491.1,352.9 M439.1,352.9 438.2,351.6 437.6,350.1 437.5,348.6 437.9,347.1 438.7,345.9 439.9,345.0 441.4,344.4 442.9,344.2 444.4,344.4 445.9,345.1 446.9,346.2 447.8,347.6 448.1,349.1 448.0,350.6 447.4,351.9 446.4,352.9 M427.6,352.9 426.9,352.1 426.2,350.9 426.0,349.6 426.1,348.1 426.5,347.1 427.2,346.2 428.2,345.6 429.2,345.5 430.2,345.7 431.1,346.4 431.8,347.4 432.1,348.4 432.1,349.9 431.8,351.1 431.3,352.1 430.6,352.9 M484.4,323.7 483.4,323.8 482.4,323.6 480.7,322.7 478.8,320.6 477.0,317.6 476.0,315.1 475.3,312.4 474.5,307.9 473.5,300.6 472.9,299.1 472.2,297.8 470.9,296.7 466.9,295.1 462.4,292.4 457.4,290.0 455.7,288.7 454.6,287.4 454.0,285.4 454.3,283.4 455.6,281.1 457.7,279.3 459.4,278.6 461.2,278.4 469.4,279.1 471.7,279.5 475.2,280.9 476.4,281.1 477.9,280.8 481.7,279.0 482.9,278.7 484.2,278.7 485.9,279.3 488.4,280.9 490.2,282.3 491.5,283.9 492.3,285.6 493.0,287.9 494.6,296.4 494.7,299.4 494.7,306.1 494.3,309.9 493.8,312.1 492.8,314.9 491.6,317.4 490.2,319.8 489.2,320.9 487.9,321.9 485.9,323.2 484.4,323.7 M467.6,352.9 466.3,351.4 465.9,350.4 465.8,349.4 466.3,347.6 467.8,345.9 469.9,344.5 473.2,343.2 476.4,342.5 480.7,342.1 482.9,342.3 485.4,343.0 490.2,345.0 492.5,346.4 493.6,347.9 493.9,349.6 493.5,351.4 492.3,352.9 M438.3,352.9 437.4,351.4 436.9,349.9 436.8,348.4 437.2,346.9 438.1,345.6 439.4,344.6 441.2,343.9 442.9,343.6 444.4,343.8 445.9,344.5 447.3,345.6 448.2,347.1 448.8,348.9 448.8,350.4 448.4,351.6 447.4,352.9 M427.0,352.9 426.3,351.9 425.8,350.6 425.6,349.1 425.8,347.9 426.3,346.6 427.2,345.7 428.2,345.2 429.2,345.0 430.2,345.3 431.2,345.9 431.9,346.6 432.4,347.9 432.5,349.1 432.4,350.6 431.9,351.9 431.2,352.9 M485.2,324.9 484.2,325.1 482.9,325.0 480.7,324.0 478.9,322.3 476.8,318.9 475.8,316.6 475.0,314.1 473.9,308.1 473.0,302.1 472.4,300.4 471.7,299.2 470.4,298.1 466.2,296.3 461.6,293.4 457.2,291.0 455.0,289.4 453.8,287.9 453.0,285.6 453.0,284.4 453.3,283.1 454.9,280.6 457.2,278.6 459.2,277.7 461.7,277.5 470.9,278.2 475.0,279.4 476.4,279.6 477.9,279.3 481.9,277.6 484.2,277.4 485.9,277.9 488.2,279.3 490.4,281.1 491.7,282.6 492.6,284.4 493.3,286.6 495.2,296.1 495.4,299.9 495.0,309.6 494.5,311.9 493.6,314.6 490.7,320.7 489.8,321.9 488.7,322.8 486.4,324.3 485.2,324.9 M466.1,352.9 465.3,351.9 464.9,350.9 464.6,348.9 465.3,347.1 466.9,345.4 469.7,343.8 473.4,342.5 477.2,341.8 481.2,341.5 483.7,341.8 486.2,342.5 491.4,344.7 493.6,346.1 494.6,347.6 495.0,349.6 494.7,351.4 493.6,352.9 M437.5,352.9 436.6,351.1 436.2,349.4 436.2,347.9 436.7,346.4 437.7,345.1 439.2,344.1 441.2,343.3 442.9,343.1 444.7,343.3 446.2,344.0 447.6,345.1 448.7,346.6 449.3,348.4 449.5,350.1 449.2,351.6 448.3,352.9 M426.6,352.9 425.8,351.6 425.4,350.1 425.3,348.6 425.6,347.4 426.1,346.4 426.9,345.4 427.9,344.9 429.2,344.6 430.4,344.9 431.4,345.5 432.2,346.4 432.8,347.6 433.0,348.9 432.8,350.4 432.3,351.9 431.7,352.9"/><path fill="none" stroke="#444" stroke-width="0.5" d="M482.2,349.9 480.9,349.8 479.8,349.4 479.2,348.9 479.2,348.1 480.2,347.5 481.7,347.2 483.4,347.5 484.5,348.1 484.6,348.9 484.2,349.4 483.2,349.8 482.2,349.9"/></g>
<path d="M427.70,275.40 L496.50,275.40 L496.50,349.10" stroke="#666" stroke-width="0.6" fill="none"/>
<path d="M479.50,275.40 L479.50,290.00 L464.90,311.00 L427.70,310.60" stroke="#666" stroke-width="0.6" fill="none"/>
<path d="M456.70,310.60 L456.70,349.10" stroke="#666" stroke-width="0.6" fill="none"/>
<rect x="427.7" y="262.4" width="83.80000000000001" height="86.70000000000005" fill="none" stroke="#9a9a9a" stroke-width="1.0"/>
<text x="424.70" y="265.10" font-size="5.9" text-anchor="end" fill="#222">10000</text>
<line x1="426.10" y1="262.40" x2="427.70" y2="262.40" stroke="#777" stroke-width="0.5"/>
<text x="424.70" y="286.77" font-size="5.9" text-anchor="end" fill="#222">1000</text>
<line x1="426.10" y1="284.07" x2="427.70" y2="284.07" stroke="#777" stroke-width="0.5"/>
<text x="424.70" y="308.45" font-size="5.9" text-anchor="end" fill="#222">100</text>
<line x1="426.10" y1="305.75" x2="427.70" y2="305.75" stroke="#777" stroke-width="0.5"/>
<text x="424.70" y="330.12" font-size="5.9" text-anchor="end" fill="#222">10</text>
<line x1="426.10" y1="327.43" x2="427.70" y2="327.43" stroke="#777" stroke-width="0.5"/>
<text x="424.70" y="351.80" font-size="5.9" text-anchor="end" fill="#222">1</text>
<line x1="426.10" y1="349.10" x2="427.70" y2="349.10" stroke="#777" stroke-width="0.5"/>
<path d="M427.70,342.58h1.2M434.01,349.10v-1.2M427.70,338.76h1.2M437.70,349.10v-1.2M427.70,336.05h1.2M440.31,349.10v-1.2M427.70,333.95h1.2M442.34,349.10v-1.2M427.70,332.23h1.2M444.00,349.10v-1.2M427.70,330.78h1.2M445.40,349.10v-1.2M427.70,329.53h1.2M446.62,349.10v-1.2M427.70,328.42h1.2M447.69,349.10v-1.2M427.70,320.90h1.2M454.96,349.10v-1.2M427.70,317.08h1.2M458.65,349.10v-1.2M427.70,314.38h1.2M461.26,349.10v-1.2M427.70,312.27h1.2M463.29,349.10v-1.2M427.70,310.56h1.2M464.95,349.10v-1.2M427.70,309.11h1.2M466.35,349.10v-1.2M427.70,307.85h1.2M467.57,349.10v-1.2M427.70,306.74h1.2M468.64,349.10v-1.2M427.70,299.23h1.2M475.91,349.10v-1.2M427.70,295.41h1.2M479.60,349.10v-1.2M427.70,292.70h1.2M482.21,349.10v-1.2M427.70,290.60h1.2M484.24,349.10v-1.2M427.70,288.88h1.2M485.90,349.10v-1.2M427.70,287.43h1.2M487.30,349.10v-1.2M427.70,286.18h1.2M488.52,349.10v-1.2M427.70,285.07h1.2M489.59,349.10v-1.2M427.70,277.55h1.2M496.86,349.10v-1.2M427.70,273.73h1.2M500.55,349.10v-1.2M427.70,271.03h1.2M503.16,349.10v-1.2M427.70,268.92h1.2M505.19,349.10v-1.2M427.70,267.21h1.2M506.85,349.10v-1.2M427.70,265.76h1.2M508.25,349.10v-1.2M427.70,264.50h1.2M509.47,349.10v-1.2M427.70,263.39h1.2M510.54,349.10v-1.2" stroke="#888" stroke-width="0.45" fill="none"/>
<text x="427.70" y="357.70" font-size="5.9" text-anchor="middle" fill="#222">1</text>
<line x1="427.70" y1="349.10" x2="427.70" y2="350.70" stroke="#777" stroke-width="0.5"/>
<text x="448.65" y="357.70" font-size="5.9" text-anchor="middle" fill="#222">10</text>
<line x1="448.65" y1="349.10" x2="448.65" y2="350.70" stroke="#777" stroke-width="0.5"/>
<text x="469.60" y="357.70" font-size="5.9" text-anchor="middle" fill="#222">100</text>
<line x1="469.60" y1="349.10" x2="469.60" y2="350.70" stroke="#777" stroke-width="0.5"/>
<text x="490.55" y="357.70" font-size="5.9" text-anchor="middle" fill="#222">1000</text>
<line x1="490.55" y1="349.10" x2="490.55" y2="350.70" stroke="#777" stroke-width="0.5"/>
<text x="511.50" y="357.70" font-size="5.9" text-anchor="middle" fill="#222">10000</text>
<line x1="511.50" y1="349.10" x2="511.50" y2="350.70" stroke="#777" stroke-width="0.5"/>
<text x="428.90" y="284.88" font-size="10.5" text-anchor="start" fill="#111" stroke="#111" stroke-width="0.15">11</text>
<text x="428.90" y="341.18" font-size="10.5" text-anchor="start" fill="#111" stroke="#111" stroke-width="0.15">3.3</text>
<text x="483.00" y="340.78" font-size="10.5" text-anchor="start" fill="#111" stroke="#111" stroke-width="0.15">86</text>
<circle cx="233.2" cy="318.2" r="2.6" fill="none" stroke="#555" stroke-width="0.6"/>
<circle cx="233.2" cy="318.2" r="1.5" fill="none" stroke="#777" stroke-width="0.4"/>
<path d="M221.3,310.8 L223.2,313.6 L221.3,316.4 L219.4,313.6 Z" fill="none" stroke="#777" stroke-width="0.5"/>
<circle cx="237.3" cy="90.0" r="0.45" fill="#888"/>
<circle cx="250.7" cy="87.4" r="0.45" fill="#888"/>
<circle cx="246.0" cy="97.1" r="0.45" fill="#888"/>
<circle cx="226.4" cy="101.7" r="0.45" fill="#888"/>
<circle cx="225.5" cy="99.3" r="0.45" fill="#888"/>
<circle cx="226.9" cy="88.0" r="0.45" fill="#888"/>
<circle cx="241.4" cy="112.3" r="0.45" fill="#888"/>
<circle cx="229.1" cy="92.4" r="0.45" fill="#888"/>
<circle cx="249.7" cy="116.3" r="0.45" fill="#888"/>
<circle cx="247.7" cy="98.1" r="0.45" fill="#888"/>
<circle cx="264.0" cy="86.5" r="0.45" fill="#888"/>
<circle cx="259.2" cy="94.6" r="0.45" fill="#888"/>
<circle cx="229.9" cy="88.9" r="0.45" fill="#888"/>
<circle cx="236.6" cy="111.9" r="0.45" fill="#888"/>
<circle cx="192.1" cy="112.4" r="0.45" fill="#888"/>
<circle cx="207.7" cy="106.2" r="0.45" fill="#888"/>
<circle cx="204.6" cy="96.9" r="0.45" fill="#888"/>
<circle cx="188.0" cy="101.2" r="0.45" fill="#888"/>
<circle cx="209.1" cy="107.8" r="0.45" fill="#888"/>
<circle cx="236.9" cy="208.7" r="0.45" fill="#888"/>
<circle cx="242.6" cy="199.6" r="0.45" fill="#888"/>
<circle cx="256.6" cy="212.4" r="0.45" fill="#888"/>
<circle cx="234.0" cy="208.4" r="0.45" fill="#888"/>
<circle cx="245.5" cy="218.0" r="0.45" fill="#888"/>
<circle cx="253.9" cy="199.2" r="0.45" fill="#888"/>
<circle cx="264.2" cy="193.8" r="0.45" fill="#888"/>
<circle cx="241.1" cy="214.2" r="0.45" fill="#888"/>
<circle cx="230.2" cy="205.6" r="0.45" fill="#888"/>
<circle cx="225.6" cy="211.4" r="0.45" fill="#888"/>
<circle cx="255.3" cy="208.3" r="0.45" fill="#888"/>
<circle cx="259.9" cy="200.0" r="0.45" fill="#888"/>
<circle cx="209.6" cy="214.9" r="0.45" fill="#888"/>
<circle cx="205.7" cy="211.4" r="0.45" fill="#888"/>
<circle cx="214.6" cy="223.6" r="0.45" fill="#888"/>
<circle cx="202.1" cy="216.6" r="0.45" fill="#888"/>
<circle cx="188.1" cy="217.5" r="0.45" fill="#888"/>
<circle cx="250.5" cy="335.8" r="0.45" fill="#888"/>
<circle cx="257.7" cy="310.2" r="0.45" fill="#888"/>
<circle cx="239.8" cy="324.1" r="0.45" fill="#888"/>
<circle cx="224.9" cy="316.6" r="0.45" fill="#888"/>
<circle cx="230.9" cy="304.2" r="0.45" fill="#888"/>
<circle cx="226.4" cy="327.7" r="0.45" fill="#888"/>
<circle cx="229.3" cy="308.9" r="0.45" fill="#888"/>
<circle cx="240.0" cy="331.4" r="0.45" fill="#888"/>
<text x="1.00" y="13.60" font-size="17" text-anchor="start" fill="#111" font-weight="bold" stroke="#111" stroke-width="0.2">A</text>
<text x="1.20" y="415.00" font-size="17" text-anchor="start" fill="#111" font-weight="bold" stroke="#111" stroke-width="0.2">B</text>
<text x="54.60" y="31.00" font-size="13.5" text-anchor="start" fill="#111" font-weight="bold" stroke="#111" stroke-width="0.2">i</text>
<text x="185.20" y="31.00" font-size="13.5" text-anchor="start" fill="#111" font-weight="bold" stroke="#111" stroke-width="0.2">ii</text>
<text x="313.30" y="31.00" font-size="13.5" text-anchor="start" fill="#111" font-weight="bold" stroke="#111" stroke-width="0.2">iii</text>
<text x="425.00" y="31.00" font-size="13.5" text-anchor="start" fill="#111" font-weight="bold" stroke="#111" stroke-width="0.2">iv</text>
<text x="192.30" y="43.50" font-size="9.7" text-anchor="start" fill="#111" stroke="#111" stroke-width="0.2">B220+CD43+</text>
<text x="325.90" y="44.10" font-size="9.8" text-anchor="start" fill="#111" stroke="#111" stroke-width="0.2">B220intCD43-</text>
<text x="436.80" y="44.70" font-size="9.3" text-anchor="start" fill="#111" stroke="#111" stroke-width="0.2">B220hiCD43-</text>
<text x="3.00" y="93.70" font-size="9.8" text-anchor="start" fill="#111" stroke="#111" stroke-width="0.2">WT</text>
<text x="5.00" y="198.80" font-size="9.8" text-anchor="start" fill="#111" stroke="#111" stroke-width="0.2">+/-</text>
<text x="4.00" y="317.80" font-size="9.8" text-anchor="start" fill="#111" stroke="#111" stroke-width="0.2">KO</text>
<text x="32.80" y="201.00" font-size="9.8" text-anchor="middle" fill="#111" transform="rotate(-90 32.8 201)" stroke="#111" stroke-width="0.2">B220</text>
<text x="96.00" y="380.00" font-size="9.8" text-anchor="middle" fill="#111" stroke="#111" stroke-width="0.2">CD43</text>
<text x="167.40" y="200.30" font-size="9.8" text-anchor="middle" fill="#111" transform="rotate(-90 167.4 200.3)" stroke="#111" stroke-width="0.2">6C3(BP1)</text>
<text x="223.00" y="383.00" font-size="9.8" text-anchor="middle" fill="#111" stroke="#111" stroke-width="0.2">CD24</text>
<text x="289.30" y="200.50" font-size="10.3" text-anchor="middle" fill="#111" transform="rotate(-90 289.3 200.5)" stroke="#111" stroke-width="0.2">IgM</text>
<text x="407.40" y="381.00" font-size="9.8" text-anchor="middle" fill="#111" stroke="#111" stroke-width="0.2">IgD</text>
<line x1="53.00" y1="585.65" x2="326.60" y2="585.65" stroke="#5a5a5a" stroke-width="1.0"/>
<line x1="53.00" y1="545.50" x2="326.60" y2="545.50" stroke="#5a5a5a" stroke-width="1.0"/>
<line x1="53.00" y1="505.35" x2="326.60" y2="505.35" stroke="#5a5a5a" stroke-width="1.0"/>
<line x1="53.00" y1="465.20" x2="326.60" y2="465.20" stroke="#5a5a5a" stroke-width="1.0"/>
<line x1="53.00" y1="425.05" x2="326.60" y2="425.05" stroke="#5a5a5a" stroke-width="1.0"/>
<line x1="53.00" y1="625.80" x2="326.60" y2="625.80" stroke="#999" stroke-width="1.0"/>
<line x1="53.00" y1="424.70" x2="53.00" y2="626.30" stroke="#a0a0a0" stroke-width="1.0"/>
<line x1="326.60" y1="424.70" x2="326.60" y2="626.30" stroke="#aaa" stroke-width="0.8"/>
<line x1="50.30" y1="625.80" x2="53.00" y2="625.80" stroke="#bbb" stroke-width="0.8"/>
<text x="46.20" y="628.60" font-size="10.3" text-anchor="end" fill="#222" stroke="#222" stroke-width="0.2">0.00</text>
<line x1="50.30" y1="585.65" x2="53.00" y2="585.65" stroke="#bbb" stroke-width="0.8"/>
<text x="46.20" y="588.45" font-size="10.3" text-anchor="end" fill="#222" stroke="#222" stroke-width="0.2">0.50</text>
<line x1="50.30" y1="545.50" x2="53.00" y2="545.50" stroke="#bbb" stroke-width="0.8"/>
<text x="46.20" y="548.30" font-size="10.3" text-anchor="end" fill="#222" stroke="#222" stroke-width="0.2">1.00</text>
<line x1="50.30" y1="505.35" x2="53.00" y2="505.35" stroke="#bbb" stroke-width="0.8"/>
<text x="46.20" y="508.15" font-size="10.3" text-anchor="end" fill="#222" stroke="#222" stroke-width="0.2">1.50</text>
<line x1="50.30" y1="465.20" x2="53.00" y2="465.20" stroke="#bbb" stroke-width="0.8"/>
<text x="46.20" y="468.00" font-size="10.3" text-anchor="end" fill="#222" stroke="#222" stroke-width="0.2">2.00</text>
<line x1="50.30" y1="425.05" x2="53.00" y2="425.05" stroke="#bbb" stroke-width="0.8"/>
<text x="46.20" y="427.85" font-size="10.3" text-anchor="end" fill="#222" stroke="#222" stroke-width="0.2">2.50</text>
<text x="10.70" y="526.60" font-size="13.2" text-anchor="middle" fill="#111" font-weight="bold" transform="rotate(-90 10.7 526.6)" letter-spacing="0.35" stroke="#111" stroke-width="0.2">Ratio KO:WT</text>
<path d="M87.00,494.11 L155.50,512.58 L224.10,449.94 L292.50,552.73" stroke="#151515" stroke-width="1.0" fill="none"/>
<path d="M87.00,544.70 L155.50,543.89 L224.10,545.50 L292.50,520.61" stroke="#151515" stroke-width="1.0" fill="none"/>
<path d="M87.00,551.52 L155.50,543.89 L224.10,562.36 L292.50,483.67" stroke="#151515" stroke-width="1.0" fill="none"/>
<path d="M87.00,545.50 L155.50,555.94 L224.10,549.92 L292.50,588.86" stroke="#151515" stroke-width="1.0" fill="none"/>
<path d="M87.00,553.53 L155.50,555.94 L224.10,617.77 L292.50,596.89" stroke="#151515" stroke-width="1.0" fill="none"/>
<path d="M87.00,555.94 L155.50,569.59 L224.10,562.76 L292.50,563.97" stroke="#151515" stroke-width="1.0" fill="none"/>
<path d="M87.00,592.48 L155.50,574.41 L224.10,614.56 L292.50,591.27" stroke="#151515" stroke-width="1.0" fill="none"/>
<path d="M87.00,559.15 L155.50,575.21 L224.10,576.82 L292.50,503.74" stroke="#151515" stroke-width="1.0" fill="none"/>
<path d="M87.00,546.30 L155.50,580.83 L224.10,498.93 L292.50,581.63" stroke="#151515" stroke-width="1.0" fill="none"/>
<path d="M87.00,577.62 L155.50,589.66 L224.10,612.15 L292.50,588.06" stroke="#151515" stroke-width="1.0" fill="none"/>
<path d="M87.00,584.85 L155.50,555.14 L224.10,613.35 L292.50,528.64" stroke="#151515" stroke-width="1.0" fill="none"/>
<path d="M87.00,596.89 L155.50,592.07 L224.10,547.91 L292.50,560.76" stroke="#151515" stroke-width="1.0" fill="none"/>
<path d="M87.00,595.29 L155.50,591.27 L224.10,591.27 L292.50,593.68" stroke="#151515" stroke-width="1.0" fill="none"/>
<path d="M87.00,606.53 L155.50,600.10 L224.10,619.38 L292.50,606.53" stroke="#151515" stroke-width="1.0" fill="none"/>
<path d="M87.00,604.12 L155.50,576.01 L224.10,616.57 L292.50,594.48" stroke="#151515" stroke-width="1.0" fill="none"/>
<path d="M84.75,496.01 L87.00,491.61 L89.25,496.01 Z" fill="#0a0a0a"/>
<path d="M153.25,514.48 L155.50,510.08 L157.75,514.48 Z" fill="#0a0a0a"/>
<path d="M221.85,451.84 L224.10,447.44 L226.35,451.84 Z" fill="#0a0a0a"/>
<path d="M290.25,554.63 L292.50,550.23 L294.75,554.63 Z" fill="#0a0a0a"/>
<path d="M84.75,546.60 L87.00,542.20 L89.25,546.60 Z" fill="#0a0a0a"/>
<path d="M153.25,545.79 L155.50,541.39 L157.75,545.79 Z" fill="#0a0a0a"/>
<path d="M221.85,547.40 L224.10,543.00 L226.35,547.40 Z" fill="#0a0a0a"/>
<path d="M290.25,522.51 L292.50,518.11 L294.75,522.51 Z" fill="#0a0a0a"/>
<path d="M84.75,553.42 L87.00,549.02 L89.25,553.42 Z" fill="#0a0a0a"/>
<path d="M153.25,545.79 L155.50,541.39 L157.75,545.79 Z" fill="#0a0a0a"/>
<path d="M221.85,564.26 L224.10,559.86 L226.35,564.26 Z" fill="#0a0a0a"/>
<path d="M290.25,485.57 L292.50,481.17 L294.75,485.57 Z" fill="#0a0a0a"/>
<path d="M84.75,547.40 L87.00,543.00 L89.25,547.40 Z" fill="#0a0a0a"/>
<path d="M153.25,557.84 L155.50,553.44 L157.75,557.84 Z" fill="#0a0a0a"/>
<path d="M221.85,551.82 L224.10,547.42 L226.35,551.82 Z" fill="#0a0a0a"/>
<path d="M290.25,590.76 L292.50,586.36 L294.75,590.76 Z" fill="#0a0a0a"/>
<path d="M84.75,555.43 L87.00,551.03 L89.25,555.43 Z" fill="#0a0a0a"/>
<path d="M153.25,557.84 L155.50,553.44 L157.75,557.84 Z" fill="#0a0a0a"/>
<path d="M221.85,619.67 L224.10,615.27 L226.35,619.67 Z" fill="#0a0a0a"/>
<path d="M290.25,598.79 L292.50,594.39 L294.75,598.79 Z" fill="#0a0a0a"/>
<path d="M84.75,557.84 L87.00,553.44 L89.25,557.84 Z" fill="#0a0a0a"/>
<path d="M153.25,571.49 L155.50,567.09 L157.75,571.49 Z" fill="#0a0a0a"/>
<path d="M221.85,564.66 L224.10,560.26 L226.35,564.66 Z" fill="#0a0a0a"/>
<path d="M290.25,565.87 L292.50,561.47 L294.75,565.87 Z" fill="#0a0a0a"/>
<path d="M84.75,594.38 L87.00,589.98 L89.25,594.38 Z" fill="#0a0a0a"/>
<path d="M153.25,576.31 L155.50,571.91 L157.75,576.31 Z" fill="#0a0a0a"/>
<path d="M221.85,616.46 L224.10,612.06 L226.35,616.46 Z" fill="#0a0a0a"/>
<path d="M290.25,593.17 L292.50,588.77 L294.75,593.17 Z" fill="#0a0a0a"/>
<path d="M84.75,561.05 L87.00,556.65 L89.25,561.05 Z" fill="#0a0a0a"/>
<path d="M153.25,577.11 L155.50,572.71 L157.75,577.11 Z" fill="#0a0a0a"/>
<path d="M221.85,578.72 L224.10,574.32 L226.35,578.72 Z" fill="#0a0a0a"/>
<path d="M290.25,505.64 L292.50,501.24 L294.75,505.64 Z" fill="#0a0a0a"/>
<path d="M84.75,548.20 L87.00,543.80 L89.25,548.20 Z" fill="#0a0a0a"/>
<path d="M153.25,582.73 L155.50,578.33 L157.75,582.73 Z" fill="#0a0a0a"/>
<path d="M221.85,500.83 L224.10,496.43 L226.35,500.83 Z" fill="#0a0a0a"/>
<path d="M290.25,583.53 L292.50,579.13 L294.75,583.53 Z" fill="#0a0a0a"/>
<path d="M84.75,579.52 L87.00,575.12 L89.25,579.52 Z" fill="#0a0a0a"/>
<path d="M153.25,591.56 L155.50,587.16 L157.75,591.56 Z" fill="#0a0a0a"/>
<path d="M221.85,614.05 L224.10,609.65 L226.35,614.05 Z" fill="#0a0a0a"/>
<path d="M290.25,589.96 L292.50,585.56 L294.75,589.96 Z" fill="#0a0a0a"/>
<path d="M84.75,586.75 L87.00,582.35 L89.25,586.75 Z" fill="#0a0a0a"/>
<path d="M153.25,557.04 L155.50,552.64 L157.75,557.04 Z" fill="#0a0a0a"/>
<path d="M221.85,615.25 L224.10,610.85 L226.35,615.25 Z" fill="#0a0a0a"/>
<path d="M290.25,530.54 L292.50,526.14 L294.75,530.54 Z" fill="#0a0a0a"/>
<path d="M84.75,598.79 L87.00,594.39 L89.25,598.79 Z" fill="#0a0a0a"/>
<path d="M153.25,593.97 L155.50,589.57 L157.75,593.97 Z" fill="#0a0a0a"/>
<path d="M221.85,549.81 L224.10,545.41 L226.35,549.81 Z" fill="#0a0a0a"/>
<path d="M290.25,562.66 L292.50,558.26 L294.75,562.66 Z" fill="#0a0a0a"/>
<path d="M84.75,597.19 L87.00,592.79 L89.25,597.19 Z" fill="#0a0a0a"/>
<path d="M153.25,593.17 L155.50,588.77 L157.75,593.17 Z" fill="#0a0a0a"/>
<path d="M221.85,593.17 L224.10,588.77 L226.35,593.17 Z" fill="#0a0a0a"/>
<path d="M290.25,595.58 L292.50,591.18 L294.75,595.58 Z" fill="#0a0a0a"/>
<path d="M84.75,608.43 L87.00,604.03 L89.25,608.43 Z" fill="#0a0a0a"/>
<path d="M153.25,602.00 L155.50,597.60 L157.75,602.00 Z" fill="#0a0a0a"/>
<path d="M221.85,621.28 L224.10,616.88 L226.35,621.28 Z" fill="#0a0a0a"/>
<path d="M290.25,608.43 L292.50,604.03 L294.75,608.43 Z" fill="#0a0a0a"/>
<path d="M84.75,606.02 L87.00,601.62 L89.25,606.02 Z" fill="#0a0a0a"/>
<path d="M153.25,577.91 L155.50,573.51 L157.75,577.91 Z" fill="#0a0a0a"/>
<path d="M221.85,618.47 L224.10,614.07 L226.35,618.47 Z" fill="#0a0a0a"/>
<path d="M290.25,596.38 L292.50,591.98 L294.75,596.38 Z" fill="#0a0a0a"/>
<line x1="79.80" y1="571.20" x2="93.80" y2="571.20" stroke="#888" stroke-width="2.6"/>
<line x1="148.30" y1="572.80" x2="162.30" y2="572.80" stroke="#888" stroke-width="2.6"/>
<line x1="216.90" y1="574.41" x2="230.90" y2="574.41" stroke="#888" stroke-width="2.6"/>
<line x1="285.30" y1="561.56" x2="299.30" y2="561.56" stroke="#888" stroke-width="2.6"/>
<text x="86.75" y="646.30" font-size="12" text-anchor="middle" fill="#111" stroke="#111" stroke-width="0.2">All B</text>
<text x="86.75" y="661.50" font-size="12" text-anchor="middle" fill="#111" stroke="#111" stroke-width="0.2">(B220+)</text>
<text x="153.75" y="646.30" font-size="12" text-anchor="middle" fill="#111" stroke="#111" stroke-width="0.2">Hardy</text>
<text x="153.75" y="661.50" font-size="12" text-anchor="middle" fill="#111" stroke="#111" stroke-width="0.2">A-C</text>
<text x="223.60" y="646.30" font-size="12" text-anchor="middle" fill="#111" stroke="#111" stroke-width="0.2">Hardy</text>
<text x="223.60" y="661.50" font-size="12" text-anchor="middle" fill="#111" stroke="#111" stroke-width="0.2">D-E</text>
<text x="290.30" y="646.30" font-size="12" text-anchor="middle" fill="#111" stroke="#111" stroke-width="0.2">Hardy</text>
<text x="290.30" y="661.50" font-size="12" text-anchor="middle" fill="#111" stroke="#111" stroke-width="0.2">F</text>
</svg></body></html>
